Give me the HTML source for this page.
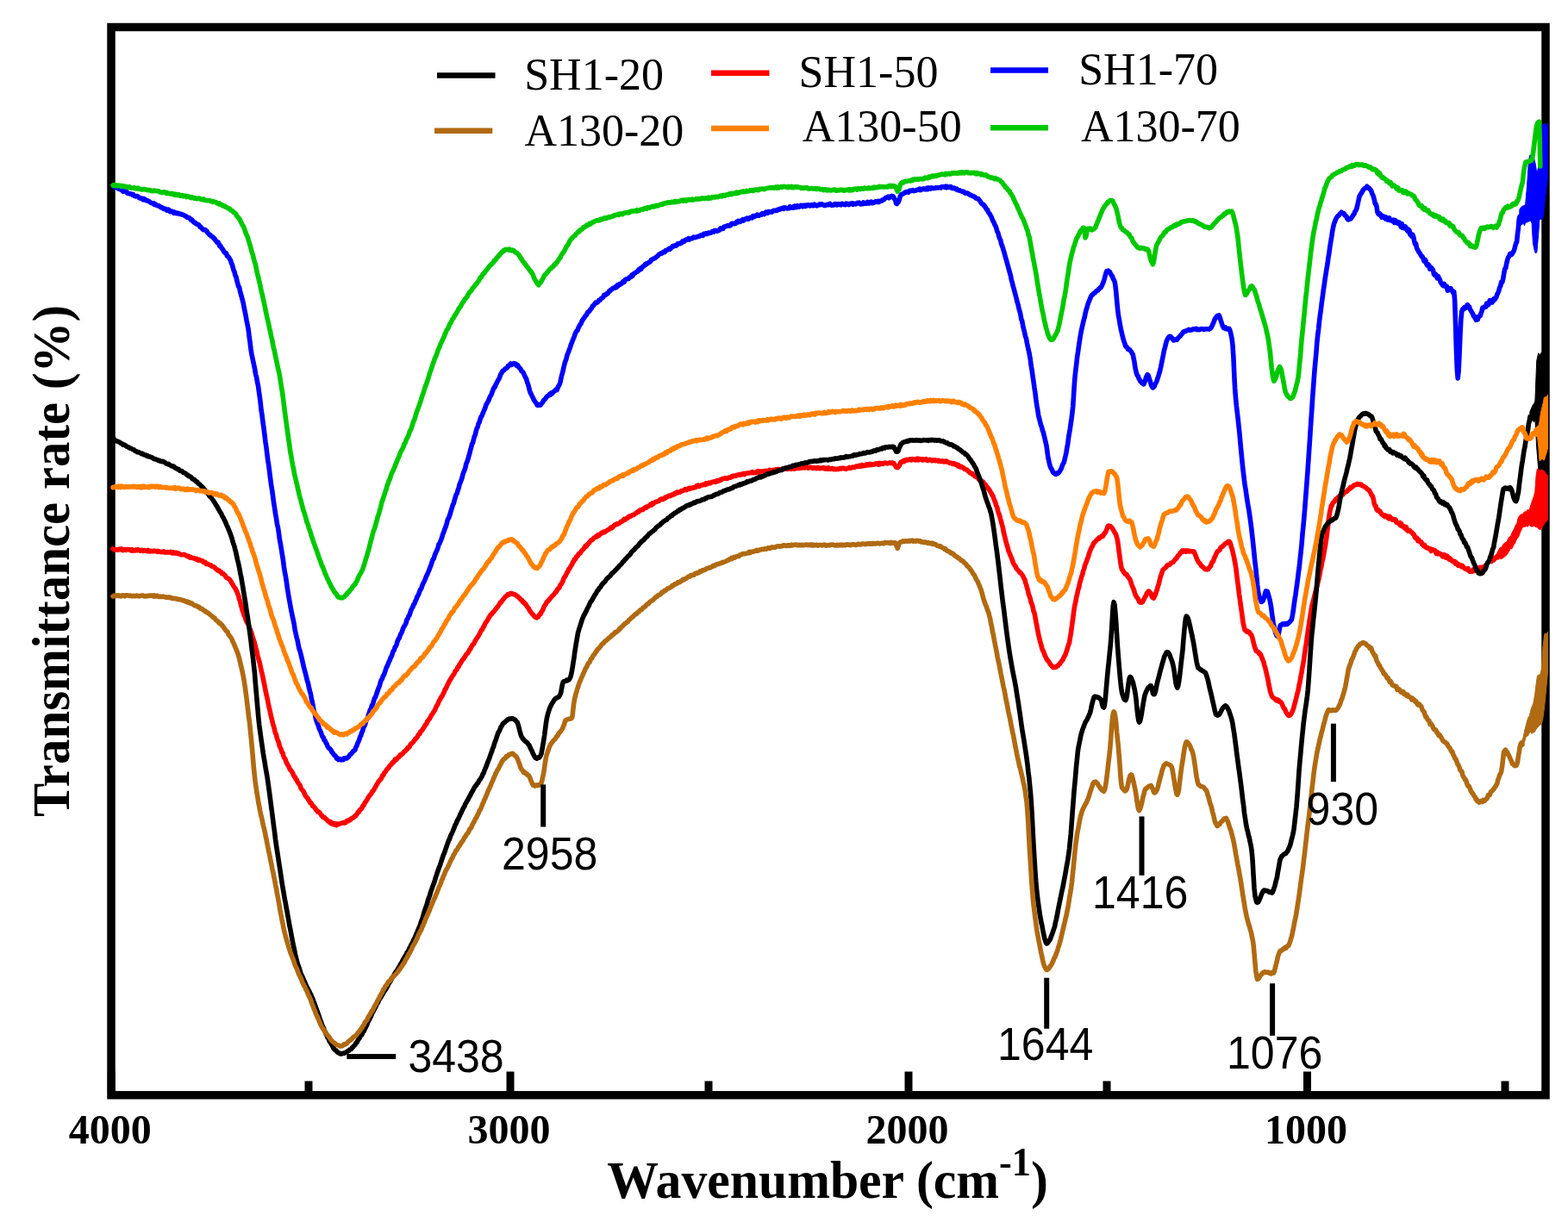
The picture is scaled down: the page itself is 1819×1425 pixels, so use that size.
<!DOCTYPE html>
<html><head><meta charset="utf-8"><title>FTIR spectra</title>
<style>
html,body{margin:0;padding:0;background:#fff;}
body{width:1819px;height:1425px;overflow:hidden;}
svg{display:block;}
.ser{font-family:'Liberation Serif','Times New Roman',serif;}
.san{font-family:'Liberation Sans',Arial,sans-serif;}
</style></head><body>
<svg width="1819" height="1425" viewBox="0 0 1819 1425">
<rect x="0" y="0" width="1819" height="1425" fill="#fff"/>
<rect x="129" y="31.5" width="1664" height="1239.3" fill="none" stroke="#000" stroke-width="9.5"/>
<rect x="124.8" y="1243.5" width="9" height="25" fill="#000"/>
<rect x="587.5" y="1243.5" width="9" height="25" fill="#000"/>
<rect x="1049.5" y="1243.5" width="9" height="25" fill="#000"/>
<rect x="1512.0" y="1243.5" width="9" height="25" fill="#000"/>
<rect x="353.5" y="1254.5" width="9" height="14" fill="#000"/>
<rect x="817.5" y="1254.5" width="9" height="14" fill="#000"/>
<rect x="1279.5" y="1254.5" width="9" height="14" fill="#000"/>
<rect x="1741.5" y="1254.5" width="9" height="14" fill="#000"/>
<g fill="none" stroke-width="5.6" stroke-linejoin="round" stroke-linecap="round">
<polyline stroke="#ff0000" points="131.0,636.8 132.0,637.4 133.0,637.9 134.0,637.8 135.0,637.9 136.0,637.5 137.0,638.1 138.0,637.7 138.9,637.0 139.9,637.7 140.9,637.0 141.9,638.5 142.9,638.6 143.9,637.6 144.9,637.6 145.9,638.4 146.9,637.5 147.9,637.5 148.9,637.6 149.9,637.8 150.9,638.3 151.9,638.9 152.9,637.7 153.9,639.0 154.8,638.4 155.8,639.0 156.8,638.9 157.8,637.9 158.8,638.7 159.8,637.9 160.8,637.8 161.8,638.4 162.8,639.1 163.8,638.8 164.8,638.3 165.8,639.3 166.8,639.5 167.8,638.5 168.8,638.9 169.8,639.2 170.8,639.7 171.8,638.5 172.8,639.2 173.8,639.9 174.8,639.4 175.8,639.7 176.8,639.8 177.8,639.4 178.8,639.1 179.8,639.7 180.7,639.6 181.7,639.4 182.7,640.3 183.7,639.6 184.7,639.8 185.7,640.4 186.7,640.5 187.7,640.7 188.7,640.4 189.7,639.8 190.7,640.9 191.7,641.1 192.7,640.8 193.7,641.0 194.7,640.7 195.7,640.8 196.7,641.0 197.7,640.4 198.7,641.4 199.7,641.8 200.7,640.8 201.7,641.9 202.6,642.0 203.6,641.2 204.6,641.3 205.6,642.4 206.6,642.0 207.6,642.3 208.5,643.1 209.5,643.4 210.5,643.8 211.5,643.7 212.5,643.6 213.5,643.4 214.4,643.8 215.4,644.3 216.4,645.1 217.4,645.7 218.4,645.2 219.4,645.8 220.3,647.0 221.3,646.4 222.3,647.2 223.3,647.4 224.3,647.8 225.3,647.8 226.2,648.3 227.2,648.9 228.2,648.4 229.2,649.8 230.2,650.3 231.1,649.3 232.1,650.0 233.1,650.5 234.1,650.6 235.1,651.1 236.0,652.4 237.0,652.0 238.0,652.4 239.0,654.3 240.0,653.9 240.9,654.6 241.9,655.0 242.9,655.3 243.9,656.0 244.9,656.1 245.8,657.3 246.8,657.3 247.8,657.7 248.8,658.4 249.7,659.3 250.7,660.7 251.6,660.8 252.6,662.1 253.5,661.8 254.5,662.2 255.4,663.6 256.4,663.5 257.4,665.6 258.3,665.4 259.3,666.0 260.2,666.8 261.2,667.7 262.1,669.6 263.1,670.6 264.0,670.9 265.0,671.4 266.0,672.1 267.0,673.3 267.9,674.9 268.9,676.7 269.9,678.1 270.9,679.9 271.9,681.5 272.8,682.4 273.8,684.8 274.8,686.4 275.7,689.1 276.6,691.0 277.6,695.5 278.5,697.3 279.4,701.8 280.4,704.8 281.3,708.7 282.2,710.5 283.2,714.4 284.2,715.5 285.1,719.1 286.1,721.3 287.1,723.2 288.1,724.9 289.1,727.6 290.0,730.1 291.0,732.3 292.0,735.1 293.0,739.2 294.0,742.0 295.0,745.0 296.0,749.2 296.9,752.9 297.9,755.9 298.9,760.6 299.9,764.6 300.9,767.8 301.9,772.2 302.9,777.2 303.9,781.1 304.8,785.1 305.8,790.0 306.8,794.9 307.8,800.2 308.8,805.3 309.7,808.9 310.7,813.7 311.7,819.0 312.7,822.9 313.7,827.6 314.6,831.7 315.6,835.7 316.6,840.2 317.5,842.7 318.5,846.8 319.4,850.6 320.4,852.4 321.3,856.4 322.3,859.1 323.2,861.2 324.2,865.2 325.1,867.6 326.1,869.5 327.0,872.8 328.0,873.9 328.9,877.3 329.9,879.5 330.8,880.5 331.8,883.8 332.7,885.6 333.7,887.7 334.6,888.5 335.6,891.1 336.5,892.9 337.5,894.0 338.5,895.2 339.4,896.8 340.4,899.2 341.3,900.9 342.3,901.8 343.2,904.2 344.2,904.9 345.1,907.2 346.1,908.8 347.1,910.0 348.1,911.4 349.0,914.4 350.0,916.0 351.0,917.2 352.0,918.0 353.0,920.4 353.9,922.7 354.9,924.0 355.9,925.5 356.9,926.0 357.9,928.3 358.8,929.2 359.8,931.8 360.8,931.7 361.8,933.3 362.8,935.6 363.7,935.6 364.7,936.9 365.7,938.0 366.7,939.9 367.7,940.6 368.7,942.0 369.6,941.9 370.6,942.7 371.6,944.2 372.6,945.9 373.6,946.6 374.6,948.1 375.5,948.7 376.5,948.6 377.5,949.9 378.5,950.6 379.5,951.5 380.5,952.9 381.4,953.2 382.4,954.4 383.4,953.8 384.4,955.8 385.4,955.0 386.4,956.4 387.3,956.8 388.3,955.8 389.3,956.7 390.3,957.5 391.3,955.9 392.2,956.6 393.2,956.3 394.1,956.1 395.1,955.6 396.0,955.3 397.0,955.1 397.9,954.7 398.9,954.4 399.9,955.0 400.8,954.7 401.8,953.1 402.7,952.3 403.7,952.2 404.6,952.6 405.6,951.0 406.5,951.3 407.5,949.8 408.5,949.7 409.5,948.7 410.4,948.6 411.4,947.3 412.4,947.0 413.4,945.5 414.4,944.2 415.3,942.4 416.3,942.5 417.3,939.9 418.3,939.3 419.3,938.6 420.2,936.9 421.2,934.7 422.2,934.2 423.2,931.6 424.2,930.6 425.1,929.0 426.1,927.7 427.1,925.5 428.1,924.2 429.1,922.6 430.0,922.1 431.0,920.4 432.0,918.3 433.0,917.6 434.0,915.9 435.0,913.9 435.9,912.8 436.9,910.6 437.9,909.2 438.9,907.4 439.9,905.9 440.9,905.1 441.9,903.9 442.8,902.3 443.8,899.8 444.8,899.4 445.8,896.9 446.8,896.0 447.8,894.5 448.7,892.9 449.7,891.9 450.7,890.9 451.7,889.4 452.7,888.0 453.6,887.4 454.6,886.2 455.6,884.6 456.6,884.6 457.5,882.7 458.5,881.1 459.5,881.7 460.4,880.8 461.4,879.2 462.4,878.7 463.4,877.7 464.3,875.9 465.3,876.1 466.3,875.0 467.2,874.7 468.2,873.0 469.2,871.7 470.1,871.6 471.1,870.3 472.1,869.8 473.1,867.4 474.0,867.4 475.0,866.7 476.0,864.3 477.0,863.0 478.0,862.5 478.9,861.5 479.9,860.3 480.9,858.9 481.9,857.3 482.9,856.6 483.9,855.7 484.8,853.6 485.8,852.1 486.8,851.7 487.8,849.0 488.8,848.3 489.8,847.3 490.7,845.8 491.7,844.3 492.7,842.7 493.7,840.9 494.7,840.2 495.7,837.2 496.6,836.3 497.6,834.8 498.6,833.7 499.6,831.5 500.6,829.7 501.6,828.5 502.5,827.1 503.5,825.2 504.5,824.0 505.5,821.5 506.5,819.2 507.4,818.1 508.4,815.8 509.4,813.3 510.4,812.0 511.4,809.6 512.3,808.5 513.3,806.9 514.3,804.7 515.3,803.1 516.3,799.9 517.2,799.1 518.2,797.1 519.2,794.4 520.2,792.9 521.2,790.7 522.1,789.1 523.1,787.7 524.1,785.8 525.1,784.2 526.1,783.1 527.1,781.4 528.0,778.9 529.0,778.1 530.0,776.8 531.0,774.1 532.0,773.7 533.0,771.0 533.9,770.2 534.9,768.6 535.9,766.6 536.9,765.2 537.9,764.6 538.9,762.5 539.8,761.4 540.8,759.4 541.8,758.6 542.8,757.7 543.8,755.9 544.8,753.8 545.7,753.2 546.7,750.7 547.7,749.1 548.7,747.8 549.7,747.1 550.7,744.6 551.7,742.8 552.6,741.5 553.6,740.0 554.6,738.6 555.6,736.8 556.6,735.0 557.6,732.9 558.5,731.3 559.5,730.5 560.5,728.0 561.5,726.7 562.5,724.4 563.5,722.3 564.4,721.3 565.4,719.9 566.4,718.1 567.4,716.3 568.4,714.7 569.4,713.1 570.3,712.8 571.3,711.2 572.3,710.3 573.3,709.2 574.3,707.8 575.3,706.6 576.2,705.5 577.2,704.2 578.2,702.7 579.2,701.5 580.2,699.3 581.1,699.1 582.1,697.6 583.1,696.3 584.1,695.2 585.1,694.0 586.0,692.7 587.0,691.8 588.0,691.6 589.0,689.9 590.0,690.0 590.9,690.0 591.9,688.7 592.9,688.5 593.9,688.8 594.9,689.2 595.8,689.6 596.8,689.6 597.8,690.2 598.8,690.7 599.8,691.9 600.7,692.2 601.7,693.3 602.7,693.9 603.7,695.5 604.7,696.4 605.6,696.6 606.6,698.8 607.6,698.5 608.6,700.4 609.6,700.6 610.6,702.3 611.5,703.8 612.5,705.2 613.5,706.4 614.5,708.7 615.5,709.9 616.5,711.2 617.5,712.4 618.5,713.3 619.4,714.5 620.4,715.7 621.4,716.2 622.4,716.8 623.3,716.2 624.3,716.0 625.2,714.1 626.2,712.8 627.1,712.6 628.1,710.1 629.0,708.7 630.0,707.4 630.9,704.4 631.9,702.7 632.8,701.6 633.8,699.7 634.7,698.1 635.6,697.9 636.6,696.5 637.5,695.3 638.5,694.5 639.4,692.9 640.4,691.9 641.3,690.8 642.3,690.2 643.2,688.8 644.2,687.8 645.1,686.6 646.1,685.4 647.0,683.3 648.0,683.0 649.0,681.7 649.9,678.8 650.9,678.2 651.9,676.1 652.9,674.6 653.9,671.6 654.8,669.8 655.8,668.7 656.8,666.8 657.8,664.2 658.8,663.4 659.7,660.5 660.7,659.9 661.7,658.0 662.7,656.2 663.7,654.7 664.6,652.2 665.6,651.3 666.6,648.9 667.6,648.8 668.5,646.6 669.5,645.1 670.4,645.0 671.4,642.6 672.4,642.4 673.3,641.7 674.3,639.8 675.2,638.7 676.2,637.9 677.2,636.8 678.1,635.3 679.1,633.5 680.1,634.0 681.0,632.5 682.0,631.2 682.9,630.5 683.9,628.9 684.9,628.0 685.8,626.8 686.8,626.5 687.7,626.0 688.7,624.5 689.7,623.8 690.7,623.4 691.7,622.1 692.6,622.7 693.6,621.0 694.6,621.5 695.6,620.4 696.6,619.4 697.6,618.4 698.5,618.7 699.5,617.2 700.5,617.1 701.5,617.6 702.5,616.8 703.5,616.0 704.5,615.3 705.4,614.7 706.4,614.4 707.4,614.0 708.4,612.2 709.4,612.8 710.4,612.4 711.3,611.1 712.3,610.1 713.3,609.1 714.3,608.9 715.3,607.9 716.2,608.3 717.2,607.5 718.2,607.2 719.2,606.8 720.2,605.3 721.1,605.4 722.1,604.8 723.1,603.9 724.1,602.5 725.1,603.2 726.0,602.2 727.0,601.4 728.0,601.5 729.0,599.7 730.0,599.0 730.9,599.5 731.9,599.0 732.9,598.1 733.9,597.6 734.9,597.4 735.9,596.9 736.9,596.1 737.9,595.6 738.9,594.7 739.9,593.6 740.9,594.0 741.9,592.3 742.9,591.9 743.9,592.0 744.9,591.1 745.9,591.4 746.9,589.9 747.9,589.6 748.9,588.6 749.9,589.1 750.9,587.8 751.8,587.8 752.8,587.3 753.8,586.3 754.8,585.2 755.8,586.1 756.8,584.0 757.8,584.8 758.8,583.2 759.8,583.1 760.8,582.6 761.8,582.1 762.8,581.9 763.8,581.5 764.8,581.0 765.8,579.6 766.8,579.6 767.8,578.8 768.8,579.6 769.8,578.5 770.8,578.7 771.8,577.1 772.7,577.4 773.7,576.7 774.7,575.9 775.7,575.3 776.7,575.5 777.6,575.6 778.6,574.5 779.6,574.2 780.6,574.4 781.6,572.9 782.5,572.7 783.5,573.2 784.5,571.5 785.5,571.0 786.5,571.7 787.4,571.0 788.4,571.3 789.4,570.4 790.4,569.6 791.4,569.9 792.3,569.2 793.3,569.1 794.3,568.1 795.3,567.6 796.3,568.6 797.3,568.2 798.3,566.8 799.3,566.4 800.2,567.3 801.2,566.8 802.2,566.1 803.2,566.4 804.2,566.1 805.2,565.8 806.2,565.7 807.2,565.2 808.2,563.7 809.2,564.4 810.1,563.3 811.1,564.3 812.1,563.9 813.1,563.3 814.1,562.8 815.1,562.9 816.1,562.0 817.1,562.4 818.1,562.6 819.1,560.9 820.0,561.2 821.0,561.6 822.0,560.3 823.0,560.3 824.0,560.8 825.0,560.1 826.0,559.3 827.0,559.3 828.0,559.0 829.0,558.9 830.0,559.4 831.0,557.9 832.0,557.7 833.0,558.4 834.0,557.4 834.9,557.4 835.9,557.4 836.9,555.9 837.9,555.7 838.9,555.4 839.9,555.2 840.9,554.7 841.9,554.7 842.9,555.5 843.9,555.2 844.9,554.5 845.9,554.0 846.9,554.1 847.9,554.1 848.9,552.8 849.9,553.2 850.9,552.0 851.9,552.2 852.8,552.2 853.8,552.1 854.8,551.2 855.8,551.3 856.8,550.7 857.8,550.8 858.8,551.3 859.8,550.2 860.8,550.1 861.8,550.4 862.8,549.5 863.8,550.5 864.8,549.4 865.8,549.2 866.8,549.1 867.8,549.1 868.8,548.9 869.8,548.7 870.8,548.6 871.8,548.1 872.8,547.7 873.8,548.8 874.8,548.6 875.8,548.4 876.8,547.8 877.8,548.4 878.8,547.0 879.8,546.7 880.7,548.0 881.7,547.2 882.7,547.1 883.7,546.9 884.7,547.1 885.7,546.9 886.7,546.9 887.7,546.4 888.7,546.8 889.7,546.5 890.7,546.6 891.7,546.4 892.7,545.3 893.7,545.7 894.7,546.0 895.7,545.9 896.7,545.4 897.7,545.5 898.7,545.9 899.7,544.8 900.7,544.7 901.7,544.7 902.7,544.4 903.7,545.0 904.7,544.9 905.7,545.4 906.7,544.6 907.7,544.0 908.6,543.7 909.6,544.4 910.6,543.6 911.6,543.5 912.6,544.0 913.6,544.4 914.6,543.5 915.6,543.4 916.6,543.0 917.6,544.3 918.6,544.0 919.6,543.5 920.6,542.7 921.6,544.0 922.6,543.4 923.6,543.5 924.6,543.4 925.6,543.2 926.5,542.9 927.5,543.4 928.5,542.3 929.5,542.5 930.5,543.0 931.5,542.8 932.5,542.8 933.5,542.9 934.5,542.2 935.5,542.3 936.5,542.0 937.5,543.1 938.5,543.0 939.5,542.1 940.5,542.4 941.5,542.6 942.5,543.4 943.5,543.3 944.5,542.5 945.5,542.9 946.5,543.2 947.5,543.6 948.5,542.6 949.5,542.7 950.5,543.7 951.5,543.6 952.5,543.0 953.5,543.0 954.4,543.3 955.4,542.7 956.4,543.7 957.4,544.0 958.4,543.2 959.4,544.3 960.4,544.3 961.4,543.0 962.4,544.2 963.4,544.3 964.4,544.0 965.4,543.4 966.4,543.9 967.4,544.7 968.4,544.1 969.4,544.7 970.4,544.5 971.4,544.2 972.4,544.5 973.4,543.9 974.4,543.4 975.4,544.0 976.4,543.4 977.4,543.5 978.4,543.1 979.4,543.7 980.4,544.0 981.4,544.2 982.3,543.7 983.3,543.5 984.3,543.4 985.3,542.4 986.3,542.9 987.3,543.2 988.3,542.6 989.3,542.0 990.3,542.4 991.3,542.4 992.3,541.5 993.3,541.0 994.3,541.0 995.3,541.5 996.3,540.5 997.3,540.3 998.3,541.3 999.3,539.7 1000.2,539.6 1001.2,540.6 1002.2,540.2 1003.2,540.4 1004.2,540.3 1005.2,539.0 1006.2,539.8 1007.2,538.9 1008.2,539.5 1009.2,538.4 1010.2,539.4 1011.2,538.5 1012.2,539.1 1013.2,538.7 1014.2,538.9 1015.2,538.5 1016.1,537.8 1017.1,538.1 1018.1,538.0 1019.1,539.1 1020.1,537.5 1021.1,538.6 1022.1,537.5 1023.1,537.7 1024.1,538.3 1025.1,538.0 1026.1,537.1 1027.1,537.4 1028.1,537.4 1029.1,537.9 1030.0,537.6 1031.0,537.5 1032.0,536.8 1033.0,537.4 1034.0,537.5 1035.0,536.9 1036.0,537.6 1036.9,537.5 1037.8,539.2 1038.7,540.5 1039.6,542.2 1040.5,542.3 1041.4,542.6 1042.3,541.5 1043.2,540.5 1044.2,537.9 1045.1,536.2 1046.0,535.8 1047.0,536.0 1047.9,534.8 1048.9,535.6 1049.8,534.1 1050.8,534.4 1051.7,533.3 1052.7,533.8 1053.6,533.9 1054.6,533.3 1055.5,532.8 1056.5,533.2 1057.4,533.8 1058.4,532.6 1059.4,533.4 1060.4,533.1 1061.4,533.8 1062.4,532.7 1063.4,533.6 1064.4,532.3 1065.4,533.8 1066.4,532.4 1067.4,532.9 1068.3,532.8 1069.3,532.9 1070.3,533.9 1071.3,532.9 1072.3,533.5 1073.3,533.6 1074.3,532.8 1075.3,534.0 1076.3,534.4 1077.3,533.7 1078.3,533.3 1079.3,533.5 1080.3,534.0 1081.3,534.7 1082.3,534.5 1083.3,533.8 1084.3,533.7 1085.3,534.7 1086.2,534.4 1087.2,534.3 1088.2,535.1 1089.2,534.4 1090.2,535.3 1091.2,535.4 1092.2,535.5 1093.2,534.8 1094.2,535.3 1095.2,536.0 1096.2,535.2 1097.2,535.0 1098.2,535.1 1099.1,536.3 1100.1,536.3 1101.1,536.9 1102.1,537.5 1103.1,537.2 1104.1,537.3 1105.1,538.3 1106.0,538.4 1107.0,537.7 1108.0,538.4 1109.0,539.3 1110.0,539.1 1111.0,540.7 1111.9,539.6 1112.9,541.4 1113.9,541.9 1114.9,541.4 1115.9,541.8 1116.9,542.7 1117.8,542.7 1118.8,544.5 1119.8,544.5 1120.8,544.9 1121.8,545.2 1122.7,546.4 1123.7,547.2 1124.7,548.1 1125.7,548.8 1126.7,549.6 1127.6,549.3 1128.6,550.6 1129.6,551.2 1130.6,552.6 1131.6,552.4 1132.5,553.3 1133.5,553.9 1134.5,554.7 1135.5,556.4 1136.5,557.1 1137.4,558.0 1138.4,557.8 1139.4,558.8 1140.4,559.0 1141.4,560.9 1142.3,561.6 1143.3,562.4 1144.3,564.3 1145.2,565.6 1146.2,566.3 1147.2,567.8 1148.1,569.1 1149.0,570.9 1150.0,572.2 1151.0,574.7 1151.9,575.6 1152.9,578.7 1153.8,580.9 1154.8,583.3 1155.7,586.7 1156.7,588.5 1157.6,592.9 1158.6,595.8 1159.5,597.9 1160.5,602.2 1161.4,604.7 1162.4,609.0 1163.3,611.8 1164.2,617.2 1165.2,621.2 1166.1,624.7 1167.0,628.5 1168.0,632.2 1168.9,634.7 1169.8,638.9 1170.8,640.9 1171.7,643.6 1172.7,646.0 1173.6,647.8 1174.6,650.8 1175.5,653.3 1176.5,655.3 1177.4,656.2 1178.4,657.8 1179.3,660.1 1180.3,661.0 1181.2,662.0 1182.2,663.1 1183.1,664.5 1184.1,664.8 1185.0,666.1 1186.0,667.4 1186.9,668.8 1187.9,671.3 1188.8,672.5 1189.7,676.1 1190.6,678.6 1191.5,682.1 1192.4,685.0 1193.3,689.5 1194.2,691.6 1195.2,694.6 1196.1,698.9 1197.1,700.9 1198.1,704.5 1199.0,709.1 1200.0,711.5 1201.0,716.4 1201.9,721.6 1202.9,726.6 1203.9,731.9 1204.9,737.4 1205.8,740.8 1206.8,745.0 1207.7,747.8 1208.7,752.0 1209.6,754.6 1210.6,756.0 1211.5,758.9 1212.5,761.4 1213.4,763.0 1214.4,765.1 1215.3,766.7 1216.2,767.0 1217.1,768.6 1218.0,770.2 1218.9,771.5 1219.9,772.4 1220.8,773.6 1221.7,774.4 1222.6,774.6 1223.5,774.0 1224.5,774.3 1225.4,773.9 1226.4,772.6 1227.3,772.8 1228.3,771.3 1229.2,770.7 1230.2,768.8 1231.1,768.0 1232.1,766.5 1233.0,765.6 1234.0,763.1 1234.9,761.4 1235.8,760.1 1236.8,756.7 1237.7,754.4 1238.6,751.4 1239.6,747.9 1240.5,746.0 1241.4,740.2 1242.3,735.3 1243.2,728.6 1244.1,722.0 1245.0,715.1 1245.9,708.2 1246.8,702.6 1247.8,698.4 1248.8,692.7 1249.7,689.1 1250.7,684.4 1251.7,681.4 1252.7,676.2 1253.6,673.4 1254.6,669.4 1255.6,667.1 1256.6,662.7 1257.5,660.5 1258.5,656.3 1259.5,653.8 1260.5,651.2 1261.4,648.8 1262.4,646.3 1263.3,643.0 1264.3,639.9 1265.2,637.8 1266.2,635.2 1267.1,634.2 1268.1,631.7 1269.0,630.1 1270.0,629.2 1271.0,628.1 1271.9,627.0 1272.9,626.0 1273.8,625.7 1274.8,624.1 1275.7,624.6 1276.7,623.3 1277.6,622.7 1278.6,621.6 1279.5,622.2 1280.5,620.4 1281.4,618.4 1282.3,618.2 1283.2,615.9 1284.1,613.9 1285.0,611.1 1285.9,610.0 1286.8,610.4 1287.7,610.3 1288.7,611.2 1289.6,612.0 1290.6,613.2 1291.5,615.1 1292.5,616.8 1293.4,618.4 1294.4,619.8 1295.3,622.6 1296.2,626.1 1297.1,631.5 1298.0,639.0 1298.9,645.4 1299.8,652.5 1300.7,657.9 1301.6,661.0 1302.5,661.6 1303.5,663.9 1304.4,664.7 1305.3,666.2 1306.3,666.1 1307.2,666.8 1308.1,668.9 1309.1,669.9 1310.0,671.3 1310.9,672.3 1311.9,675.3 1312.8,678.2 1313.7,680.7 1314.7,682.9 1315.6,685.3 1316.5,688.6 1317.5,690.9 1318.4,692.6 1319.3,693.7 1320.2,694.8 1321.1,696.8 1321.9,698.7 1322.8,698.7 1323.7,699.3 1324.7,698.9 1325.6,698.5 1326.5,696.2 1327.5,694.8 1328.5,692.3 1329.4,691.3 1330.4,688.3 1331.3,687.8 1332.2,686.0 1333.2,686.2 1334.0,687.4 1334.9,688.1 1335.7,690.8 1336.6,692.8 1337.4,693.7 1338.4,694.1 1339.3,692.0 1340.3,690.3 1341.3,687.0 1342.2,684.5 1343.2,680.7 1344.2,677.8 1345.2,673.6 1346.1,669.7 1347.1,667.1 1348.1,663.9 1349.0,661.3 1350.0,660.4 1351.0,659.6 1351.9,658.9 1352.9,658.0 1353.8,656.1 1354.8,656.0 1355.7,655.3 1356.7,655.5 1357.6,654.5 1358.6,653.2 1359.5,653.0 1360.5,652.6 1361.5,651.4 1362.5,650.3 1363.4,649.0 1364.4,648.4 1365.4,646.9 1366.4,644.9 1367.3,644.5 1368.3,643.2 1369.3,641.4 1370.3,640.6 1371.2,639.3 1372.2,640.2 1373.2,638.9 1374.2,639.2 1375.1,640.1 1376.1,640.2 1377.0,639.0 1378.0,639.6 1378.9,639.2 1379.9,639.9 1380.8,639.5 1381.8,639.7 1382.7,639.8 1383.7,640.3 1384.6,639.8 1385.5,640.8 1386.4,643.3 1387.3,645.3 1388.2,647.8 1389.1,649.9 1390.0,651.7 1391.0,653.4 1391.9,653.7 1392.9,655.3 1393.8,656.9 1394.8,657.5 1395.7,658.1 1396.7,659.4 1397.6,660.3 1398.6,660.8 1399.5,660.3 1400.5,660.9 1401.5,660.6 1402.5,659.2 1403.4,657.8 1404.4,657.0 1405.4,654.1 1406.4,652.1 1407.3,651.5 1408.3,648.6 1409.3,646.1 1410.3,644.3 1411.2,641.9 1412.2,640.2 1413.2,639.3 1414.2,638.8 1415.1,637.9 1416.1,635.4 1417.1,634.8 1418.0,634.4 1419.0,633.0 1420.0,632.6 1421.0,631.0 1421.9,630.6 1422.9,630.3 1423.9,629.3 1424.8,628.4 1425.8,628.2 1426.7,629.0 1427.6,631.6 1428.5,634.9 1429.4,637.2 1430.3,641.5 1431.2,645.1 1432.1,649.6 1433.0,654.4 1433.9,659.9 1434.8,667.6 1435.7,674.9 1436.6,681.4 1437.5,689.3 1438.4,695.7 1439.3,702.3 1440.3,709.2 1441.2,715.8 1442.1,722.9 1443.1,727.0 1444.0,730.8 1445.0,731.9 1445.9,731.7 1446.8,733.4 1447.8,732.6 1448.8,733.4 1449.7,734.2 1450.6,735.8 1451.6,736.7 1452.6,739.1 1453.6,743.2 1454.6,747.3 1455.6,751.1 1456.6,753.4 1457.4,755.5 1458.3,755.7 1459.2,756.5 1460.0,756.8 1460.8,758.8 1461.7,758.5 1462.5,759.6 1463.4,762.0 1464.2,763.9 1465.1,766.3 1466.0,768.4 1466.8,772.1 1467.8,774.9 1468.8,779.5 1469.8,783.9 1470.8,787.8 1471.8,793.9 1472.7,797.8 1473.7,802.8 1474.7,805.7 1475.7,808.2 1476.7,809.3 1477.7,810.1 1478.7,810.7 1479.6,811.7 1480.6,812.6 1481.6,811.7 1482.5,813.3 1483.5,812.9 1484.5,814.4 1485.5,814.4 1486.5,815.5 1487.4,817.1 1488.4,820.0 1489.4,821.8 1490.3,822.5 1491.3,825.1 1492.3,827.1 1493.3,828.4 1494.2,829.7 1495.2,830.5 1496.2,830.0 1497.1,829.5 1498.0,828.1 1498.9,826.2 1499.8,824.2 1500.8,821.3 1501.7,817.5 1502.6,814.7 1503.5,810.8 1504.4,807.1 1505.3,803.8 1506.2,800.4 1507.1,794.8 1508.0,791.6 1508.9,785.6 1509.9,781.0 1510.8,775.3 1511.7,770.7 1512.6,765.2 1513.5,758.5 1514.4,752.3 1515.4,746.7 1516.3,739.7 1517.2,733.4 1518.2,726.6 1519.1,720.3 1520.1,714.1 1521.0,708.8 1522.0,702.8 1523.0,699.0 1524.0,695.1 1525.0,691.0 1526.0,687.3 1527.0,683.1 1528.0,679.8 1529.0,675.2 1530.0,671.2 1530.9,666.7 1531.9,661.1 1532.8,657.9 1533.8,652.0 1534.7,648.1 1535.6,643.6 1536.6,637.5 1537.5,632.8 1538.5,626.3 1539.4,619.3 1540.4,611.3 1541.4,602.6 1542.4,595.6 1543.3,591.3 1544.3,587.0 1545.3,586.4 1546.2,583.4 1547.2,582.8 1548.2,582.0 1549.1,579.8 1550.1,579.3 1551.1,578.5 1552.0,577.3 1553.0,577.0 1554.0,575.6 1555.0,574.7 1555.9,574.3 1556.9,574.5 1557.9,574.0 1558.8,572.4 1559.8,571.3 1560.8,571.0 1561.8,570.6 1562.7,570.3 1563.7,568.4 1564.7,567.7 1565.7,567.4 1566.6,565.5 1567.6,566.0 1568.6,565.2 1569.5,564.4 1570.5,563.1 1571.5,563.1 1572.5,562.6 1573.5,562.4 1574.4,561.4 1575.4,562.3 1576.4,562.1 1577.4,561.9 1578.4,562.7 1579.4,562.4 1580.4,563.7 1581.4,564.2 1582.4,564.6 1583.4,565.2 1584.4,565.8 1585.4,567.0 1586.4,567.6 1587.4,568.4 1588.4,569.1 1589.3,570.8 1590.3,572.6 1591.2,574.5 1592.2,575.5 1593.1,578.3 1594.1,583.8 1595.0,586.6 1596.0,587.1 1596.9,590.9 1597.9,592.2 1598.8,591.6 1599.8,593.4 1600.7,593.1 1601.7,594.7 1602.6,596.2 1603.6,597.2 1604.5,598.2 1605.5,597.9 1606.5,599.5 1607.4,598.2 1608.4,599.2 1609.3,600.5 1610.3,599.1 1611.3,601.8 1612.2,599.4 1613.2,601.6 1614.1,601.6 1615.1,603.0 1616.0,602.4 1617.0,602.6 1618.0,603.8 1618.9,602.9 1619.9,606.3 1620.8,606.7 1621.8,607.1 1622.7,606.9 1623.7,606.5 1624.6,609.7 1625.6,607.5 1626.5,610.6 1627.5,610.7 1628.4,610.5 1629.4,613.0 1630.3,612.8 1631.3,611.6 1632.2,615.2 1633.2,616.1 1634.1,615.9 1635.1,615.4 1636.1,616.3 1637.0,617.4 1638.0,618.0 1639.0,619.6 1640.0,619.7 1641.0,622.4 1641.9,624.2 1642.9,623.6 1643.9,624.4 1644.8,627.7 1645.8,626.2 1646.8,628.1 1647.8,629.2 1648.8,628.8 1649.7,631.7 1650.7,632.2 1651.7,633.4 1652.6,632.5 1653.6,635.0 1654.5,634.9 1655.5,635.8 1656.4,635.6 1657.4,636.7 1658.4,636.7 1659.3,636.8 1660.3,639.4 1661.2,637.5 1662.2,638.1 1663.2,638.2 1664.1,638.4 1665.1,639.6 1666.0,642.2 1667.0,640.4 1667.9,642.8 1668.9,642.6 1669.8,642.2 1670.8,642.6 1671.7,643.8 1672.6,643.5 1673.5,645.8 1674.5,645.1 1675.4,643.6 1676.3,644.3 1677.2,647.0 1678.2,644.8 1679.1,645.5 1680.0,646.9 1681.0,649.1 1681.9,647.8 1682.9,648.6 1683.9,650.5 1684.8,650.8 1685.8,651.9 1686.8,651.2 1687.7,651.5 1688.7,654.2 1689.6,653.0 1690.6,655.2 1691.6,656.1 1692.5,655.1 1693.5,656.3 1694.5,655.9 1695.4,657.6 1696.4,656.4 1697.4,657.8 1698.3,659.1 1699.3,659.9 1700.2,660.1 1701.2,660.6 1702.2,661.0 1703.1,659.6 1704.1,662.4 1705.1,663.2 1706.0,662.5 1707.0,663.1 1708.0,663.2 1709.0,660.7 1710.0,660.7 1711.0,662.4 1712.0,659.2 1713.0,660.1 1714.0,659.3 1715.0,659.4 1716.0,658.6 1717.0,658.4 1718.0,659.3 1719.0,658.4 1720.0,658.1 1721.0,658.2"/>
<polygon fill="#ff0000" stroke="#ff0000" stroke-width="1" points="1721.0,655.2 1722.0,653.9 1723.4,653.2 1724.9,651.6 1726.1,649.9 1727.6,649.8 1729.3,647.8 1730.8,648.4 1732.2,644.6 1733.8,645.4 1735.7,643.2 1736.8,641.9 1738.5,638.3 1739.8,635.8 1741.4,635.5 1742.8,633.6 1744.4,630.9 1746.1,629.7 1747.9,628.8 1749.9,624.6 1751.1,622.7 1752.2,623.2 1754.0,618.3 1755.9,615.0 1757.2,612.0 1758.3,609.3 1759.7,607.6 1760.9,601.9 1762.0,599.6 1763.8,597.4 1765.2,596.9 1766.7,596.3 1768.2,594.0 1769.6,593.7 1771.1,593.8 1772.2,591.0 1773.4,592.6 1774.6,590.2 1776.2,585.2 1777.8,580.2 1779.5,575.8 1780.8,570.4 1782.1,551.5 1783.3,544.3 1785.2,543.2 1786.3,542.8 1788.0,543.8 1789.3,545.1 1791.1,546.2 1792.5,547.9 1793.7,551.1 1794.9,550.8 1795.5,551.0 1795.5,603.0 1794.9,603.6 1793.7,605.4 1792.5,606.3 1791.1,608.7 1789.3,611.5 1788.0,613.8 1786.3,614.5 1785.2,614.0 1783.3,611.7 1782.1,611.8 1780.8,611.2 1779.5,609.9 1777.8,611.2 1776.2,611.0 1774.6,609.4 1773.4,609.5 1772.2,611.4 1771.1,610.3 1769.6,611.1 1768.2,611.4 1766.7,611.1 1765.2,614.2 1763.8,617.1 1762.0,621.9 1760.9,624.2 1759.7,624.9 1758.3,628.5 1757.2,631.2 1755.9,632.2 1754.0,636.7 1752.2,636.6 1751.1,639.0 1749.9,640.8 1747.9,644.1 1746.1,645.2 1744.4,647.0 1742.8,648.1 1741.4,648.7 1739.8,647.6 1738.5,649.2 1736.8,649.1 1735.7,650.1 1733.8,652.5 1732.2,652.0 1730.8,654.3 1729.3,653.2 1727.6,654.5 1726.1,655.2 1724.9,657.7 1723.4,658.4 1722.0,657.8 1721.0,659.3"/>
<polyline stroke="#000000" points="131.5,509.6 132.5,509.7 133.5,511.1 134.5,511.6 135.5,511.7 136.5,512.4 137.5,512.5 138.5,513.1 139.5,513.7 140.5,514.7 141.5,514.7 142.5,516.1 143.5,515.7 144.5,516.4 145.5,516.8 146.5,518.0 147.5,518.2 148.5,518.8 149.5,519.2 150.5,520.0 151.5,520.3 152.5,520.6 153.5,521.3 154.5,521.7 155.5,522.0 156.5,523.2 157.4,523.5 158.4,523.9 159.4,524.6 160.4,524.5 161.4,525.0 162.3,525.5 163.3,525.9 164.3,526.6 165.3,526.3 166.3,527.2 167.2,527.7 168.2,527.9 169.2,528.0 170.2,529.1 171.2,528.8 172.1,529.8 173.1,529.8 174.1,530.0 175.1,530.6 176.1,530.8 177.1,531.3 178.0,532.2 179.0,532.6 180.0,532.6 181.0,533.2 182.0,533.4 183.0,533.8 183.9,534.5 184.9,534.3 185.9,535.2 186.9,535.3 187.9,535.7 188.9,535.4 189.9,535.8 190.8,536.2 191.8,536.9 192.8,537.9 193.8,538.3 194.8,538.7 195.7,538.4 196.7,539.4 197.6,540.0 198.6,540.5 199.6,541.0 200.5,540.8 201.5,541.3 202.4,542.5 203.4,542.9 204.4,543.6 205.3,543.7 206.3,544.7 207.3,544.5 208.2,545.9 209.2,546.4 210.1,546.4 211.1,546.7 212.1,547.8 213.0,548.6 214.0,548.8 214.9,549.1 215.9,550.0 216.9,551.2 217.9,551.1 218.8,552.6 219.8,552.5 220.8,553.2 221.8,553.8 222.8,555.3 223.7,556.0 224.7,556.1 225.7,556.7 226.7,558.0 227.7,559.0 228.6,559.0 229.6,560.5 230.6,561.6 231.6,562.1 232.6,563.1 233.6,564.4 234.5,564.8 235.5,565.9 236.5,567.4 237.5,568.4 238.5,569.6 239.5,570.5 240.5,572.4 241.5,573.0 242.4,574.6 243.4,576.1 244.4,577.0 245.4,578.0 246.4,579.5 247.4,580.7 248.3,582.2 249.3,583.7 250.3,585.4 251.3,587.0 252.3,588.6 253.2,590.5 254.2,592.1 255.2,593.9 256.2,595.3 257.2,597.4 258.1,599.2 259.1,600.7 260.1,603.0 261.1,604.8 262.1,607.3 263.0,609.6 264.0,611.3 265.0,613.9 266.0,616.4 267.0,618.9 267.9,621.3 268.9,624.2 269.9,628.1 270.8,630.8 271.8,633.7 272.7,637.4 273.6,640.6 274.5,644.8 275.4,649.1 276.4,653.0 277.3,657.0 278.2,661.7 279.0,666.3 279.9,670.2 280.8,675.6 281.7,680.8 282.5,685.9 283.4,691.5 284.4,697.1 285.4,703.8 286.3,710.3 287.3,716.1 288.3,723.6 289.2,729.5 290.1,736.4 291.0,743.1 291.8,750.3 292.7,757.3 293.6,764.4 294.5,772.7 295.4,780.9 296.2,791.3 297.1,801.4 298.0,811.9 298.9,822.1 299.7,831.5 300.6,840.3 301.5,847.2 302.5,854.3 303.4,860.8 304.3,866.9 305.2,873.4 306.1,878.9 307.1,884.6 308.0,890.4 308.9,895.5 309.9,900.9 310.8,907.1 311.7,913.7 312.7,921.0 313.7,928.5 314.6,935.6 315.6,943.0 316.6,951.0 317.6,959.0 318.6,965.9 319.5,973.9 320.5,981.0 321.5,987.5 322.5,993.8 323.4,999.8 324.4,1006.1 325.3,1012.2 326.3,1018.8 327.2,1024.9 328.2,1031.0 329.2,1036.4 330.1,1042.4 331.1,1047.3 332.0,1052.4 333.0,1057.6 333.9,1062.9 334.9,1068.3 335.8,1073.9 336.8,1078.3 337.7,1083.3 338.7,1088.7 339.6,1093.2 340.5,1098.0 341.5,1102.1 342.4,1107.1 343.4,1111.2 344.3,1114.8 345.3,1118.5 346.2,1121.0 347.2,1123.7 348.1,1126.7 349.1,1129.9 350.1,1131.9 351.1,1134.0 352.0,1136.1 353.0,1138.3 354.0,1140.6 354.9,1143.1 355.9,1145.0 356.9,1146.8 357.8,1148.8 358.8,1150.2 359.8,1152.9 360.8,1154.4 361.7,1156.9 362.7,1158.7 363.7,1162.0 364.6,1163.8 365.6,1166.8 366.6,1169.5 367.6,1172.2 368.5,1174.9 369.5,1177.3 370.5,1180.5 371.4,1183.3 372.4,1185.7 373.4,1188.6 374.3,1191.1 375.3,1192.7 376.3,1195.7 377.3,1197.4 378.2,1200.2 379.2,1201.9 380.2,1204.3 381.2,1205.5 382.2,1208.4 383.2,1209.3 384.1,1211.2 385.1,1212.8 386.1,1214.5 387.1,1216.8 388.1,1217.8 389.1,1218.9 390.0,1219.0 391.0,1220.4 391.9,1221.3 392.9,1221.9 393.8,1222.0 394.8,1223.0 395.7,1222.9 396.7,1222.8 397.7,1222.2 398.7,1222.1 399.7,1222.1 400.6,1221.4 401.6,1220.8 402.6,1220.7 403.6,1219.6 404.6,1219.5 405.6,1218.0 406.5,1217.9 407.5,1217.3 408.4,1215.7 409.4,1215.4 410.3,1213.9 411.3,1213.1 412.2,1211.9 413.1,1210.1 414.1,1209.6 415.0,1207.5 416.0,1206.0 416.9,1204.8 417.9,1203.0 418.8,1201.6 419.8,1200.7 420.7,1198.4 421.7,1197.1 422.7,1195.6 423.6,1193.3 424.6,1191.6 425.6,1189.6 426.5,1186.9 427.5,1184.7 428.4,1183.3 429.4,1181.3 430.4,1179.2 431.3,1177.0 432.3,1174.7 433.3,1173.2 434.2,1171.1 435.2,1169.3 436.2,1167.6 437.1,1165.0 438.1,1164.0 439.0,1162.1 440.0,1159.9 440.9,1158.5 441.9,1157.3 442.9,1155.4 443.8,1153.9 444.8,1152.0 445.7,1150.6 446.7,1149.3 447.7,1147.8 448.6,1145.8 449.6,1144.4 450.5,1142.1 451.5,1140.6 452.4,1139.4 453.4,1138.0 454.4,1135.7 455.4,1134.1 456.4,1132.8 457.3,1131.0 458.3,1129.2 459.3,1127.6 460.3,1126.3 461.3,1125.1 462.3,1122.8 463.3,1121.8 464.3,1119.5 465.2,1118.0 466.2,1116.7 467.2,1114.3 468.2,1112.8 469.2,1110.9 470.1,1109.2 471.1,1108.1 472.1,1105.6 473.1,1104.4 474.0,1102.7 475.0,1100.2 476.0,1099.0 476.9,1096.6 477.9,1095.1 478.9,1093.0 479.8,1090.7 480.8,1089.2 481.8,1086.9 482.8,1084.3 483.7,1082.4 484.7,1079.8 485.7,1077.3 486.7,1075.4 487.7,1072.7 488.7,1069.0 489.7,1066.8 490.7,1063.6 491.7,1059.8 492.6,1056.8 493.6,1053.9 494.6,1051.2 495.6,1048.1 496.6,1044.3 497.6,1041.5 498.6,1038.9 499.6,1035.3 500.6,1032.4 501.6,1029.8 502.5,1027.2 503.5,1024.5 504.5,1021.6 505.5,1017.8 506.5,1015.1 507.4,1012.1 508.4,1009.7 509.4,1006.6 510.4,1004.3 511.4,1001.1 512.3,998.3 513.3,995.5 514.3,992.3 515.3,990.2 516.3,987.5 517.2,984.7 518.2,982.0 519.2,978.8 520.2,976.2 521.2,974.0 522.1,971.9 523.1,968.9 524.1,967.3 525.1,965.0 526.1,962.5 527.1,960.1 528.0,957.5 529.0,956.0 530.0,953.2 531.0,951.4 532.0,949.6 533.0,947.4 533.9,944.9 534.9,943.5 535.9,941.0 536.9,939.1 537.9,937.1 538.9,935.5 539.8,932.9 540.8,931.6 541.8,929.6 542.8,928.0 543.8,925.8 544.8,924.1 545.7,922.8 546.7,920.1 547.7,919.0 548.7,917.0 549.6,915.2 550.6,913.6 551.5,912.1 552.5,911.4 553.4,909.3 554.4,908.7 555.3,906.9 556.2,905.2 557.2,904.2 558.1,902.5 559.1,901.1 560.0,898.5 561.0,897.1 561.9,894.3 562.9,892.1 563.8,889.9 564.8,887.3 565.7,884.8 566.6,882.5 567.6,880.1 568.6,877.1 569.6,874.4 570.6,871.9 571.6,868.5 572.6,866.5 573.5,862.9 574.4,860.5 575.3,858.2 576.3,855.0 577.2,852.5 578.1,850.0 579.0,848.8 579.9,846.9 580.8,844.3 581.7,843.1 582.6,841.2 583.5,839.7 584.4,838.8 585.3,838.4 586.2,837.5 587.1,836.5 588.0,836.1 588.9,835.0 589.9,834.7 590.8,834.0 591.7,834.4 592.6,833.8 593.5,834.0 594.5,833.7 595.4,834.2 596.4,834.8 597.3,835.1 598.2,836.2 599.2,837.3 600.1,838.1 601.0,840.7 601.9,843.8 602.8,847.7 603.7,850.7 604.6,854.0 605.5,855.6 606.5,857.2 607.4,858.0 608.4,859.3 609.3,860.2 610.2,861.0 611.2,861.4 612.1,862.7 613.1,863.9 614.1,865.0 615.1,867.7 616.1,869.9 617.1,871.3 618.1,873.9 619.0,875.7 620.0,877.7 621.0,879.4 621.9,879.7 622.8,880.2 623.6,879.8 624.5,878.9 625.3,879.2 626.1,878.4 627.0,877.0 628.0,874.5 628.9,869.9 629.8,864.5 630.8,858.7 631.7,852.8 632.6,845.6 633.6,838.2 634.5,832.9 635.5,828.8 636.4,825.7 637.3,822.8 638.3,820.4 639.1,818.9 640.0,817.0 640.8,815.6 641.7,814.3 642.5,813.0 643.4,811.7 644.3,810.7 645.2,810.2 646.1,809.6 647.0,809.3 647.9,808.9 648.8,807.9 649.7,806.4 650.7,803.7 651.6,798.8 652.5,793.7 653.5,791.1 654.5,790.7 655.4,790.7 656.4,790.1 657.3,789.2 658.2,789.8 659.2,789.2 660.1,788.6 661.1,787.2 662.0,785.2 663.0,780.9 664.0,775.6 664.9,769.6 665.8,764.5 666.6,758.0 667.5,752.1 668.5,745.9 669.5,740.2 670.5,734.5 671.5,731.0 672.5,727.7 673.5,724.6 674.4,721.8 675.4,718.7 676.4,716.3 677.4,713.9 678.4,712.5 679.3,710.5 680.3,708.6 681.3,706.3 682.3,704.5 683.3,702.7 684.3,700.1 685.2,698.2 686.2,697.2 687.2,695.6 688.2,693.7 689.2,692.0 690.2,690.2 691.2,689.1 692.2,687.0 693.1,685.3 694.1,684.6 695.1,682.5 696.1,681.8 697.1,680.4 698.1,678.6 699.0,677.7 700.0,676.4 701.0,675.7 702.0,674.6 703.0,673.0 703.9,671.7 704.9,670.8 705.9,669.9 706.9,669.0 707.9,668.3 708.8,666.7 709.8,665.5 710.8,664.9 711.8,663.7 712.8,663.1 713.7,662.0 714.7,660.9 715.7,660.1 716.7,658.5 717.7,658.0 718.6,656.4 719.6,655.6 720.6,654.7 721.6,653.6 722.6,652.0 723.6,651.3 724.5,650.0 725.5,648.9 726.5,647.9 727.5,646.8 728.5,645.5 729.5,644.8 730.4,644.0 731.4,642.9 732.4,641.0 733.4,639.9 734.4,639.0 735.4,638.1 736.3,637.1 737.3,635.9 738.3,634.8 739.3,634.2 740.3,633.1 741.3,631.9 742.2,630.3 743.2,629.8 744.2,628.1 745.2,628.0 746.2,626.8 747.2,626.1 748.2,624.6 749.1,624.0 750.1,622.6 751.1,622.3 752.1,620.6 753.1,619.5 754.1,618.9 755.0,618.3 756.0,617.3 757.0,616.7 758.0,615.7 759.0,614.9 760.0,614.2 760.9,612.4 761.9,611.6 762.9,611.0 763.9,610.0 764.9,609.6 765.9,608.9 766.8,607.6 767.8,607.1 768.8,606.0 769.8,605.0 770.8,604.5 771.8,603.7 772.7,603.4 773.7,602.9 774.7,601.2 775.7,600.9 776.7,600.1 777.6,599.5 778.6,598.3 779.6,598.3 780.6,596.9 781.6,596.5 782.5,595.6 783.5,595.1 784.5,594.7 785.5,593.8 786.5,592.8 787.4,592.8 788.4,591.4 789.4,591.5 790.4,590.7 791.4,589.7 792.3,589.8 793.3,589.2 794.3,588.3 795.3,588.1 796.3,586.9 797.3,586.6 798.3,586.3 799.3,586.4 800.2,585.3 801.2,585.5 802.2,584.7 803.2,584.4 804.2,584.1 805.2,583.0 806.2,583.4 807.2,582.7 808.2,581.9 809.2,581.5 810.1,581.8 811.1,581.2 812.1,581.2 813.1,580.8 814.1,580.1 815.1,579.6 816.1,579.6 817.1,579.5 818.1,578.4 819.1,578.3 820.0,577.5 821.0,577.1 822.0,576.7 823.0,576.7 824.0,576.5 825.0,576.4 826.0,575.9 827.0,575.7 828.0,574.6 829.0,574.7 830.0,573.8 831.0,573.5 832.0,573.2 833.0,573.3 834.0,572.3 834.9,571.5 835.9,571.4 836.9,571.2 837.9,570.9 838.9,570.0 839.9,569.7 840.9,569.2 841.9,569.1 842.9,568.6 843.9,568.1 844.9,567.9 845.9,567.8 846.9,567.2 847.9,566.9 848.9,566.2 849.9,566.3 850.9,565.1 851.9,564.7 852.8,564.3 853.8,564.3 854.8,563.7 855.8,563.2 856.8,562.6 857.8,563.0 858.8,561.9 859.8,562.1 860.8,562.0 861.8,561.0 862.8,560.9 863.8,560.8 864.8,560.0 865.8,560.1 866.8,558.8 867.8,559.0 868.8,558.8 869.8,558.1 870.8,558.1 871.8,557.9 872.8,557.3 873.8,556.6 874.8,556.4 875.8,556.2 876.8,555.6 877.8,554.7 878.8,554.5 879.8,554.5 880.7,553.6 881.7,553.3 882.7,553.8 883.7,552.9 884.7,553.0 885.7,552.5 886.7,552.1 887.7,551.4 888.7,550.9 889.7,550.3 890.7,550.1 891.7,550.1 892.7,549.8 893.7,549.0 894.7,549.0 895.7,548.6 896.7,548.7 897.7,547.8 898.7,548.0 899.7,547.5 900.7,547.5 901.7,546.5 902.7,546.1 903.7,546.0 904.7,545.5 905.7,545.5 906.7,545.5 907.7,544.7 908.6,544.0 909.6,543.6 910.6,543.8 911.6,543.3 912.6,542.5 913.6,542.5 914.6,542.6 915.6,542.1 916.6,541.5 917.6,541.8 918.6,541.5 919.6,540.3 920.6,540.2 921.6,540.3 922.6,539.7 923.6,539.3 924.6,539.6 925.6,539.4 926.5,538.7 927.5,538.9 928.5,538.3 929.5,538.1 930.5,537.8 931.5,537.8 932.5,537.7 933.5,537.1 934.5,536.9 935.5,537.0 936.5,536.9 937.5,536.5 938.5,535.8 939.5,535.6 940.5,535.7 941.5,535.3 942.5,535.4 943.5,535.3 944.5,534.9 945.5,534.8 946.5,535.2 947.5,535.3 948.5,534.5 949.5,534.9 950.5,534.5 951.5,533.9 952.5,534.7 953.5,533.8 954.4,534.1 955.4,533.5 956.4,533.6 957.4,533.6 958.4,533.5 959.4,533.5 960.4,533.9 961.4,533.4 962.4,533.1 963.4,533.4 964.4,532.9 965.4,533.0 966.4,532.6 967.4,532.8 968.4,532.0 969.4,531.9 970.4,532.3 971.4,532.2 972.4,531.7 973.4,531.2 974.4,531.6 975.4,530.9 976.4,531.0 977.4,531.3 978.4,531.1 979.4,530.9 980.4,530.0 981.4,530.5 982.3,529.6 983.3,530.3 984.3,529.9 985.3,529.7 986.3,529.6 987.3,529.4 988.3,529.1 989.3,529.1 990.3,528.0 991.3,527.8 992.3,528.2 993.3,527.5 994.3,527.9 995.3,527.3 996.3,527.5 997.3,526.6 998.3,526.8 999.3,526.8 1000.2,526.6 1001.2,525.8 1002.2,525.6 1003.2,526.0 1004.2,525.8 1005.2,525.3 1006.2,524.6 1007.2,525.0 1008.2,524.9 1009.2,524.5 1010.2,524.6 1011.2,524.1 1012.2,524.0 1013.2,523.2 1014.2,522.9 1015.2,523.3 1016.2,523.0 1017.2,521.8 1018.2,522.1 1019.2,521.8 1020.2,521.4 1021.2,520.9 1022.2,520.6 1023.2,520.9 1024.2,519.8 1025.2,519.5 1026.2,519.9 1027.2,518.9 1028.2,519.0 1029.2,519.0 1030.2,518.9 1031.2,518.4 1032.2,518.6 1033.2,518.5 1034.2,518.6 1035.2,518.2 1036.2,518.6 1037.1,518.8 1037.9,520.8 1038.8,522.2 1039.6,524.1 1040.5,524.3 1041.4,524.0 1042.4,522.4 1043.3,519.5 1044.2,517.9 1045.2,515.3 1046.1,514.9 1047.0,513.7 1048.0,513.3 1048.9,513.0 1049.9,512.5 1050.8,512.5 1051.8,511.9 1052.7,512.1 1053.7,511.4 1054.6,511.6 1055.6,510.9 1056.5,511.0 1057.5,511.0 1058.4,510.8 1059.4,511.2 1060.4,511.0 1061.3,511.0 1062.3,511.1 1063.3,510.6 1064.3,510.7 1065.3,511.3 1066.2,511.1 1067.2,510.9 1068.2,511.4 1069.2,511.3 1070.2,511.1 1071.1,510.5 1072.1,510.8 1073.1,510.8 1074.1,511.0 1075.1,510.7 1076.0,510.9 1077.0,511.3 1078.0,510.5 1079.0,510.5 1080.0,510.9 1080.9,510.4 1081.9,510.8 1082.9,510.6 1083.9,511.2 1084.9,510.6 1085.8,510.9 1086.8,511.3 1087.8,511.1 1088.8,510.8 1089.8,510.7 1090.8,511.7 1091.7,511.7 1092.7,511.9 1093.7,511.8 1094.7,512.1 1095.7,513.1 1096.7,513.5 1097.7,513.9 1098.7,513.8 1099.6,514.7 1100.6,515.2 1101.6,515.8 1102.6,516.0 1103.6,515.8 1104.5,516.2 1105.5,516.9 1106.4,517.9 1107.4,518.0 1108.3,518.2 1109.3,519.2 1110.2,519.4 1111.2,520.3 1112.2,521.2 1113.1,521.6 1114.1,522.3 1115.0,523.0 1116.0,524.1 1116.9,524.8 1117.9,525.2 1118.8,525.6 1119.8,527.0 1120.8,527.3 1121.8,528.2 1122.7,529.3 1123.7,530.7 1124.7,532.4 1125.7,533.3 1126.7,534.9 1127.6,536.1 1128.6,537.7 1129.6,539.1 1130.5,541.0 1131.4,542.4 1132.4,544.3 1133.3,547.0 1134.2,549.3 1135.2,551.7 1136.1,554.0 1137.0,556.6 1137.9,559.0 1138.8,561.9 1139.7,564.9 1140.7,567.7 1141.6,570.4 1142.5,574.4 1143.4,577.4 1144.3,579.8 1145.2,582.7 1146.2,585.0 1147.2,588.4 1148.1,590.3 1149.0,593.7 1150.0,596.9 1150.9,602.0 1151.8,607.0 1152.7,613.0 1153.6,619.2 1154.5,626.1 1155.4,633.1 1156.3,639.1 1157.2,646.2 1158.1,653.4 1159.0,661.4 1159.9,668.8 1160.8,677.2 1161.7,684.8 1162.6,692.3 1163.5,700.0 1164.5,706.9 1165.4,714.5 1166.4,722.4 1167.3,729.9 1168.3,737.3 1169.2,743.9 1170.2,751.1 1171.1,757.0 1172.0,762.8 1173.0,768.5 1173.9,773.9 1174.8,778.7 1175.8,783.8 1176.7,788.0 1177.6,793.0 1178.6,798.2 1179.5,804.3 1180.4,810.1 1181.3,815.4 1182.2,821.9 1183.1,827.6 1184.0,834.2 1184.9,840.7 1185.8,846.7 1186.7,851.9 1187.6,857.4 1188.5,863.1 1189.4,869.1 1190.3,874.9 1191.2,881.4 1192.1,888.4 1192.9,895.8 1193.8,902.6 1194.6,910.9 1195.5,919.9 1196.3,930.6 1197.2,945.0 1198.1,963.3 1199.0,980.0 1199.9,995.2 1200.8,1009.4 1201.7,1022.8 1202.6,1032.4 1203.5,1040.7 1204.4,1047.8 1205.3,1053.9 1206.2,1060.4 1207.1,1065.6 1208.0,1070.7 1208.9,1074.3 1209.8,1079.5 1210.7,1083.9 1211.6,1088.3 1212.4,1091.0 1213.3,1093.6 1214.2,1094.9 1215.1,1094.6 1216.0,1093.1 1217.0,1091.6 1217.9,1090.8 1218.8,1088.4 1219.8,1085.8 1220.7,1083.5 1221.6,1080.8 1222.5,1078.1 1223.5,1075.4 1224.4,1070.6 1225.3,1067.1 1226.3,1062.4 1227.2,1057.2 1228.1,1052.8 1229.1,1047.8 1230.0,1043.3 1230.9,1039.0 1231.8,1034.5 1232.7,1030.7 1233.6,1026.1 1234.5,1021.2 1235.4,1016.6 1236.3,1011.4 1237.1,1006.6 1238.0,1002.0 1238.8,997.5 1239.7,991.3 1240.5,985.1 1241.4,976.5 1242.3,967.3 1243.2,955.2 1244.1,943.1 1245.0,931.6 1245.9,919.5 1246.8,909.8 1247.7,900.2 1248.5,890.0 1249.4,881.7 1250.2,873.2 1251.1,867.0 1252.0,862.7 1252.9,858.4 1253.8,853.9 1254.7,850.3 1255.6,847.4 1256.5,844.9 1257.4,842.6 1258.3,840.1 1259.2,838.0 1260.1,836.4 1261.0,835.3 1261.9,833.1 1262.8,831.4 1263.7,829.2 1264.6,827.2 1265.5,823.3 1266.4,818.7 1267.3,815.3 1268.2,812.1 1269.1,809.1 1270.0,808.2 1270.9,808.2 1271.8,808.9 1272.7,808.8 1273.6,809.5 1274.5,809.4 1275.4,810.2 1276.3,811.0 1277.1,811.9 1278.0,814.3 1278.8,818.0 1279.7,820.5 1280.5,821.0 1281.3,818.8 1282.2,812.1 1283.0,802.8 1283.9,792.6 1284.7,783.2 1285.5,775.1 1286.4,767.0 1287.2,758.8 1288.1,750.2 1288.9,740.8 1289.7,728.7 1290.5,715.0 1291.3,703.0 1292.1,698.7 1293.0,701.7 1293.9,711.1 1294.8,723.2 1295.6,736.8 1296.5,750.9 1297.4,762.2 1298.2,772.4 1299.1,782.4 1299.9,791.5 1300.8,799.2 1301.6,804.1 1302.4,806.7 1303.3,808.9 1304.1,811.3 1305.0,812.0 1305.8,812.6 1306.7,810.4 1307.6,805.7 1308.4,798.6 1309.3,792.2 1310.2,787.1 1311.1,785.4 1312.0,786.0 1312.8,787.9 1313.7,790.2 1314.6,792.6 1315.4,796.7 1316.3,800.3 1317.2,805.7 1318.1,812.7 1318.9,821.7 1319.8,829.3 1320.7,835.7 1321.6,838.1 1322.5,837.0 1323.4,833.3 1324.3,828.6 1325.2,822.7 1326.2,816.6 1327.1,811.5 1328.0,806.7 1328.9,804.4 1329.8,802.1 1330.7,800.5 1331.6,798.6 1332.6,797.6 1333.5,797.1 1334.4,795.7 1335.3,795.8 1336.1,797.7 1336.8,801.5 1337.6,804.8 1338.4,805.8 1339.3,805.6 1340.2,803.0 1341.1,799.3 1341.9,795.1 1342.8,791.0 1343.7,787.7 1344.7,784.1 1345.6,780.1 1346.6,776.6 1347.5,773.2 1348.5,769.6 1349.4,766.7 1350.4,763.0 1351.3,760.5 1352.3,758.8 1353.2,757.0 1354.2,756.7 1355.1,756.9 1356.0,758.4 1356.9,759.8 1357.8,762.5 1358.7,764.9 1359.6,767.4 1360.5,770.3 1361.4,774.5 1362.3,779.9 1363.2,786.7 1364.0,792.5 1364.9,796.1 1365.8,798.1 1366.7,795.9 1367.6,791.3 1368.4,785.4 1369.3,777.9 1370.2,769.2 1371.1,761.9 1372.0,754.1 1372.8,743.7 1373.7,733.4 1374.6,724.5 1375.4,717.8 1376.3,715.1 1377.2,716.0 1378.2,717.6 1379.1,720.6 1380.0,724.6 1380.9,728.4 1381.8,732.6 1382.8,736.9 1383.7,741.6 1384.6,746.1 1385.5,751.5 1386.4,757.4 1387.3,763.0 1388.2,768.3 1389.1,772.0 1390.0,775.2 1390.9,775.5 1391.9,776.2 1392.8,777.4 1393.7,777.4 1394.7,778.4 1395.6,778.5 1396.5,779.5 1397.5,780.1 1398.4,780.7 1399.3,782.9 1400.2,785.7 1401.1,788.5 1402.0,792.4 1402.9,796.7 1403.8,800.8 1404.7,804.1 1405.6,807.8 1406.5,812.2 1407.5,816.2 1408.4,820.5 1409.3,824.5 1410.2,828.1 1411.2,829.6 1412.1,830.1 1413.0,829.9 1414.0,829.3 1414.9,828.5 1415.9,826.6 1416.8,824.7 1417.8,822.7 1418.8,821.2 1419.7,820.5 1420.6,819.7 1421.6,818.8 1422.5,819.4 1423.4,820.5 1424.3,822.2 1425.2,823.8 1426.1,826.1 1427.0,828.8 1427.9,831.6 1428.9,834.9 1429.9,839.4 1430.9,846.0 1431.9,851.9 1432.8,859.1 1433.8,866.4 1434.8,874.8 1435.8,882.2 1436.8,890.0 1437.8,896.6 1438.8,904.4 1439.8,911.8 1440.7,919.6 1441.7,928.1 1442.7,935.5 1443.6,943.9 1444.6,950.1 1445.6,956.9 1446.5,961.4 1447.5,965.2 1448.4,969.4 1449.3,972.4 1450.2,977.1 1451.2,981.4 1452.1,987.5 1453.1,998.5 1454.0,1014.6 1455.0,1030.7 1456.0,1040.0 1456.9,1043.5 1457.7,1046.7 1458.6,1047.3 1459.6,1046.8 1460.5,1045.2 1461.5,1042.8 1462.5,1040.4 1463.5,1037.7 1464.5,1035.7 1465.4,1034.1 1466.4,1033.1 1467.4,1033.2 1468.4,1033.6 1469.4,1033.5 1470.4,1033.9 1471.4,1034.3 1472.4,1035.4 1473.4,1035.1 1474.4,1035.3 1475.4,1036.1 1476.3,1035.3 1477.1,1033.4 1478.0,1030.6 1478.9,1028.3 1479.7,1024.4 1480.6,1021.1 1481.5,1017.9 1482.3,1012.4 1483.2,1007.8 1484.1,1002.6 1484.9,998.0 1485.8,995.8 1486.8,993.7 1487.8,993.1 1488.7,991.9 1489.7,991.1 1490.7,991.0 1491.6,990.4 1492.6,989.0 1493.6,988.0 1494.5,985.9 1495.5,983.8 1496.4,981.6 1497.3,978.6 1498.2,974.5 1499.2,970.9 1500.1,967.2 1501.1,961.4 1502.0,953.6 1503.0,945.1 1504.0,936.2 1505.0,923.9 1506.0,910.1 1506.9,896.0 1507.9,884.0 1508.8,874.6 1509.6,865.3 1510.5,856.1 1511.4,847.2 1512.2,839.2 1513.1,832.3 1513.9,825.6 1514.8,819.6 1515.6,814.3 1516.5,807.6 1517.3,800.2 1518.2,788.4 1519.2,773.6 1520.1,759.6 1521.0,746.4 1521.8,736.4 1522.7,728.6 1523.5,719.9 1524.4,712.2 1525.2,704.7 1526.1,696.0 1527.1,685.3 1528.0,673.6 1529.0,661.7 1530.0,651.5 1530.9,641.8 1531.8,633.1 1532.8,625.3 1533.7,619.9 1534.7,617.4 1535.7,615.0 1536.7,612.6 1537.7,610.7 1538.7,609.4 1539.7,608.0 1540.7,606.7 1541.7,605.8 1542.7,605.3 1543.7,604.1 1544.6,603.4 1545.6,603.8 1546.6,602.6 1547.5,602.0 1548.5,601.4 1549.5,601.1 1550.5,598.8 1551.4,595.9 1552.4,591.7 1553.3,587.0 1554.3,581.0 1555.3,575.9 1556.2,571.4 1557.2,567.2 1558.2,563.2 1559.2,558.9 1560.1,555.1 1561.1,551.8 1562.1,547.9 1563.0,543.6 1564.0,540.0 1565.0,535.3 1565.9,531.6 1566.9,526.1 1567.8,520.6 1568.8,515.6 1569.7,510.0 1570.7,504.6 1571.6,499.3 1572.6,495.4 1573.5,491.4 1574.5,487.8 1575.4,486.9 1576.4,484.8 1577.4,483.5 1578.3,482.9 1579.3,481.9 1580.3,480.6 1581.2,480.1 1582.2,479.9 1583.2,480.3 1584.2,479.6 1585.2,479.9 1586.1,480.0 1587.1,480.8 1588.1,481.1 1589.0,482.2 1590.0,482.8 1591.0,483.1 1591.9,484.9 1592.7,487.8 1593.6,491.2 1594.5,495.0 1595.3,496.1 1596.2,500.2 1597.2,501.2 1598.2,502.5 1599.1,504.8 1600.1,506.4 1601.1,509.7 1602.0,509.3 1603.0,511.4 1604.0,513.7 1605.0,514.4 1606.0,517.3 1606.9,516.8 1607.9,520.0 1608.9,520.4 1609.8,521.9 1610.8,521.9 1611.8,521.6 1612.8,524.1 1613.7,523.7 1614.7,524.7 1615.7,525.7 1616.6,524.7 1617.6,525.4 1618.6,526.0 1619.5,526.0 1620.5,528.1 1621.5,528.0 1622.5,527.6 1623.4,529.0 1624.4,529.5 1625.4,528.9 1626.3,530.5 1627.3,531.1 1628.3,531.8 1629.2,532.5 1630.2,531.3 1631.2,533.0 1632.2,533.8 1633.2,534.6 1634.1,536.7 1635.1,536.6 1636.1,538.1 1637.0,537.8 1638.0,538.7 1639.0,539.3 1640.0,541.0 1641.0,542.4 1641.9,543.1 1642.9,542.3 1643.9,544.1 1644.9,544.3 1645.8,545.9 1646.8,546.8 1647.8,547.9 1648.8,548.8 1649.7,550.0 1650.7,552.9 1651.7,551.9 1652.7,554.9 1653.6,556.2 1654.6,557.3 1655.6,557.0 1656.5,560.0 1657.5,561.5 1658.5,562.4 1659.5,564.2 1660.5,564.3 1661.5,567.2 1662.5,568.2 1663.5,569.1 1664.5,572.3 1665.5,573.1 1666.5,576.7 1667.5,578.1 1668.5,579.1 1669.5,581.3 1670.5,582.6 1671.5,581.9 1672.4,583.2 1673.4,584.1 1674.3,582.8 1675.3,583.6 1676.2,585.7 1677.2,584.8 1678.1,586.3 1679.1,585.9 1680.0,587.5 1680.9,588.5 1681.9,589.5 1682.8,591.6 1683.7,593.9 1684.7,595.5 1685.6,597.6 1686.5,601.4 1687.5,604.5 1688.4,607.1 1689.3,609.1 1690.3,610.8 1691.2,614.1 1692.1,614.7 1693.1,616.6 1694.0,619.9 1695.0,620.8 1695.9,623.8 1696.8,625.6 1697.8,626.4 1698.7,629.8 1699.7,629.8 1700.6,632.1 1701.6,634.6 1702.5,634.9 1703.5,638.0 1704.4,640.5 1705.4,643.7 1706.4,646.3 1707.4,647.1 1708.3,649.9 1709.3,652.6 1710.3,654.8 1711.3,656.7 1712.2,660.0 1713.2,662.1 1714.2,662.0 1715.2,665.2 1716.1,665.3 1717.1,665.7 1718.1,664.8 1719.0,665.4 1720.0,664.5 1721.0,662.5 1722.0,661.5 1722.9,660.7 1723.9,658.3 1724.9,655.0 1725.9,652.7 1726.8,652.4 1727.8,649.6 1728.8,646.4 1729.8,644.0 1730.7,640.9 1731.7,637.1 1732.7,635.2 1733.6,629.2 1734.6,624.4 1735.5,619.2 1736.5,613.2 1737.4,607.9 1738.4,602.9 1739.4,596.3 1740.3,589.8 1741.3,583.2 1742.3,577.1 1743.3,570.7 1744.2,567.3 1745.2,567.1 1746.2,566.0 1747.1,566.4 1748.1,567.2 1749.0,566.5 1750.0,567.3 1750.9,566.2 1751.9,565.8 1752.9,567.1 1753.8,569.3 1754.8,572.7 1755.8,576.8 1756.8,579.7 1757.7,581.0 1758.7,581.6 1759.7,579.4 1760.6,574.9 1761.6,570.3 1762.5,561.8 1763.5,554.2 1764.4,547.2 1765.4,539.5 1766.3,534.7 1767.2,528.3 1768.1,522.3 1769.0,518.3 1769.9,512.2 1770.8,506.6 1771.6,503.3 1772.5,498.6 1773.3,492.1 1774.2,488.4 1775.0,483.5"/>
<polygon fill="#000000" stroke="#000000" stroke-width="1" points="1775.0,477.2 1776.5,474.1 1778.2,469.9 1779.4,469.3 1780.9,465.0 1782.7,419.0 1784.6,409.9 1786.4,411.5 1788.1,409.3 1789.9,407.3 1791.7,407.4 1792.9,408.9 1793.9,408.1 1795.0,405.7 1795.5,405.0 1795.5,550.0 1795.0,549.5 1793.9,548.3 1792.9,547.1 1791.7,545.5 1789.9,544.7 1788.1,543.9 1786.4,545.4 1784.6,542.8 1782.7,519.2 1780.9,487.1 1779.4,489.7 1778.2,487.1 1776.5,489.3 1775.0,487.6"/>
<polyline stroke="#0000ff" points="131.1,215.1 132.1,216.5 133.0,216.1 134.0,217.6 135.0,217.8 136.0,217.9 136.9,218.8 137.9,219.2 138.9,218.6 139.9,220.0 140.8,220.6 141.8,220.9 142.8,222.1 143.8,222.2 144.7,222.0 145.7,222.1 146.7,222.4 147.7,224.2 148.6,224.4 149.6,224.6 150.6,224.7 151.6,225.2 152.5,225.1 153.5,226.1 154.5,225.7 155.5,227.1 156.5,227.5 157.4,227.9 158.4,227.5 159.4,227.6 160.4,228.4 161.4,229.5 162.3,229.5 163.3,230.4 164.3,230.1 165.3,230.4 166.3,231.8 167.2,230.7 168.2,231.2 169.2,232.4 170.2,232.8 171.2,232.8 172.1,233.5 173.1,233.7 174.1,234.5 175.1,235.4 176.1,235.7 177.1,235.8 178.0,235.9 179.0,237.3 180.0,236.7 181.0,237.5 182.0,238.5 183.0,238.6 183.9,238.5 184.9,239.6 185.9,239.8 186.9,240.9 187.9,240.8 188.9,241.1 189.8,242.4 190.8,242.0 191.8,242.2 192.8,243.7 193.8,244.1 194.8,243.0 195.7,243.2 196.7,245.2 197.7,245.7 198.7,245.1 199.7,245.2 200.6,246.4 201.6,247.2 202.5,246.1 203.5,246.9 204.4,247.6 205.4,247.0 206.3,247.7 207.3,247.5 208.3,248.4 209.2,248.3 210.2,248.3 211.1,249.2 212.1,249.1 213.0,249.4 214.0,249.9 214.9,250.8 215.9,251.0 216.9,252.3 217.8,252.2 218.8,252.4 219.7,252.9 220.7,253.8 221.6,255.3 222.6,254.9 223.5,256.1 224.5,257.5 225.5,258.3 226.4,258.3 227.4,259.8 228.3,260.2 229.3,260.1 230.2,260.6 231.2,261.5 232.1,263.5 233.1,263.5 234.1,265.1 235.1,266.1 236.0,266.8 237.0,266.6 238.0,266.5 239.0,267.8 240.0,268.4 240.9,270.1 241.9,271.0 242.9,272.3 243.9,272.7 244.9,274.1 245.8,274.4 246.8,275.0 247.8,276.7 248.8,276.6 249.8,278.7 250.7,279.7 251.7,281.2 252.7,280.9 253.7,282.4 254.7,285.2 255.6,284.9 256.6,286.9 257.6,288.5 258.6,289.6 259.6,291.7 260.6,293.1 261.6,293.2 262.6,294.1 263.5,297.1 264.5,297.6 265.5,298.8 266.5,300.4 267.5,302.0 268.4,305.2 269.3,307.0 270.2,310.2 271.1,313.7 272.1,315.8 273.0,319.9 273.9,321.2 274.8,325.6 275.7,328.7 276.6,332.2 277.6,333.5 278.5,337.7 279.4,341.2 280.4,344.8 281.3,348.2 282.2,351.6 283.2,357.2 284.2,361.8 285.1,366.3 286.1,372.1 287.1,376.8 288.1,382.2 289.1,390.5 290.0,396.7 291.0,405.2 292.0,411.3 292.9,415.6 293.9,420.1 294.8,424.3 295.7,428.7 296.6,434.5 297.5,437.3 298.5,443.4 299.4,447.2 300.3,453.7 301.3,460.7 302.2,467.7 303.1,476.3 304.1,482.3 305.0,490.0 306.0,496.7 306.9,503.8 307.9,512.3 308.9,519.0 309.8,526.7 310.8,534.4 311.8,540.5 312.7,547.6 313.7,555.9 314.7,563.5 315.6,568.4 316.6,575.9 317.6,583.5 318.6,589.6 319.5,596.1 320.5,601.3 321.5,608.3 322.5,612.4 323.5,619.2 324.4,626.0 325.4,631.1 326.4,637.3 327.4,643.5 328.4,649.7 329.3,656.9 330.3,663.6 331.3,668.5 332.3,674.9 333.3,682.0 334.2,687.9 335.2,693.9 336.2,699.2 337.2,705.0 338.2,710.2 339.2,715.0 340.2,719.3 341.1,723.9 342.1,730.3 343.1,735.0 344.1,739.7 345.1,743.0 346.1,748.4 347.0,752.9 348.0,755.4 348.9,758.9 349.9,763.0 350.8,766.8 351.8,771.4 352.7,775.3 353.7,778.9 354.6,782.3 355.6,786.5 356.5,790.2 357.5,793.0 358.4,797.8 359.4,801.7 360.4,805.3 361.3,810.8 362.3,814.7 363.3,820.0 364.3,825.5 365.3,828.3 366.2,833.4 367.2,836.8 368.2,839.6 369.2,841.8 370.2,845.3 371.2,847.4 372.1,849.3 373.1,852.2 374.1,854.9 375.1,855.7 376.1,859.0 377.1,859.5 378.1,862.0 379.1,863.4 380.0,866.0 381.0,867.5 382.0,868.6 383.0,869.1 383.9,870.4 384.9,872.7 385.8,873.4 386.8,874.9 387.7,876.4 388.6,876.5 389.6,878.0 390.5,880.1 391.4,879.7 392.4,881.5 393.3,880.6 394.3,880.7 395.2,881.8 396.2,881.3 397.2,881.8 398.2,881.8 399.1,880.0 400.1,880.4 401.1,879.6 402.1,880.0 403.1,879.2 404.1,878.4 405.1,877.3 406.1,875.6 407.0,875.2 408.0,874.1 409.0,872.8 410.0,871.6 411.0,871.1 411.9,870.1 412.9,867.1 413.9,865.3 414.8,862.7 415.8,860.7 416.8,858.2 417.7,855.0 418.7,853.4 419.6,850.1 420.6,848.3 421.6,844.5 422.5,842.9 423.5,841.0 424.5,836.8 425.5,834.7 426.5,833.3 427.5,829.6 428.5,826.8 429.4,823.8 430.4,822.5 431.4,818.8 432.4,817.2 433.4,813.9 434.4,810.4 435.4,809.3 436.4,806.5 437.4,803.5 438.4,800.5 439.3,798.1 440.3,795.9 441.3,791.8 442.3,789.3 443.3,787.8 444.3,784.6 445.3,783.3 446.3,780.6 447.3,777.5 448.3,774.4 449.3,772.9 450.2,770.4 451.2,768.0 452.2,766.1 453.2,763.1 454.2,761.6 455.2,758.7 456.2,755.5 457.2,754.5 458.2,750.9 459.2,750.0 460.1,747.8 461.1,744.1 462.1,741.8 463.1,740.5 464.1,737.8 465.1,735.3 466.1,733.8 467.1,730.7 468.1,728.1 469.1,726.6 470.0,725.0 471.0,723.0 472.0,719.0 473.0,718.0 474.0,714.9 475.0,713.9 476.0,710.6 477.0,707.8 477.9,706.0 478.9,704.2 479.9,701.4 480.9,700.4 481.9,697.4 482.8,696.0 483.8,692.8 484.8,691.2 485.8,689.3 486.8,686.2 487.7,684.1 488.7,683.0 489.7,679.8 490.7,677.4 491.6,675.7 492.6,673.6 493.5,671.6 494.5,668.7 495.5,667.0 496.4,664.8 497.4,662.5 498.3,660.2 499.3,657.4 500.3,655.0 501.2,652.0 502.2,649.1 503.2,648.3 504.1,644.9 505.1,642.3 506.0,640.2 507.0,638.2 508.0,635.8 508.9,631.9 509.9,630.7 510.8,628.5 511.8,626.0 512.8,623.3 513.7,619.9 514.7,617.8 515.7,614.6 516.6,612.4 517.6,609.9 518.6,605.9 519.5,602.6 520.5,601.1 521.5,598.6 522.4,595.7 523.4,592.0 524.4,589.1 525.4,585.6 526.3,584.1 527.3,580.1 528.3,576.9 529.2,573.9 530.2,572.6 531.2,568.6 532.1,566.4 533.1,562.0 534.1,559.9 535.0,557.4 536.0,554.5 537.0,550.4 537.9,547.9 538.9,545.6 539.9,542.8 540.8,538.1 541.8,536.0 542.7,533.4 543.7,529.7 544.6,526.8 545.6,522.5 546.5,519.7 547.5,515.5 548.5,513.8 549.4,510.2 550.4,506.3 551.3,504.7 552.3,500.2 553.2,497.0 554.2,495.5 555.1,491.5 556.1,490.0 557.1,486.4 558.0,483.7 559.0,482.7 559.9,480.1 560.9,477.9 561.8,475.7 562.8,473.4 563.7,470.2 564.7,468.5 565.7,466.7 566.6,465.1 567.6,462.6 568.5,460.2 569.5,458.9 570.4,456.9 571.4,453.8 572.3,451.7 573.3,449.4 574.2,449.2 575.2,445.9 576.1,444.7 577.1,442.6 578.0,440.9 578.9,439.5 579.9,437.1 580.8,434.3 581.7,433.2 582.7,431.2 583.6,430.2 584.6,429.8 585.5,428.6 586.5,427.6 587.5,427.2 588.5,426.6 589.5,424.3 590.5,424.5 591.4,423.7 592.4,421.9 593.4,423.4 594.4,422.0 595.4,422.4 596.3,421.7 597.3,422.3 598.2,422.1 599.2,424.4 600.1,423.3 601.0,424.2 602.0,426.5 602.9,427.2 603.8,427.8 604.8,430.3 605.7,431.0 606.7,431.8 607.6,433.6 608.6,435.8 609.6,438.0 610.6,439.7 611.6,443.6 612.5,445.7 613.5,449.3 614.5,453.6 615.5,456.1 616.5,458.0 617.5,460.3 618.4,461.7 619.3,464.0 620.2,465.2 621.1,466.6 622.1,467.9 623.0,469.8 623.9,470.4 624.8,469.5 625.8,469.6 626.8,470.1 627.8,468.9 628.8,467.6 629.8,466.5 630.7,464.3 631.7,463.7 632.7,462.8 633.7,461.1 634.7,460.0 635.6,459.3 636.6,458.9 637.5,457.5 638.5,458.1 639.4,456.0 640.4,456.8 641.3,455.7 642.3,454.5 643.2,453.8 644.2,453.1 645.1,451.9 646.1,452.6 647.0,450.0 648.0,447.8 649.0,446.4 649.9,443.9 650.9,438.8 651.9,434.7 652.9,431.3 653.9,426.6 654.8,422.8 655.8,419.4 656.8,417.0 657.7,412.9 658.7,410.1 659.6,408.1 660.6,405.1 661.5,403.1 662.5,399.6 663.4,397.5 664.4,394.8 665.3,392.7 666.3,390.2 667.2,387.4 668.2,385.3 669.1,383.9 670.1,383.2 671.0,380.4 672.0,378.6 672.9,376.7 673.9,375.7 674.8,373.2 675.8,371.6 676.7,369.9 677.7,368.9 678.7,367.2 679.6,366.0 680.6,365.3 681.5,362.8 682.5,362.0 683.4,361.5 684.4,359.8 685.3,358.8 686.3,357.6 687.3,355.3 688.2,355.1 689.2,353.5 690.1,352.6 691.1,351.1 692.1,351.5 693.0,350.9 694.0,349.9 694.9,348.2 695.9,348.3 696.9,347.2 697.8,346.0 698.8,345.6 699.8,344.8 700.7,342.5 701.7,342.9 702.6,342.2 703.6,340.9 704.6,341.0 705.5,340.1 706.5,338.1 707.4,337.9 708.4,336.4 709.4,336.4 710.4,335.1 711.3,334.2 712.3,334.0 713.3,334.2 714.3,332.4 715.3,333.3 716.2,331.0 717.2,331.7 718.2,329.9 719.2,330.4 720.2,329.0 721.1,329.0 722.1,327.6 723.1,326.6 724.1,327.2 725.1,324.8 726.0,324.3 727.0,323.7 728.0,323.8 729.0,323.6 730.0,321.8 730.9,321.8 731.9,321.6 732.9,319.2 733.9,320.0 734.9,318.0 735.9,317.0 736.8,317.1 737.8,316.1 738.8,315.3 739.8,315.0 740.8,312.9 741.8,313.3 742.7,311.5 743.7,312.3 744.7,310.5 745.7,309.2 746.7,309.0 747.7,307.9 748.6,306.4 749.6,307.0 750.6,305.5 751.6,305.6 752.6,304.6 753.6,304.0 754.5,303.5 755.5,301.5 756.5,301.3 757.5,300.6 758.5,300.1 759.5,299.7 760.4,299.0 761.4,298.2 762.4,297.4 763.4,296.7 764.4,295.2 765.3,294.9 766.3,294.0 767.3,294.3 768.3,293.7 769.3,292.4 770.2,292.1 771.2,292.5 772.2,290.5 773.2,290.7 774.2,290.1 775.1,289.4 776.1,288.5 777.1,289.3 778.1,288.0 779.1,287.3 780.0,286.0 781.0,285.4 782.0,285.7 783.0,284.8 784.0,285.2 785.0,284.7 785.9,282.9 786.9,283.0 787.9,282.4 788.9,282.6 789.9,281.9 790.9,282.0 791.8,279.9 792.8,280.3 793.8,280.3 794.8,278.8 795.8,278.1 796.8,278.4 797.7,277.6 798.7,276.8 799.7,278.0 800.7,277.3 801.7,276.8 802.7,276.8 803.6,276.2 804.6,275.2 805.6,275.6 806.6,275.6 807.6,275.3 808.5,274.9 809.5,274.4 810.5,274.5 811.4,274.2 812.4,273.4 813.4,272.7 814.3,273.0 815.3,273.4 816.3,271.4 817.3,271.9 818.2,271.1 819.2,270.8 820.2,271.5 821.1,270.5 822.1,270.0 823.1,270.7 824.0,270.4 825.0,270.0 826.0,268.7 827.0,268.6 828.0,269.1 828.9,267.8 829.9,267.5 830.9,267.6 831.9,268.4 832.9,267.6 833.9,267.4 834.8,266.8 835.8,265.0 836.8,265.8 837.8,265.3 838.8,265.4 839.8,263.2 840.7,263.0 841.7,262.5 842.7,262.6 843.7,262.1 844.7,261.5 845.7,262.1 846.6,262.0 847.6,261.6 848.6,259.5 849.6,259.3 850.6,259.5 851.6,259.8 852.6,259.4 853.6,259.2 854.6,257.4 855.6,257.9 856.6,256.5 857.6,257.5 858.6,257.4 859.5,256.0 860.5,255.8 861.5,254.8 862.5,256.1 863.5,254.6 864.5,254.2 865.5,254.0 866.5,253.2 867.5,254.5 868.5,254.1 869.5,253.0 870.5,252.4 871.5,252.2 872.5,252.8 873.5,250.6 874.5,250.7 875.5,251.3 876.5,250.2 877.4,250.3 878.4,249.2 879.4,249.6 880.4,250.3 881.4,249.5 882.4,249.0 883.4,249.2 884.4,247.6 885.4,248.4 886.4,248.6 887.4,247.2 888.4,246.2 889.4,247.1 890.4,247.4 891.4,245.6 892.4,245.6 893.4,246.2 894.4,245.6 895.4,246.2 896.4,245.1 897.4,244.5 898.4,244.2 899.4,244.2 900.4,244.5 901.4,244.2 902.3,243.3 903.3,243.0 904.3,243.2 905.3,242.1 906.3,242.5 907.3,242.0 908.3,241.1 909.3,242.2 910.3,240.9 911.3,241.1 912.3,241.5 913.3,241.9 914.3,241.3 915.3,241.7 916.3,239.7 917.3,241.1 918.3,240.9 919.3,240.7 920.3,241.1 921.2,239.2 922.2,239.1 923.2,240.7 924.2,240.5 925.2,238.8 926.2,239.4 927.1,240.2 928.1,239.5 929.1,238.3 930.1,238.6 931.1,239.7 932.1,238.3 933.0,238.4 934.0,239.4 935.0,238.1 936.0,238.8 937.0,237.9 938.0,237.8 938.9,238.5 939.9,238.9 940.9,238.1 941.9,237.7 942.9,238.6 943.9,238.6 944.8,237.1 945.8,238.3 946.8,238.0 947.8,238.9 948.8,238.1 949.8,238.0 950.8,236.9 951.8,237.7 952.8,236.8 953.8,237.0 954.8,237.6 955.8,238.3 956.8,238.5 957.8,238.2 958.8,237.5 959.8,237.4 960.8,237.8 961.8,237.1 962.8,236.4 963.8,237.9 964.8,238.2 965.8,238.1 966.7,237.6 967.7,237.9 968.7,236.6 969.7,236.7 970.7,237.9 971.7,237.2 972.7,236.6 973.7,237.4 974.7,237.5 975.7,237.8 976.7,236.3 977.7,236.6 978.7,237.0 979.7,237.6 980.7,237.8 981.7,236.0 982.7,236.4 983.7,236.6 984.7,237.6 985.7,237.0 986.7,236.2 987.7,236.7 988.7,235.9 989.7,237.2 990.7,236.2 991.7,236.5 992.7,236.9 993.7,236.3 994.7,235.3 995.7,235.8 996.7,235.1 997.7,235.9 998.7,236.9 999.7,236.4 1000.7,236.7 1001.6,235.0 1002.6,236.0 1003.6,236.1 1004.6,235.4 1005.6,236.0 1006.6,234.5 1007.6,236.0 1008.6,236.0 1009.6,234.4 1010.6,234.1 1011.6,235.5 1012.6,234.9 1013.6,235.5 1014.6,234.6 1015.6,233.8 1016.6,233.7 1017.6,234.4 1018.6,233.5 1019.5,234.5 1020.5,233.8 1021.5,233.0 1022.5,233.2 1023.5,232.7 1024.4,231.5 1025.4,231.5 1026.4,230.7 1027.4,229.5 1028.4,229.2 1029.3,229.1 1030.3,228.3 1031.3,229.7 1032.3,228.7 1033.3,227.9 1034.2,227.4 1035.2,228.5 1036.2,227.9 1037.1,229.6 1037.9,231.1 1038.8,232.4 1039.6,236.1 1040.5,236.6 1041.4,235.1 1042.4,234.0 1043.3,231.4 1044.2,228.1 1045.2,226.3 1046.1,225.3 1047.1,225.2 1048.1,224.6 1049.0,224.3 1050.0,223.1 1051.0,223.2 1052.0,222.5 1053.0,222.6 1053.9,223.2 1054.9,221.5 1055.9,221.1 1056.9,221.5 1057.9,221.3 1058.8,220.6 1059.8,221.6 1060.8,221.4 1061.8,221.2 1062.8,220.8 1063.7,220.4 1064.7,220.4 1065.7,219.6 1066.7,219.2 1067.7,220.6 1068.6,220.4 1069.6,219.3 1070.6,219.5 1071.6,218.8 1072.6,219.8 1073.5,219.8 1074.5,219.8 1075.5,218.2 1076.5,219.5 1077.5,218.0 1078.5,218.9 1079.4,219.2 1080.4,217.8 1081.4,218.3 1082.4,218.6 1083.4,218.4 1084.4,218.4 1085.3,218.0 1086.3,217.7 1087.3,217.7 1088.3,217.9 1089.3,217.8 1090.3,217.6 1091.2,217.9 1092.2,216.9 1093.2,216.9 1094.2,217.0 1095.2,216.7 1096.2,217.4 1097.1,216.3 1098.1,217.7 1099.1,216.5 1100.1,217.2 1101.1,217.4 1102.1,216.8 1103.1,216.6 1104.0,218.3 1105.0,218.5 1106.0,218.2 1107.0,218.1 1108.0,218.9 1109.0,219.6 1110.0,219.2 1111.0,220.4 1111.9,221.0 1112.9,220.7 1113.9,221.3 1114.9,221.7 1115.9,221.9 1116.8,222.5 1117.8,222.3 1118.7,223.0 1119.7,224.2 1120.6,224.2 1121.5,224.3 1122.5,224.1 1123.5,224.8 1124.4,225.8 1125.4,225.8 1126.3,226.7 1127.2,227.0 1128.2,227.2 1129.2,228.0 1130.1,228.2 1131.0,228.5 1132.0,230.1 1133.0,230.3 1134.0,230.5 1135.0,230.8 1136.0,232.4 1137.0,233.2 1137.9,235.1 1138.9,236.3 1139.9,237.1 1140.9,237.2 1141.9,239.4 1142.8,239.7 1143.7,241.5 1144.6,243.2 1145.5,243.3 1146.4,246.1 1147.3,247.3 1148.2,248.2 1149.1,250.0 1150.0,251.4 1151.0,254.1 1151.9,256.4 1152.9,257.8 1153.9,260.7 1154.8,262.1 1155.8,264.7 1156.8,268.6 1157.8,270.2 1158.7,273.9 1159.7,276.8 1160.7,278.7 1161.6,282.9 1162.6,285.4 1163.6,288.4 1164.6,291.9 1165.5,294.8 1166.5,298.9 1167.5,302.0 1168.5,305.9 1169.4,309.0 1170.4,312.7 1171.4,316.3 1172.4,319.8 1173.3,324.7 1174.3,328.0 1175.3,332.3 1176.3,335.5 1177.2,339.4 1178.2,342.8 1179.1,346.4 1180.1,350.7 1181.0,353.4 1182.0,358.0 1182.9,361.0 1183.9,365.1 1184.8,370.4 1185.8,372.9 1186.7,378.1 1187.7,382.3 1188.6,385.8 1189.5,390.2 1190.5,392.9 1191.4,398.0 1192.3,402.2 1193.3,406.7 1194.2,410.9 1195.2,416.5 1196.1,423.8 1197.1,429.4 1198.1,436.9 1199.0,442.8 1200.0,450.2 1200.9,455.9 1201.9,464.2 1202.8,470.4 1203.8,475.9 1204.7,482.4 1205.6,485.4 1206.6,489.6 1207.5,493.2 1208.5,495.6 1209.4,499.4 1210.4,501.8 1211.3,505.9 1212.3,509.8 1213.2,513.9 1214.0,517.4 1214.9,523.8 1215.7,530.1 1216.6,534.2 1217.4,537.6 1218.3,541.2 1219.2,543.3 1220.1,544.4 1221.1,547.0 1222.0,548.5 1222.9,548.8 1223.8,549.9 1224.7,550.4 1225.7,549.1 1226.6,549.6 1227.5,549.2 1228.5,548.1 1229.5,546.7 1230.4,544.9 1231.4,543.3 1232.3,540.4 1233.2,538.2 1234.2,536.7 1235.1,533.1 1236.0,529.4 1236.9,525.3 1237.8,519.7 1238.7,514.9 1239.6,507.8 1240.5,502.4 1241.3,497.9 1242.2,491.5 1243.0,486.2 1243.9,479.1 1244.7,471.8 1245.4,460.9 1246.1,449.7 1246.8,439.7 1247.7,431.0 1248.7,422.9 1249.6,414.7 1250.6,408.1 1251.5,401.4 1252.5,394.9 1253.4,389.1 1254.4,383.9 1255.3,379.8 1256.3,375.4 1257.2,371.5 1258.2,368.1 1259.1,363.5 1260.1,359.3 1261.0,356.9 1262.0,353.1 1262.9,350.8 1263.9,348.3 1264.8,346.1 1265.8,343.6 1266.8,342.2 1267.7,342.0 1268.7,340.5 1269.7,339.9 1270.6,339.6 1271.6,337.9 1272.6,337.3 1273.6,337.1 1274.5,335.5 1275.5,335.2 1276.5,333.5 1277.4,333.4 1278.4,331.2 1279.3,329.2 1280.2,326.8 1281.1,324.0 1282.0,320.6 1282.9,317.3 1283.8,314.8 1284.7,314.6 1285.6,314.1 1286.6,315.3 1287.5,315.6 1288.5,317.7 1289.4,319.4 1290.4,320.4 1291.3,323.4 1292.3,325.0 1293.2,327.3 1294.0,332.1 1294.9,340.5 1295.7,349.8 1296.6,359.1 1297.4,366.0 1298.3,370.3 1299.3,376.6 1300.2,381.5 1301.1,385.2 1302.1,389.8 1303.0,393.1 1303.9,396.1 1304.9,398.9 1305.8,401.9 1306.7,402.5 1307.7,403.2 1308.6,405.4 1309.5,405.3 1310.5,405.8 1311.4,407.0 1312.3,408.0 1313.3,410.0 1314.2,411.0 1315.0,415.2 1315.9,419.6 1316.7,425.3 1317.6,430.0 1318.4,433.2 1319.3,435.6 1320.3,436.7 1321.2,439.5 1322.1,440.6 1323.1,443.0 1324.0,442.8 1324.9,444.7 1325.9,445.1 1326.8,445.9 1327.7,443.7 1328.5,441.9 1329.4,438.2 1330.2,436.6 1331.1,434.7 1332.0,435.4 1332.9,438.2 1333.8,440.8 1334.7,443.9 1335.6,446.8 1336.5,448.8 1337.4,449.9 1338.3,449.5 1339.2,448.2 1340.1,445.4 1341.0,444.3 1341.9,442.4 1342.8,439.5 1343.7,436.9 1344.7,433.3 1345.6,430.4 1346.6,426.1 1347.6,421.1 1348.5,416.6 1349.5,411.7 1350.5,406.6 1351.5,402.9 1352.4,399.3 1353.4,395.6 1354.4,393.5 1355.3,391.8 1356.3,390.7 1357.2,390.2 1358.1,390.6 1359.0,392.3 1359.9,392.4 1360.8,394.1 1361.7,395.0 1362.6,394.5 1363.6,394.2 1364.6,393.6 1365.5,394.2 1366.5,392.5 1367.5,391.4 1368.5,390.6 1369.4,389.7 1370.4,388.1 1371.4,387.3 1372.4,385.6 1373.3,384.8 1374.3,384.4 1375.3,384.4 1376.3,383.9 1377.2,383.3 1378.2,383.1 1379.1,382.3 1380.1,383.2 1381.0,383.2 1382.0,382.8 1382.9,382.7 1383.9,381.8 1384.8,381.8 1385.8,382.0 1386.8,381.5 1387.8,381.4 1388.8,382.6 1389.8,382.1 1390.7,382.7 1391.7,382.5 1392.7,381.9 1393.7,381.6 1394.7,381.7 1395.7,382.1 1396.7,382.4 1397.7,381.8 1398.6,381.9 1399.6,381.7 1400.6,381.8 1401.6,381.9 1402.6,382.1 1403.6,381.0 1404.5,381.1 1405.5,379.5 1406.5,377.2 1407.4,375.3 1408.4,372.7 1409.3,370.3 1410.3,369.0 1411.3,367.5 1412.2,366.4 1413.2,366.1 1414.1,365.8 1415.0,367.8 1415.9,371.1 1416.8,373.5 1417.7,376.5 1418.6,378.6 1419.5,380.5 1420.4,380.0 1421.3,379.9 1422.2,381.6 1423.1,381.2 1424.0,382.0 1424.9,381.2 1425.8,381.3 1426.6,382.6 1427.5,385.8 1428.3,389.2 1429.2,393.7 1430.0,400.7 1430.9,413.9 1431.7,432.8 1432.6,450.5 1433.5,461.6 1434.3,470.3 1435.2,477.9 1436.1,485.3 1436.9,493.4 1437.8,501.2 1438.7,511.4 1439.5,520.2 1440.4,529.3 1441.3,538.7 1442.1,546.1 1443.0,553.4 1444.0,561.7 1445.0,567.6 1445.9,574.2 1446.9,580.9 1447.9,586.9 1448.8,592.0 1449.8,598.5 1450.8,605.8 1451.7,612.6 1452.5,619.7 1453.4,627.8 1454.3,636.5 1455.1,644.6 1456.0,653.2 1456.9,660.4 1457.8,669.7 1458.6,678.3 1459.5,685.9 1460.4,690.2 1461.4,693.8 1462.3,695.8 1463.2,698.4 1464.2,697.9 1465.0,697.3 1465.9,694.9 1466.8,692.4 1467.6,688.5 1468.5,685.9 1469.3,686.1 1470.2,686.2 1471.2,689.3 1472.1,692.6 1473.0,695.9 1473.8,700.1 1474.7,705.0 1475.5,712.0 1476.4,717.2 1477.2,723.8 1478.1,727.1 1479.0,731.5 1480.0,735.0 1481.0,737.4 1481.9,738.3 1482.9,736.7 1483.8,732.8 1484.8,727.2 1485.7,725.3 1486.7,725.2 1487.6,724.1 1488.5,724.4 1489.5,723.6 1490.5,724.8 1491.4,724.4 1492.3,723.4 1493.3,724.3 1494.3,723.5 1495.3,722.6 1496.3,721.6 1497.3,720.3 1498.3,719.1 1499.2,715.1 1500.2,709.3 1501.1,702.3 1502.1,695.2 1502.9,690.7 1503.8,683.8 1504.7,677.5 1505.5,671.5 1506.3,664.6 1507.2,658.5 1508.2,648.8 1509.1,640.8 1510.1,630.9 1511.0,619.8 1512.0,609.7 1512.9,600.1 1513.8,588.7 1514.7,577.0 1515.6,565.4 1516.5,553.6 1517.4,541.2 1518.3,527.7 1519.2,514.8 1520.0,502.3 1520.9,488.4 1521.8,475.5 1522.6,462.6 1523.5,450.6 1524.4,438.0 1525.2,427.6 1526.1,418.0 1527.0,408.2 1527.8,397.6 1528.7,388.9 1529.6,381.8 1530.6,372.2 1531.5,365.4 1532.5,358.1 1533.4,350.7 1534.4,343.3 1535.3,336.7 1536.3,329.8 1537.2,323.3 1538.2,317.1 1539.1,311.2 1540.0,306.3 1541.0,298.6 1541.9,293.4 1542.9,286.0 1543.8,280.4 1544.8,274.5 1545.7,268.3 1546.7,263.2 1547.6,259.4 1548.6,257.1 1549.5,254.5 1550.5,252.6 1551.4,251.4 1552.4,250.3 1553.3,249.9 1554.3,248.2 1555.3,247.9 1556.2,246.3 1557.2,247.5 1558.2,247.3 1559.2,247.8 1560.1,249.9 1561.1,250.2 1562.1,251.5 1563.0,254.0 1564.0,254.9 1565.0,254.2 1566.0,254.1 1567.0,254.0 1567.9,252.3 1568.9,251.4 1569.9,249.3 1570.8,248.7 1571.8,245.8 1572.8,244.3 1573.7,242.5 1574.5,239.3 1575.4,235.3 1576.3,231.0 1577.1,227.6 1578.0,226.2 1579.0,224.5 1580.0,223.1 1580.9,221.1 1581.9,219.9 1582.9,218.8 1583.8,218.4 1584.8,217.8 1585.8,216.3 1586.8,217.9 1587.8,217.8 1588.7,218.7 1589.7,220.0 1590.7,221.4 1591.6,224.2 1592.6,226.2 1593.6,229.1 1594.5,232.7 1595.3,236.3 1596.2,236.9 1597.1,240.2 1597.9,246.0 1598.8,247.9 1599.8,248.9 1600.8,247.9 1601.8,249.2 1602.8,252.1 1603.8,250.6 1604.8,250.9 1605.8,252.3 1606.8,253.7 1607.8,251.9 1608.8,253.0 1609.8,255.1 1610.8,254.8 1611.8,252.9 1612.8,255.6 1613.7,255.5 1614.7,255.8 1615.7,256.8 1616.6,255.2 1617.6,258.3 1618.6,255.7 1619.5,257.1 1620.5,258.7 1621.5,257.6 1622.5,259.5 1623.4,258.1 1624.4,260.9 1625.4,263.3 1626.3,259.8 1627.3,264.5 1628.2,263.8 1629.2,264.9 1630.1,262.9 1631.1,264.0 1632.0,266.4 1633.0,268.2 1633.9,266.2 1634.9,267.2 1635.8,272.2 1636.8,272.6 1637.7,274.2 1638.7,272.3 1639.7,274.8 1640.6,279.4 1641.6,283.2 1642.6,282.9 1643.5,287.7 1644.5,289.9 1645.5,291.4 1646.4,293.1 1647.4,294.2 1648.3,296.1 1649.3,297.8 1650.2,297.9 1651.2,300.6 1652.1,303.1 1653.1,301.3 1654.0,302.6 1655.0,307.0 1655.9,307.9 1656.8,306.7 1657.8,307.9 1658.7,312.1 1659.7,310.3 1660.6,310.7 1661.6,312.2 1662.5,313.6 1663.5,318.3 1664.4,319.3 1665.4,318.2 1666.3,319.9 1667.3,323.0 1668.3,320.5 1669.3,322.7 1670.3,324.2 1671.3,327.8 1672.3,328.9 1673.3,330.5 1674.3,331.6 1675.3,329.4 1676.3,332.1 1677.3,332.8 1678.3,332.2 1679.3,337.2 1680.2,334.7 1681.2,334.6 1682.1,336.4 1683.0,334.6 1683.9,337.2 1684.8,337.5 1685.8,339.9 1686.7,338.4 1687.6,347.8 1688.5,374.5 1689.4,405.2 1690.3,428.5 1691.2,438.9 1692.1,430.1 1693.0,411.1 1693.9,389.4 1694.8,371.0 1695.7,361.9 1696.7,358.8 1697.6,359.1 1698.6,356.8 1699.6,357.6 1700.6,357.2 1701.5,354.7 1702.5,353.7 1703.5,355.5 1704.5,356.0 1705.5,359.3 1706.5,360.5 1707.5,362.4 1708.5,364.1 1709.5,366.8 1710.5,367.6 1711.5,369.7 1712.4,371.3 1713.4,367.8 1714.3,370.9 1715.2,367.2 1716.2,367.1 1717.1,366.5 1718.0,363.8 1719.0,361.2 1719.9,357.0 1720.8,357.3 1721.8,356.2 1722.7,355.9 1723.6,356.1 1724.6,352.0 1725.5,352.0 1726.4,353.9 1727.4,352.3 1728.3,348.5 1729.2,348.5 1730.2,349.7 1731.1,350.9 1732.0,348.3 1733.0,346.8 1733.9,347.8 1734.9,346.2 1735.8,345.1 1736.8,341.5 1737.8,339.8 1738.8,337.2 1739.7,333.8 1740.7,331.9 1741.7,327.3 1742.7,327.5 1743.7,323.7 1744.7,317.4 1745.7,312.0 1746.7,311.3 1747.7,305.7 1748.7,301.8 1749.7,298.5 1750.7,297.6 1751.7,294.4 1752.7,294.2 1753.7,295.3 1754.7,293.6 1755.7,292.1 1756.7,289.9 1757.7,285.5 1758.7,282.3 1759.6,280.8 1760.4,272.2 1761.3,265.9 1762.1,255.5 1763.0,251.4"/>
<polygon fill="#0000ff" stroke="#0000ff" stroke-width="1" points="1763.0,242.9 1764.6,240.5 1765.6,239.7 1767.4,238.5 1768.5,238.8 1769.7,236.6 1771.4,217.7 1773.3,188.8 1774.6,180.1 1776.0,180.0 1777.1,180.3 1778.4,178.7 1780.3,186.4 1781.5,192.0 1782.9,202.1 1784.6,194.0 1785.9,174.7 1787.8,145.3 1789.0,144.8 1790.5,144.6 1792.4,143.2 1793.5,145.9 1794.6,144.9 1795.5,143.0 1795.5,205.0 1794.6,210.7 1793.5,222.1 1792.4,230.0 1790.5,249.9 1789.0,254.6 1787.8,254.2 1785.9,254.6 1784.6,272.4 1782.9,292.4 1781.5,294.0 1780.3,291.4 1778.4,281.9 1777.1,259.0 1776.0,256.3 1774.6,256.6 1773.3,257.0 1771.4,257.9 1769.7,258.3 1768.5,261.7 1767.4,259.1 1765.6,260.5 1764.6,261.4 1763.0,260.4"/>
<polyline stroke="#b06a12" points="131.0,692.0 132.0,691.3 133.0,691.7 133.9,691.7 134.9,691.1 135.9,690.9 136.9,691.5 137.9,690.9 138.8,691.3 139.8,691.9 140.8,691.8 141.8,690.9 142.8,690.9 143.7,691.1 144.7,691.8 145.7,690.8 146.7,691.1 147.7,690.9 148.6,691.0 149.6,691.4 150.6,691.0 151.6,691.3 152.6,691.7 153.5,691.7 154.5,691.3 155.5,691.7 156.5,691.5 157.4,691.8 158.4,691.1 159.4,691.2 160.4,691.5 161.4,691.9 162.3,691.5 163.3,691.4 164.3,691.1 165.3,691.1 166.3,691.1 167.2,692.0 168.2,691.9 169.2,691.9 170.2,691.4 171.2,691.7 172.1,691.2 173.1,691.4 174.1,691.0 175.1,691.3 176.1,691.1 177.1,691.0 178.1,692.0 179.1,691.0 180.1,691.9 181.1,691.9 182.1,691.2 183.1,691.8 184.1,692.5 185.1,692.5 186.1,692.1 187.1,692.5 188.1,692.5 189.1,692.1 190.1,692.6 191.1,692.8 192.1,692.7 193.0,693.3 194.0,693.0 195.0,693.5 196.0,692.9 197.0,693.5 198.0,693.2 199.0,694.1 200.0,694.5 201.0,694.3 202.0,694.5 203.0,694.8 204.0,694.5 205.0,694.9 206.0,695.3 207.0,695.6 208.0,695.5 209.0,695.8 210.0,695.9 211.0,696.4 212.0,696.7 212.9,696.6 213.9,697.3 214.8,697.8 215.8,697.7 216.8,698.6 217.7,698.2 218.7,699.3 219.6,698.8 220.6,699.5 221.6,700.4 222.5,700.0 223.5,701.1 224.5,701.9 225.4,702.5 226.4,702.7 227.3,702.8 228.3,703.3 229.3,704.2 230.2,704.1 231.2,704.6 232.1,706.1 233.1,706.4 234.1,706.4 235.1,707.3 236.0,707.7 237.0,709.0 238.0,708.9 239.0,710.1 240.0,710.8 240.9,711.0 241.9,711.6 242.9,712.7 243.9,713.3 244.9,714.3 245.8,714.7 246.8,716.1 247.8,716.4 248.8,716.9 249.8,718.6 250.7,719.6 251.7,720.2 252.7,721.0 253.6,722.2 254.6,723.3 255.5,723.1 256.5,724.7 257.4,725.2 258.4,726.6 259.3,727.6 260.3,729.0 261.2,730.5 262.2,732.0 263.1,732.6 264.1,733.6 265.0,736.2 266.0,737.5 267.0,738.8 267.9,739.9 268.9,741.6 269.9,744.5 270.9,746.0 271.9,748.5 272.8,750.7 273.8,753.0 274.8,755.7 275.7,757.7 276.6,760.6 277.6,764.1 278.5,768.1 279.4,772.0 280.4,776.0 281.3,780.2 282.2,784.8 283.1,789.6 284.1,796.1 285.0,802.5 285.9,809.3 286.8,816.9 287.8,824.9 288.7,832.6 289.6,839.5 290.5,848.3 291.5,858.1 292.4,868.3 293.3,878.1 294.2,889.0 295.1,897.9 296.1,906.8 297.0,913.2 297.9,919.6 298.9,925.0 299.8,931.3 300.8,935.9 301.7,941.1 302.6,945.2 303.6,949.2 304.5,953.4 305.4,957.6 306.4,961.5 307.3,965.7 308.3,970.7 309.2,974.9 310.1,979.8 311.1,984.8 312.0,989.0 313.0,993.8 313.9,998.4 314.9,1003.0 315.8,1008.1 316.8,1012.1 317.7,1017.2 318.7,1021.6 319.6,1027.0 320.6,1031.4 321.5,1037.1 322.4,1041.3 323.3,1046.6 324.2,1051.6 325.1,1057.2 326.1,1062.2 327.0,1067.1 327.9,1071.2 328.8,1075.7 329.7,1080.3 330.6,1083.6 331.6,1087.8 332.5,1090.8 333.5,1094.3 334.4,1097.3 335.4,1100.6 336.3,1103.1 337.2,1106.2 338.2,1108.4 339.1,1110.8 340.1,1113.2 341.0,1115.9 342.0,1119.2 342.9,1121.4 343.9,1123.2 344.9,1125.6 345.9,1128.5 346.8,1130.8 347.8,1132.8 348.8,1134.6 349.8,1137.0 350.8,1139.9 351.8,1141.8 352.8,1144.0 353.8,1145.4 354.7,1147.9 355.7,1149.5 356.7,1151.8 357.7,1154.7 358.7,1156.1 359.6,1158.4 360.6,1160.7 361.5,1163.8 362.5,1166.1 363.4,1168.4 364.4,1171.2 365.4,1173.1 366.3,1176.1 367.3,1178.3 368.2,1180.1 369.2,1182.3 370.2,1184.8 371.1,1186.8 372.1,1189.2 373.0,1191.0 374.0,1192.8 374.9,1194.2 375.9,1195.2 376.9,1197.1 377.8,1198.8 378.8,1199.7 379.7,1201.1 380.7,1201.9 381.6,1203.0 382.6,1204.7 383.5,1206.1 384.5,1207.4 385.4,1208.2 386.4,1209.3 387.3,1209.7 388.3,1210.5 389.2,1211.3 390.2,1212.2 391.1,1212.6 392.1,1212.9 393.0,1213.3 394.0,1213.4 395.0,1213.9 395.9,1213.9 396.9,1213.8 397.8,1213.1 398.8,1211.9 399.7,1211.6 400.7,1212.0 401.7,1211.1 402.6,1210.6 403.6,1209.1 404.5,1208.4 405.5,1207.5 406.5,1207.2 407.4,1206.1 408.4,1205.4 409.3,1204.2 410.3,1203.2 411.2,1202.7 412.2,1202.5 413.2,1201.3 414.2,1200.1 415.2,1198.4 416.2,1197.6 417.1,1196.3 418.1,1195.2 419.1,1193.5 420.1,1192.5 421.1,1190.4 422.1,1189.3 423.1,1186.9 424.1,1185.4 425.1,1184.5 426.1,1182.9 427.1,1180.5 428.0,1178.7 429.0,1177.9 430.0,1175.8 431.0,1173.5 432.0,1173.0 433.0,1170.9 433.9,1168.8 434.9,1167.3 435.9,1165.4 436.8,1163.8 437.8,1161.7 438.8,1159.8 439.7,1158.4 440.7,1156.0 441.6,1154.7 442.6,1152.8 443.6,1151.3 444.5,1148.6 445.5,1147.7 446.5,1145.9 447.4,1143.8 448.4,1143.2 449.4,1141.3 450.3,1139.7 451.3,1138.5 452.3,1138.3 453.3,1136.9 454.2,1135.1 455.2,1134.8 456.2,1132.8 457.1,1132.5 458.1,1131.4 459.1,1130.6 460.0,1129.5 461.0,1128.2 462.0,1127.2 463.0,1125.5 463.9,1124.8 464.9,1122.8 465.9,1121.8 466.8,1120.3 467.8,1118.4 468.8,1117.4 469.7,1115.7 470.7,1113.4 471.6,1112.2 472.6,1110.4 473.6,1108.8 474.5,1106.4 475.5,1105.4 476.4,1103.2 477.4,1101.8 478.4,1099.3 479.3,1097.2 480.3,1095.8 481.3,1094.1 482.2,1092.3 483.2,1090.0 484.1,1088.5 485.1,1085.6 486.1,1083.6 487.0,1081.9 488.0,1080.2 489.0,1078.2 489.9,1075.3 490.9,1073.7 491.9,1071.2 492.8,1069.1 493.8,1066.2 494.8,1064.0 495.7,1062.2 496.7,1059.5 497.7,1057.9 498.6,1055.1 499.6,1052.6 500.6,1050.1 501.6,1048.2 502.5,1045.9 503.5,1043.2 504.5,1041.7 505.5,1038.8 506.5,1036.7 507.4,1034.2 508.4,1032.0 509.4,1028.7 510.4,1027.4 511.4,1024.6 512.3,1021.7 513.3,1019.9 514.3,1016.9 515.3,1015.1 516.3,1012.4 517.2,1010.2 518.2,1008.5 519.2,1006.8 520.2,1004.6 521.2,1002.7 522.1,1000.5 523.1,998.3 524.1,996.4 525.1,995.0 526.1,992.2 527.1,990.9 528.0,989.2 529.0,986.9 530.0,986.3 531.0,984.5 532.0,982.5 533.0,981.6 533.9,979.6 534.9,978.4 535.9,976.7 536.9,975.6 537.9,973.7 538.9,971.7 539.8,971.0 540.8,968.8 541.8,967.7 542.8,966.6 543.8,964.7 544.8,962.3 545.7,961.6 546.7,960.1 547.7,957.7 548.7,955.7 549.6,954.2 550.6,952.5 551.5,950.1 552.5,949.2 553.4,947.1 554.4,944.9 555.3,943.4 556.2,940.7 557.2,939.6 558.1,937.5 559.1,935.0 560.0,932.5 560.9,930.9 561.8,928.3 562.8,926.7 563.7,924.0 564.6,922.2 565.5,919.8 566.4,917.5 567.3,915.6 568.3,913.3 569.2,911.6 570.1,908.9 571.1,906.9 572.1,904.8 573.1,901.9 574.1,900.1 575.0,897.5 576.0,895.8 577.0,893.8 578.0,892.3 579.0,890.6 579.9,888.1 580.8,887.1 581.7,884.9 582.6,883.2 583.5,882.2 584.4,880.7 585.3,880.5 586.3,879.6 587.3,877.8 588.2,878.1 589.2,877.3 590.2,875.8 591.2,875.8 592.1,875.3 593.1,874.6 594.1,875.1 595.0,874.5 595.8,875.3 596.7,876.1 597.5,877.2 598.4,877.6 599.2,878.4 600.1,880.1 601.0,882.3 601.9,884.7 602.8,887.0 603.7,890.5 604.6,891.9 605.5,893.4 606.5,894.5 607.4,896.3 608.4,895.9 609.3,897.2 610.2,897.7 611.2,898.0 612.1,899.5 613.1,899.7 614.0,901.0 614.9,902.8 615.8,905.8 616.7,907.2 617.6,909.8 618.5,911.2 619.4,911.0 620.4,912.0 621.3,911.0 622.2,911.1 623.2,911.6 624.1,910.8 625.1,911.2 626.0,910.8 627.0,910.6 628.0,908.7 628.9,905.2 629.8,901.0 630.8,896.5 631.6,890.6 632.5,884.5 633.3,879.7 634.3,875.4 635.3,872.7 636.3,870.0 637.3,866.9 638.3,864.6 639.2,863.0 640.2,862.1 641.1,860.7 642.1,859.4 643.0,858.4 644.0,857.6 644.9,856.1 645.9,854.4 646.9,853.9 647.8,851.6 648.8,850.5 649.7,849.3 650.6,848.2 651.6,846.9 652.5,845.6 653.5,843.0 654.3,841.1 655.2,838.1 656.0,836.1 657.0,835.6 657.9,834.9 658.9,834.6 659.8,834.2 660.8,834.3 661.7,833.9 662.6,833.7 663.6,832.7 664.2,829.8 664.9,823.0 665.5,817.8 666.1,813.8 667.0,809.4 668.0,805.1 669.0,802.4 669.9,798.9 670.8,796.5 671.7,793.5 672.6,791.1 673.5,789.4 674.4,786.7 675.3,785.1 676.2,782.8 677.1,780.9 678.0,778.9 678.9,776.8 679.9,774.7 680.8,773.5 681.7,771.0 682.6,769.7 683.6,768.7 684.5,767.2 685.5,764.6 686.5,764.0 687.4,762.1 688.4,760.3 689.4,759.8 690.3,757.9 691.3,756.2 692.2,755.7 693.2,753.4 694.2,752.9 695.1,751.8 696.1,750.7 697.1,749.3 698.1,748.0 699.0,746.9 700.0,746.5 701.0,745.2 702.0,743.7 703.0,743.6 703.9,742.7 704.9,741.9 705.9,740.7 706.9,740.1 707.9,739.2 708.8,738.6 709.8,737.1 710.8,736.2 711.8,736.2 712.8,734.7 713.7,733.6 714.7,733.6 715.7,732.9 716.7,732.1 717.7,731.5 718.6,729.5 719.6,729.7 720.6,728.0 721.6,727.0 722.6,726.3 723.6,725.1 724.5,724.1 725.5,723.4 726.5,723.0 727.5,721.5 728.5,721.4 729.5,719.6 730.4,719.0 731.4,718.0 732.4,717.1 733.4,716.0 734.4,715.8 735.4,714.3 736.3,713.5 737.3,712.5 738.3,712.6 739.3,710.9 740.3,710.3 741.3,709.9 742.2,708.3 743.2,707.7 744.2,707.4 745.2,706.4 746.2,704.9 747.2,704.6 748.2,704.1 749.1,702.9 750.1,701.8 751.1,700.8 752.1,700.8 753.1,699.4 754.1,698.3 755.0,697.6 756.0,697.2 757.0,696.7 758.0,695.6 759.0,694.8 760.0,693.7 760.9,692.8 761.9,692.5 762.9,691.4 763.9,690.5 764.9,690.3 765.9,689.8 766.8,689.0 767.8,687.4 768.8,687.5 769.8,686.5 770.8,685.3 771.8,685.5 772.7,684.6 773.7,683.8 774.7,682.7 775.7,682.7 776.7,681.9 777.6,681.7 778.6,681.2 779.6,679.7 780.6,680.0 781.6,678.8 782.5,677.8 783.5,678.1 784.5,677.6 785.5,677.0 786.5,675.6 787.4,675.8 788.4,675.5 789.4,675.0 790.4,673.7 791.4,673.8 792.3,672.4 793.3,672.8 794.3,671.9 795.3,671.5 796.3,671.1 797.3,670.0 798.3,669.5 799.3,668.8 800.2,669.1 801.2,667.8 802.2,667.3 803.2,667.6 804.2,667.0 805.2,667.1 806.2,665.6 807.2,665.6 808.2,664.8 809.2,665.1 810.1,664.8 811.1,664.4 812.1,662.9 813.1,663.3 814.1,662.6 815.1,661.6 816.1,661.6 817.1,661.6 818.1,661.1 819.1,660.4 820.0,659.5 821.0,659.5 822.0,659.0 823.0,658.6 824.0,658.9 825.0,658.1 826.0,657.8 827.0,656.6 827.9,656.6 828.9,656.7 829.9,655.5 830.9,655.0 831.9,654.9 832.9,654.3 833.8,654.4 834.8,653.7 835.8,653.8 836.8,653.4 837.8,652.5 838.7,652.7 839.7,652.2 840.7,651.9 841.7,651.5 842.7,651.0 843.7,650.6 844.6,649.7 845.6,649.9 846.6,648.6 847.6,648.7 848.6,647.5 849.5,648.3 850.5,647.5 851.5,646.4 852.5,647.1 853.5,646.3 854.5,645.7 855.4,645.4 856.4,645.6 857.4,645.2 858.4,643.9 859.4,643.7 860.4,643.3 861.3,642.8 862.3,642.6 863.3,642.8 864.3,642.6 865.3,642.4 866.2,642.2 867.2,641.8 868.2,641.8 869.2,640.4 870.2,641.3 871.2,640.4 872.1,640.5 873.1,640.1 874.1,640.1 875.1,639.8 876.1,639.0 877.1,639.2 878.0,638.4 879.0,639.2 880.0,638.8 881.0,638.1 882.0,637.9 883.0,637.7 883.9,637.2 884.9,637.5 885.9,637.5 886.9,636.9 887.9,636.8 888.9,637.1 889.8,636.7 890.8,635.9 891.8,635.8 892.8,636.4 893.8,635.9 894.8,635.1 895.7,635.3 896.7,635.0 897.7,635.1 898.7,635.3 899.7,635.0 900.7,634.3 901.7,634.1 902.6,633.7 903.6,633.8 904.6,634.1 905.6,634.0 906.6,633.7 907.6,633.8 908.5,632.9 909.5,632.9 910.5,632.8 911.5,633.4 912.5,633.2 913.5,632.8 914.4,633.3 915.4,632.5 916.4,633.2 917.4,633.1 918.4,632.2 919.4,632.8 920.3,632.7 921.3,632.2 922.3,632.2 923.3,632.0 924.3,632.4 925.3,632.8 926.2,632.3 927.2,632.8 928.2,632.3 929.2,632.7 930.2,632.3 931.2,632.6 932.1,632.7 933.1,632.5 934.1,632.2 935.1,632.0 936.1,632.1 937.0,632.6 938.0,632.5 939.0,632.0 940.0,632.7 941.0,632.0 942.0,632.1 942.9,633.0 943.9,632.4 944.9,632.4 945.9,632.7 946.9,632.5 947.8,632.3 948.8,633.1 949.8,632.7 950.8,632.5 951.8,632.4 952.8,632.6 953.7,632.9 954.7,632.4 955.7,632.2 956.7,632.0 957.7,633.0 958.7,633.1 959.6,632.9 960.6,632.6 961.6,632.7 962.6,632.7 963.6,632.0 964.5,632.3 965.5,632.3 966.5,632.1 967.5,632.5 968.5,633.0 969.5,632.8 970.4,632.3 971.4,632.4 972.4,633.0 973.4,632.6 974.4,632.2 975.4,632.6 976.4,632.1 977.3,632.8 978.3,632.3 979.3,632.3 980.3,632.8 981.3,632.0 982.3,632.3 983.3,631.9 984.3,632.1 985.3,632.1 986.3,632.8 987.2,632.5 988.2,631.8 989.2,631.7 990.2,631.7 991.2,631.9 992.2,632.2 993.2,632.4 994.2,631.9 995.2,631.4 996.1,631.3 997.1,631.8 998.1,631.9 999.1,632.0 1000.1,631.1 1001.1,631.0 1002.1,631.0 1003.1,631.4 1004.1,631.7 1005.1,631.1 1006.0,630.9 1007.0,630.7 1008.0,631.1 1009.0,630.8 1010.0,631.2 1011.0,630.9 1012.0,631.1 1013.0,630.4 1014.0,630.9 1015.0,630.8 1015.9,630.9 1016.9,630.4 1017.9,630.2 1018.9,630.2 1019.9,630.7 1020.9,630.9 1021.9,630.5 1022.9,630.4 1023.9,630.3 1024.8,630.8 1025.8,630.0 1026.8,629.6 1027.8,630.0 1028.8,629.9 1029.8,629.8 1030.8,629.9 1031.8,630.3 1032.8,630.6 1033.8,629.4 1034.7,629.6 1035.7,629.7 1036.7,630.3 1037.7,629.8 1038.7,629.8 1039.5,631.7 1040.4,634.2 1041.2,636.2 1042.1,633.8 1043.1,630.7 1044.0,629.4 1045.0,628.8 1045.9,628.8 1046.9,628.2 1047.8,627.8 1048.8,628.5 1049.8,628.0 1050.7,627.7 1051.7,627.9 1052.6,628.1 1053.6,628.0 1054.6,627.4 1055.5,628.1 1056.5,627.5 1057.4,627.4 1058.4,627.1 1059.4,628.1 1060.4,627.7 1061.3,627.7 1062.3,628.2 1063.3,627.3 1064.3,627.6 1065.3,627.5 1066.2,628.1 1067.2,627.6 1068.2,628.8 1069.2,628.5 1070.2,629.0 1071.1,629.2 1072.1,629.4 1073.1,628.9 1074.1,629.5 1075.1,629.7 1076.0,630.2 1077.0,629.6 1078.0,630.3 1079.0,630.7 1080.0,630.6 1080.9,630.2 1081.9,631.3 1082.9,630.6 1083.9,631.4 1084.9,631.5 1085.9,632.0 1086.8,632.9 1087.8,633.4 1088.8,633.7 1089.8,634.1 1090.8,633.6 1091.8,634.8 1092.8,635.2 1093.7,635.9 1094.7,636.2 1095.7,637.2 1096.7,636.9 1097.7,638.4 1098.7,639.1 1099.6,639.2 1100.6,639.9 1101.6,640.0 1102.6,641.5 1103.6,642.1 1104.5,641.8 1105.5,642.9 1106.4,643.1 1107.4,644.8 1108.4,645.1 1109.3,646.0 1110.3,646.3 1111.2,647.3 1112.2,647.3 1113.2,648.4 1114.1,649.3 1115.1,650.4 1116.1,650.6 1117.0,651.0 1118.0,652.4 1118.9,653.0 1119.9,653.9 1120.9,654.9 1121.8,656.7 1122.8,657.2 1123.7,658.2 1124.7,659.3 1125.6,660.8 1126.6,661.9 1127.5,663.4 1128.5,665.0 1129.4,666.6 1130.4,667.6 1131.3,669.5 1132.3,671.7 1133.2,673.5 1134.2,674.7 1135.1,677.2 1136.1,679.2 1137.0,681.7 1137.9,683.9 1138.9,687.3 1139.8,690.5 1140.7,694.0 1141.7,697.3 1142.6,699.8 1143.4,702.0 1144.3,703.8 1145.1,706.5 1146.0,709.0 1146.8,710.8 1147.7,714.4 1148.7,718.1 1149.6,723.4 1150.6,727.9 1151.5,733.2 1152.5,737.7 1153.4,742.5 1154.4,747.8 1155.3,752.4 1156.3,757.2 1157.2,762.5 1158.2,767.1 1159.2,771.5 1160.1,776.6 1161.1,782.0 1162.1,786.7 1163.1,791.8 1164.0,796.6 1165.0,800.6 1166.0,805.8 1166.9,811.2 1167.9,815.6 1168.9,820.6 1169.8,825.8 1170.8,830.1 1171.8,834.7 1172.7,839.7 1173.7,844.8 1174.7,849.9 1175.7,854.1 1176.6,859.1 1177.6,864.6 1178.6,869.5 1179.5,874.2 1180.5,879.1 1181.5,883.3 1182.4,888.0 1183.4,891.0 1184.4,895.5 1185.3,899.2 1186.3,903.3 1187.2,907.9 1188.2,912.0 1189.2,917.6 1190.1,924.2 1191.1,931.2 1191.9,941.1 1192.8,954.6 1193.6,970.0 1194.5,986.3 1195.3,999.7 1196.1,1012.1 1196.8,1023.8 1197.6,1034.1 1198.4,1043.7 1199.3,1052.2 1200.2,1059.2 1201.1,1066.6 1202.0,1073.5 1202.9,1079.7 1203.8,1085.0 1204.7,1089.7 1205.7,1094.7 1206.6,1099.4 1207.5,1104.8 1208.5,1108.6 1209.5,1113.6 1210.4,1117.4 1211.4,1120.6 1212.3,1122.6 1213.2,1124.2 1214.2,1125.5 1215.2,1125.2 1216.1,1124.4 1217.0,1123.4 1218.0,1121.4 1219.0,1120.5 1219.9,1119.2 1220.9,1116.8 1221.8,1115.1 1222.8,1112.0 1223.7,1111.0 1224.7,1108.3 1225.6,1105.9 1226.6,1103.5 1227.5,1099.9 1228.5,1097.2 1229.4,1093.9 1230.4,1090.6 1231.3,1086.4 1232.3,1082.3 1233.2,1078.3 1234.2,1074.1 1235.1,1070.4 1236.1,1065.9 1237.0,1062.6 1237.9,1057.8 1238.9,1053.2 1239.8,1047.6 1240.7,1041.7 1241.7,1035.8 1242.6,1030.4 1243.5,1023.5 1244.4,1014.3 1245.3,1005.9 1246.2,996.1 1247.1,986.9 1248.0,978.9 1248.9,972.5 1249.8,966.4 1250.7,961.9 1251.6,956.8 1252.6,951.8 1253.5,947.2 1254.4,944.3 1255.3,941.2 1256.2,939.1 1257.1,937.3 1258.0,935.4 1258.9,933.8 1259.8,932.2 1260.7,930.6 1261.6,928.0 1262.5,926.2 1263.5,923.1 1264.4,919.8 1265.3,917.2 1266.3,914.5 1267.2,911.7 1268.1,908.9 1269.1,907.6 1270.0,907.9 1271.0,907.2 1271.9,908.2 1272.9,909.0 1273.8,910.2 1274.8,912.3 1275.7,912.9 1276.7,915.1 1277.6,915.8 1278.6,917.1 1279.5,917.4 1280.5,918.2 1281.4,916.5 1282.3,913.2 1283.2,907.4 1284.1,901.0 1285.0,892.9 1285.9,884.9 1286.8,877.4 1287.7,869.3 1288.6,858.3 1289.4,846.6 1290.3,835.3 1291.2,828.5 1292.1,825.8 1293.0,827.2 1293.9,832.4 1294.8,839.6 1295.6,849.7 1296.5,858.4 1297.4,866.8 1298.2,876.7 1299.1,888.1 1299.9,900.6 1300.8,909.5 1301.6,914.2 1302.4,914.8 1303.3,915.8 1304.1,916.9 1305.0,917.9 1305.8,917.6 1306.7,916.7 1307.6,914.3 1308.5,910.4 1309.4,905.9 1310.3,902.4 1311.2,899.6 1312.1,898.9 1312.9,899.4 1313.8,902.1 1314.6,905.6 1315.5,909.7 1316.3,913.5 1317.2,917.7 1318.1,923.4 1318.9,929.6 1319.8,934.8 1320.7,939.0 1321.6,940.5 1322.5,938.8 1323.4,936.3 1324.3,933.1 1325.2,928.6 1326.2,924.1 1327.1,921.2 1328.0,917.0 1328.9,915.4 1329.8,915.3 1330.7,914.2 1331.6,913.4 1332.6,912.5 1333.5,912.1 1334.4,912.0 1335.3,911.6 1336.1,913.0 1337.0,914.9 1337.8,916.8 1338.7,919.6 1339.5,920.0 1340.5,919.3 1341.4,918.0 1342.4,916.0 1343.4,912.7 1344.3,908.8 1345.3,905.1 1346.3,901.0 1347.3,897.8 1348.2,893.7 1349.2,891.2 1350.2,888.3 1351.1,887.4 1352.1,886.7 1353.0,885.9 1353.9,886.3 1354.8,886.6 1355.7,887.0 1356.6,887.5 1357.5,888.0 1358.4,888.7 1359.3,890.2 1360.2,893.8 1361.2,900.0 1362.1,905.2 1363.0,911.7 1364.0,916.5 1364.9,921.3 1365.8,922.2 1366.7,920.1 1367.6,915.6 1368.4,908.6 1369.3,901.1 1370.2,894.0 1371.1,887.9 1372.0,882.8 1372.8,876.8 1373.7,871.2 1374.6,865.9 1375.4,862.9 1376.3,860.8 1377.2,861.0 1378.2,862.2 1379.1,863.5 1380.0,864.7 1380.9,866.5 1381.8,869.4 1382.8,870.9 1383.7,873.5 1384.6,877.6 1385.5,883.3 1386.4,889.3 1387.3,896.1 1388.2,902.0 1389.1,906.5 1390.0,910.0 1390.9,910.9 1391.9,911.5 1392.8,912.6 1393.7,912.6 1394.7,912.9 1395.6,913.2 1396.5,913.7 1397.5,915.1 1398.4,916.3 1399.3,916.9 1400.2,919.1 1401.1,922.7 1402.0,924.9 1402.9,928.7 1403.8,932.3 1404.7,934.2 1405.6,937.4 1406.5,941.9 1407.5,945.0 1408.4,949.0 1409.3,953.0 1410.2,955.3 1411.2,956.7 1412.1,958.5 1413.0,957.8 1414.0,956.4 1414.9,956.6 1415.9,954.6 1416.8,953.6 1417.8,952.9 1418.8,951.7 1419.7,950.9 1420.6,949.9 1421.6,950.1 1422.5,949.5 1423.4,951.4 1424.3,953.3 1425.2,955.7 1426.1,958.8 1427.0,961.8 1427.9,963.7 1428.9,967.8 1429.9,971.3 1430.9,975.7 1431.9,980.8 1432.8,985.7 1433.8,991.9 1434.8,997.3 1435.8,1003.1 1436.8,1007.9 1437.8,1013.7 1438.8,1019.1 1439.8,1025.5 1440.7,1031.2 1441.7,1038.0 1442.7,1044.0 1443.6,1049.7 1444.6,1055.9 1445.6,1060.7 1446.6,1065.3 1447.5,1068.8 1448.5,1072.4 1449.5,1074.9 1450.5,1079.2 1451.5,1082.2 1452.4,1087.0 1453.4,1091.3 1454.3,1098.4 1455.1,1107.2 1456.0,1117.8 1456.9,1127.1 1457.7,1132.8 1458.6,1136.4 1459.6,1136.0 1460.5,1135.1 1461.5,1133.0 1462.5,1131.5 1463.5,1130.9 1464.5,1129.2 1465.4,1128.5 1466.4,1128.4 1467.3,1127.7 1468.3,1128.4 1469.2,1128.3 1470.1,1128.4 1471.1,1128.1 1472.0,1128.9 1473.0,1129.4 1473.9,1129.0 1474.8,1129.8 1475.8,1128.7 1476.7,1129.2 1477.7,1128.9 1478.7,1125.9 1479.6,1122.0 1480.6,1118.1 1481.6,1114.3 1482.5,1109.8 1483.5,1107.1 1484.5,1104.4 1485.4,1103.2 1486.4,1103.3 1487.3,1102.6 1488.3,1101.5 1489.2,1100.6 1490.2,1101.0 1491.1,1099.5 1492.1,1100.0 1493.0,1098.3 1494.0,1097.6 1494.9,1097.3 1495.9,1094.6 1496.9,1091.9 1497.8,1088.5 1498.8,1085.3 1499.8,1080.3 1500.8,1075.7 1501.7,1070.3 1502.7,1065.9 1503.7,1060.8 1504.7,1054.5 1505.6,1048.7 1506.6,1042.4 1507.6,1035.2 1508.5,1028.3 1509.5,1020.4 1510.5,1013.9 1511.5,1006.6 1512.5,998.2 1513.4,990.9 1514.4,981.8 1515.4,973.2 1516.3,965.0 1517.3,956.5 1518.3,949.2 1519.3,940.5 1520.2,931.8 1521.2,923.3 1522.2,913.5 1523.2,905.5 1524.1,897.3 1525.1,890.2 1526.1,883.7 1527.1,877.7 1528.0,872.6 1529.0,867.6 1530.0,863.8 1531.0,858.6 1532.0,855.0 1532.9,851.1 1533.9,847.5 1534.9,843.3 1535.9,839.6 1536.8,836.4 1537.8,832.1 1538.8,829.0 1539.8,826.5 1540.7,824.6 1541.7,823.6 1542.7,824.2 1543.7,824.6 1544.6,824.6 1545.6,823.9 1546.6,824.1 1547.5,823.8 1548.5,824.2 1549.5,824.4 1550.4,823.9 1551.4,822.6 1552.3,821.5 1553.2,819.4 1554.2,817.7 1555.1,815.2 1556.1,812.2 1557.0,810.1 1557.9,807.0 1558.9,803.7 1559.8,800.6 1560.7,796.8 1561.5,792.7 1562.4,787.6 1563.3,782.3 1564.1,777.6 1565.0,774.7 1566.0,771.7 1567.0,769.3 1567.9,765.8 1568.9,764.2 1569.9,761.7 1570.8,759.5 1571.8,756.2 1572.8,754.7 1573.8,752.6 1574.8,750.9 1575.7,749.7 1576.7,748.8 1577.7,747.4 1578.6,747.0 1579.6,746.6 1580.6,745.8 1581.5,745.5 1582.5,746.2 1583.4,746.8 1584.4,746.9 1585.3,748.3 1586.3,748.9 1587.2,749.8 1588.2,750.3 1589.1,752.3 1590.1,751.4 1591.0,752.8 1591.9,756.0 1592.9,757.7 1593.8,759.2 1594.8,761.3 1595.7,761.1 1596.7,765.9 1597.6,767.9 1598.6,769.3 1599.5,771.8 1600.5,772.2 1601.4,774.8 1602.4,776.0 1603.4,778.0 1604.3,779.0 1605.3,781.9 1606.3,781.9 1607.2,783.1 1608.2,785.1 1609.2,787.0 1610.2,786.6 1611.2,788.8 1612.1,791.4 1613.1,790.5 1614.1,792.3 1615.0,794.7 1616.0,795.3 1617.0,795.6 1618.0,796.5 1619.0,796.1 1620.0,796.7 1620.9,800.3 1621.9,799.5 1622.9,799.7 1623.9,800.7 1624.9,803.0 1625.9,802.4 1626.9,803.9 1627.8,802.6 1628.8,805.4 1629.8,804.9 1630.8,806.3 1631.8,807.2 1632.8,806.1 1633.8,808.4 1634.7,808.4 1635.7,809.1 1636.7,809.7 1637.7,811.9 1638.6,810.3 1639.6,812.2 1640.5,811.9 1641.5,813.9 1642.4,813.6 1643.4,815.4 1644.3,817.4 1645.3,818.0 1646.2,816.9 1647.2,818.7 1648.1,818.9 1649.1,820.5 1650.0,823.7 1651.0,825.0 1652.0,826.0 1653.0,829.0 1654.0,832.0 1654.9,832.0 1655.9,834.5 1656.9,836.1 1657.9,836.3 1658.9,840.4 1659.9,839.6 1660.9,841.2 1661.9,842.5 1662.9,845.4 1663.9,846.6 1664.9,846.6 1665.9,847.6 1666.9,850.2 1667.9,850.5 1668.9,853.3 1669.9,852.6 1670.9,854.2 1671.9,855.8 1672.9,857.6 1673.9,859.6 1674.9,860.7 1675.9,860.8 1676.9,861.5 1677.9,863.1 1678.9,863.1 1679.9,865.9 1680.9,866.8 1681.9,868.0 1682.9,870.2 1683.9,872.5 1684.9,872.3 1685.9,875.9 1686.9,877.6 1687.9,880.3 1688.9,880.8 1689.9,883.7 1690.9,886.8 1691.9,887.8 1692.9,890.2 1693.9,893.6 1694.9,894.9 1695.8,895.0 1696.8,899.6 1697.7,901.5 1698.6,902.3 1699.6,905.0 1700.5,905.1 1701.5,908.7 1702.4,911.0 1703.3,912.5 1704.3,912.4 1705.2,914.7 1706.2,917.9 1707.2,919.0 1708.1,920.3 1709.1,921.7 1710.1,923.7 1711.1,924.7 1712.0,927.5 1713.0,927.4 1714.0,930.0 1715.0,929.8 1715.9,931.2 1716.9,930.3 1717.9,929.8 1718.8,929.1 1719.8,930.5 1720.7,928.3 1721.7,928.7 1722.6,929.1 1723.6,927.5 1724.5,927.1 1725.5,925.6 1726.4,922.7 1727.4,922.3 1728.3,922.5 1729.3,919.0 1730.2,918.4 1731.2,917.6 1732.1,916.3 1733.1,915.5 1734.0,913.6 1735.0,912.5 1735.9,911.1 1736.9,909.0 1737.8,904.7 1738.8,902.4 1739.7,899.4 1740.7,897.9 1741.6,895.3 1742.6,889.6 1743.5,881.7 1744.5,872.9 1745.5,871.2 1746.5,870.1 1747.5,872.5 1748.5,872.5 1749.5,875.7 1750.5,876.6 1751.5,879.2 1752.5,881.4 1753.5,883.4 1754.5,886.3 1755.5,886.2 1756.5,888.2 1757.5,888.6 1758.5,888.5 1759.4,887.6 1760.4,884.6 1761.3,878.3 1762.2,873.2 1763.1,867.3 1764.1,863.5 1765.0,861.9 1766.0,864.0"/>
<polygon fill="#b06a12" stroke="#b06a12" stroke-width="1" points="1766.0,858.1 1767.2,855.6 1768.5,848.5 1769.9,843.0 1771.1,838.5 1772.7,832.8 1774.2,831.0 1775.9,824.0 1777.1,820.3 1778.7,816.5 1780.5,807.0 1781.8,795.7 1783.5,784.0 1785.4,783.3 1787.1,781.4 1788.4,776.0 1789.9,751.0 1791.8,735.5 1793.7,735.4 1794.9,735.8 1795.5,733.0 1795.5,780.0 1794.9,786.8 1793.7,799.0 1791.8,818.5 1789.9,833.6 1788.4,839.7 1787.1,840.9 1785.4,842.3 1783.5,844.4 1781.8,846.5 1780.5,849.3 1778.7,849.9 1777.1,851.5 1775.9,849.2 1774.2,850.5 1772.7,853.6 1771.1,854.6 1769.9,855.9 1768.5,861.4 1767.2,863.6 1766.0,867.1"/>
<polyline stroke="#ff8000" points="131.0,565.6 132.0,565.5 133.0,565.3 133.9,564.5 134.9,564.6 135.9,565.2 136.9,565.4 137.9,564.1 138.8,564.4 139.8,565.5 140.8,564.3 141.8,565.1 142.8,564.6 143.7,565.1 144.7,565.5 145.7,565.0 146.7,564.7 147.7,564.6 148.6,565.1 149.6,565.1 150.6,564.8 151.6,564.8 152.6,565.0 153.5,564.5 154.5,564.4 155.5,565.0 156.5,564.3 157.4,565.1 158.4,565.4 159.4,565.4 160.4,564.5 161.4,564.8 162.3,565.6 163.3,564.7 164.3,565.7 165.3,564.4 166.3,565.4 167.2,564.2 168.2,565.2 169.2,565.4 170.2,565.0 171.2,565.1 172.1,565.6 173.1,565.7 174.1,564.4 175.1,564.9 176.1,564.2 177.1,564.7 178.0,564.4 179.0,564.4 180.0,565.2 181.0,564.3 182.0,564.5 183.0,564.3 183.9,565.6 184.9,564.7 185.9,564.5 186.9,565.4 187.9,565.6 188.9,565.6 189.8,565.5 190.8,565.5 191.8,565.9 192.8,565.3 193.8,566.2 194.8,566.1 195.7,566.4 196.7,566.5 197.7,566.5 198.7,566.1 199.7,566.2 200.7,566.6 201.7,566.5 202.6,565.7 203.6,567.2 204.6,566.1 205.6,566.7 206.6,566.7 207.6,566.2 208.5,567.1 209.5,567.2 210.5,567.7 211.5,567.5 212.5,567.1 213.5,567.6 214.4,568.4 215.4,567.9 216.4,568.4 217.4,567.2 218.4,568.4 219.4,567.7 220.3,567.7 221.3,568.1 222.3,568.0 223.3,567.9 224.3,568.2 225.3,568.4 226.3,568.5 227.3,569.5 228.3,568.5 229.3,568.8 230.3,568.7 231.3,569.6 232.3,569.3 233.3,569.9 234.3,569.6 235.3,569.7 236.3,570.3 237.3,569.8 238.3,571.3 239.2,570.9 240.2,570.8 241.2,571.3 242.2,572.1 243.2,571.6 244.2,571.6 245.2,571.6 246.2,572.1 247.2,572.9 248.2,572.9 249.2,572.6 250.2,573.9 251.2,572.9 252.2,573.6 253.2,574.5 254.2,575.1 255.2,574.6 256.2,574.3 257.2,575.5 258.1,575.7 259.1,575.6 260.1,576.6 261.1,578.0 262.1,577.3 263.0,578.2 264.0,578.8 265.0,580.6 266.0,580.6 267.0,582.1 267.9,582.9 268.9,582.8 269.9,584.5 270.8,585.1 271.8,587.5 272.7,588.6 273.6,590.2 274.5,592.7 275.4,594.7 276.4,595.5 277.3,597.5 278.3,599.9 279.3,602.1 280.2,604.6 281.2,607.0 282.2,610.3 283.2,612.4 284.2,615.4 285.1,617.5 286.1,619.5 287.1,622.7 288.1,624.8 289.1,628.2 290.1,630.3 291.1,634.5 292.1,636.4 293.0,640.3 294.0,642.3 295.0,645.3 296.0,648.5 297.0,652.6 298.0,655.9 299.0,659.1 299.9,662.2 300.9,665.0 301.9,668.7 302.9,671.9 303.9,676.9 304.8,679.1 305.8,683.5 306.8,685.7 307.7,689.3 308.7,693.0 309.6,695.4 310.6,698.3 311.5,702.8 312.5,704.8 313.4,707.4 314.4,711.5 315.3,715.0 316.3,717.2 317.2,719.3 318.2,722.8 319.1,726.0 320.0,728.2 321.0,731.2 321.9,734.5 322.9,737.1 323.8,740.1 324.7,742.9 325.7,744.9 326.6,748.2 327.5,749.5 328.5,752.7 329.4,755.5 330.4,758.4 331.3,760.2 332.3,762.7 333.3,766.1 334.3,768.0 335.2,770.0 336.2,773.3 337.2,775.6 338.2,778.8 339.2,781.6 340.2,782.8 341.2,785.7 342.2,789.0 343.1,791.1 344.1,793.3 345.1,794.8 346.1,797.7 347.1,799.5 348.1,801.3 349.0,802.7 350.0,804.7 351.0,805.6 352.0,807.1 353.0,808.8 353.9,810.4 354.9,812.8 355.9,815.0 356.9,815.9 357.9,817.8 358.8,819.2 359.8,820.9 360.8,821.2 361.8,823.0 362.8,825.1 363.8,825.6 364.7,827.5 365.7,828.5 366.7,829.4 367.7,830.8 368.7,832.3 369.7,833.1 370.7,835.6 371.7,835.9 372.6,836.8 373.6,838.7 374.6,838.4 375.6,840.4 376.6,840.7 377.6,841.0 378.6,842.3 379.6,844.1 380.6,843.4 381.5,844.6 382.5,845.2 383.5,846.6 384.5,846.7 385.5,848.5 386.5,848.4 387.5,850.0 388.5,849.2 389.5,849.9 390.5,850.1 391.4,850.5 392.4,851.1 393.4,852.1 394.4,852.2 395.4,852.6 396.4,851.9 397.4,852.4 398.3,852.9 399.3,851.7 400.3,851.4 401.3,851.0 402.2,851.9 403.2,851.0 404.2,850.3 405.2,849.9 406.1,848.7 407.1,848.4 408.1,848.6 409.1,847.3 410.1,847.0 411.0,847.0 412.0,845.2 413.0,844.9 413.9,844.7 414.9,844.0 415.9,843.4 416.9,842.8 417.9,841.5 418.8,840.3 419.8,840.0 420.8,840.0 421.7,838.0 422.7,837.3 423.7,836.2 424.7,836.3 425.6,834.1 426.6,833.1 427.6,832.7 428.5,831.8 429.5,830.1 430.5,829.4 431.5,828.1 432.4,826.4 433.4,824.6 434.4,824.3 435.3,822.9 436.3,822.2 437.3,820.5 438.3,818.2 439.2,817.1 440.2,816.0 441.2,815.4 442.1,813.5 443.1,812.2 444.1,810.9 445.1,809.9 446.0,809.1 447.0,808.3 448.0,807.5 449.0,805.2 450.0,804.8 451.0,804.4 452.0,802.5 453.0,801.0 454.0,800.8 455.0,800.1 456.0,797.8 457.0,796.8 458.0,796.2 459.0,795.3 460.0,793.9 461.0,792.8 462.0,792.4 463.0,792.2 464.0,790.6 465.0,789.1 466.0,789.2 467.0,787.1 468.0,785.8 469.0,784.8 470.0,783.6 471.0,784.0 472.0,782.3 473.0,781.9 474.0,780.2 475.0,778.3 476.0,777.7 477.0,776.6 478.0,775.2 478.9,774.0 479.9,773.9 480.9,773.2 481.9,772.2 482.9,770.0 483.9,769.5 484.8,767.8 485.8,767.7 486.8,766.7 487.8,764.1 488.8,763.3 489.8,763.2 490.7,762.3 491.7,760.9 492.7,758.5 493.7,758.1 494.7,757.2 495.7,755.6 496.6,754.3 497.6,753.4 498.6,751.0 499.6,750.5 500.6,749.8 501.6,747.7 502.5,746.0 503.5,744.2 504.5,743.9 505.5,742.0 506.5,740.9 507.4,739.3 508.4,737.3 509.4,735.9 510.4,734.2 511.4,732.4 512.3,730.2 513.3,729.0 514.3,727.5 515.3,725.0 516.3,724.2 517.2,722.2 518.2,720.2 519.2,718.7 520.2,717.9 521.2,715.0 522.1,713.4 523.1,712.6 524.1,710.5 525.1,710.2 526.1,708.9 527.1,706.5 528.0,705.1 529.0,704.2 530.0,703.1 531.0,701.3 532.0,700.4 533.0,698.1 533.9,696.9 534.9,695.9 535.9,694.6 536.9,692.7 537.9,691.3 538.9,690.7 539.8,689.1 540.8,687.6 541.8,685.8 542.8,684.6 543.8,682.8 544.8,681.7 545.7,680.1 546.7,679.0 547.7,678.3 548.7,676.8 549.7,675.9 550.7,674.1 551.6,672.4 552.6,671.0 553.6,670.4 554.6,667.8 555.6,666.6 556.5,665.7 557.5,663.9 558.5,663.0 559.5,661.2 560.5,660.6 561.4,659.6 562.4,657.5 563.4,656.8 564.4,654.2 565.4,653.1 566.3,651.8 567.3,651.5 568.3,649.3 569.3,648.4 570.3,647.5 571.3,645.5 572.2,643.7 573.2,642.3 574.2,640.9 575.2,639.3 576.2,637.7 577.2,635.6 578.2,635.6 579.2,634.0 580.1,633.1 581.1,632.0 582.1,630.2 583.1,629.9 584.1,629.6 585.1,628.4 586.0,628.9 587.0,627.9 588.0,627.6 589.0,627.7 590.0,626.5 590.9,626.2 591.9,626.5 592.9,625.7 593.9,626.0 594.9,626.2 595.8,627.9 596.8,628.1 597.8,629.1 598.8,629.7 599.8,630.2 600.7,631.4 601.7,633.5 602.7,634.1 603.7,635.3 604.7,636.2 605.6,638.2 606.6,638.3 607.6,640.4 608.6,641.3 609.6,642.7 610.6,644.7 611.5,645.5 612.5,647.3 613.5,648.9 614.5,651.1 615.5,653.1 616.5,654.5 617.5,655.2 618.5,657.4 619.4,657.2 620.4,659.0 621.4,658.8 622.4,659.2 623.3,659.4 624.3,657.9 625.2,657.7 626.2,656.2 627.1,654.7 628.1,652.3 629.0,650.9 630.0,648.7 630.9,646.3 631.9,644.6 632.8,642.2 633.8,641.2 634.7,639.5 635.7,638.2 636.7,638.0 637.6,637.7 638.6,636.2 639.6,635.0 640.6,635.0 641.6,633.6 642.5,633.7 643.5,633.2 644.5,631.6 645.5,631.0 646.5,630.4 647.4,629.9 648.4,629.0 649.4,628.3 650.4,626.5 651.3,625.6 652.3,622.9 653.2,621.1 654.2,620.4 655.1,618.0 656.1,615.3 657.0,612.6 658.0,610.6 659.0,608.6 659.9,605.8 660.9,604.5 661.8,602.9 662.8,599.9 663.7,597.9 664.7,596.0 665.6,594.5 666.6,593.4 667.6,591.5 668.5,589.8 669.5,588.5 670.4,588.6 671.4,586.9 672.3,584.8 673.3,584.1 674.2,583.5 675.2,581.7 676.2,581.1 677.1,580.6 678.1,578.6 679.0,577.7 680.0,576.3 680.9,576.3 681.9,575.1 682.8,574.3 683.8,573.2 684.8,572.9 685.8,572.1 686.8,571.9 687.7,571.0 688.7,569.2 689.7,568.6 690.7,568.4 691.7,567.5 692.7,566.9 693.6,566.3 694.6,566.8 695.6,565.0 696.6,565.6 697.6,564.5 698.6,564.4 699.5,563.4 700.5,562.5 701.5,562.3 702.5,562.6 703.5,561.8 704.5,561.1 705.4,560.2 706.4,560.2 707.4,558.8 708.4,558.7 709.4,558.0 710.4,557.6 711.3,557.7 712.3,556.2 713.3,555.9 714.3,555.8 715.3,554.9 716.2,555.4 717.2,554.2 718.2,553.0 719.2,552.9 720.2,552.4 721.1,552.2 722.1,551.0 723.1,552.1 724.1,550.8 725.1,550.7 726.0,549.9 727.0,549.4 728.0,548.7 729.0,549.1 730.0,547.4 730.9,547.5 731.9,546.6 732.9,546.2 733.9,545.3 734.9,546.2 735.9,544.6 736.9,544.7 737.9,544.3 738.9,544.0 739.9,542.7 740.9,542.3 741.9,542.3 742.9,541.3 743.9,540.3 744.9,539.9 745.9,540.3 746.9,538.8 747.9,538.7 748.9,538.4 749.9,537.9 750.9,537.1 751.8,536.8 752.8,536.6 753.8,535.3 754.8,534.5 755.8,534.0 756.8,534.1 757.8,532.6 758.8,533.1 759.8,531.7 760.8,531.0 761.8,531.4 762.8,530.2 763.8,530.3 764.8,528.9 765.8,528.5 766.8,528.3 767.8,528.2 768.8,527.4 769.8,527.5 770.8,527.0 771.8,525.2 772.7,525.8 773.7,525.5 774.7,523.8 775.7,523.5 776.7,523.2 777.6,523.3 778.6,521.6 779.6,521.1 780.6,521.5 781.6,520.0 782.5,520.5 783.5,519.3 784.5,519.6 785.5,518.0 786.5,517.6 787.4,517.8 788.4,517.4 789.4,516.8 790.4,515.7 791.4,515.7 792.3,515.7 793.3,515.3 794.3,515.3 795.3,514.7 796.3,514.3 797.3,514.1 798.3,513.7 799.3,513.7 800.2,512.8 801.2,513.0 802.2,512.5 803.2,511.6 804.2,511.9 805.2,511.5 806.2,511.4 807.2,510.7 808.2,511.8 809.2,510.8 810.1,510.9 811.1,510.2 812.1,510.4 813.1,510.7 814.1,510.3 815.1,510.3 816.1,509.9 817.1,510.2 818.1,509.4 819.1,508.5 820.0,508.1 821.0,509.3 822.0,508.4 823.0,508.3 824.0,508.1 825.0,507.9 826.0,506.9 827.0,506.4 828.0,506.6 829.0,505.9 830.0,505.8 831.0,505.2 832.0,505.7 833.0,505.2 834.0,504.4 834.9,504.2 835.9,503.3 836.9,502.5 837.9,501.9 838.9,501.4 839.9,501.3 840.9,500.0 841.9,499.5 842.9,500.5 843.9,498.7 844.9,498.3 845.9,498.5 846.9,497.7 847.9,497.7 848.9,496.1 849.9,495.6 850.9,495.7 851.9,495.9 852.8,494.6 853.8,494.6 854.8,494.7 855.8,494.3 856.8,493.5 857.8,492.6 858.8,492.3 859.8,492.1 860.8,492.2 861.8,492.9 862.8,491.4 863.8,492.0 864.8,491.9 865.7,491.1 866.7,491.5 867.7,490.3 868.7,491.4 869.7,489.8 870.7,490.1 871.6,489.4 872.6,489.6 873.6,489.1 874.6,489.7 875.6,489.1 876.6,490.1 877.5,489.2 878.5,488.4 879.5,489.5 880.5,488.0 881.5,488.7 882.5,488.2 883.4,487.9 884.4,488.2 885.4,487.4 886.4,487.9 887.4,487.9 888.4,487.9 889.4,487.9 890.3,486.7 891.3,487.8 892.3,487.0 893.3,487.0 894.3,486.2 895.3,486.6 896.2,486.4 897.2,487.0 898.2,486.6 899.2,486.9 900.2,485.8 901.2,485.6 902.1,485.9 903.1,485.1 904.1,485.1 905.1,485.4 906.1,486.2 907.1,485.8 908.0,484.8 909.0,484.3 910.0,484.4 911.0,484.2 912.0,485.4 913.0,484.2 913.9,484.0 914.9,484.9 915.9,484.2 916.9,484.1 917.9,483.1 918.9,483.0 919.8,483.2 920.8,483.2 921.8,483.2 922.8,483.4 923.8,483.2 924.7,482.7 925.7,482.0 926.7,482.1 927.7,483.3 928.7,482.0 929.7,482.7 930.6,481.9 931.6,482.1 932.6,481.2 933.6,482.1 934.6,481.4 935.5,481.9 936.5,481.9 937.5,480.8 938.5,481.4 939.5,481.7 940.5,480.7 941.4,480.0 942.4,480.6 943.4,480.1 944.4,479.9 945.4,481.0 946.4,479.4 947.3,479.5 948.3,479.7 949.3,479.3 950.3,479.1 951.3,479.2 952.2,479.4 953.2,479.6 954.2,479.9 955.2,479.0 956.2,478.3 957.2,479.5 958.1,479.0 959.1,479.4 960.1,479.1 961.1,477.8 962.1,478.7 963.0,478.1 964.0,478.4 965.0,477.5 966.0,477.3 967.0,478.0 968.0,477.9 968.9,478.5 969.9,477.4 970.9,477.8 971.9,477.7 972.9,477.5 973.8,477.7 974.8,477.7 975.8,477.4 976.8,477.0 977.8,476.6 978.8,476.4 979.7,477.2 980.7,477.0 981.7,476.8 982.7,477.3 983.7,476.6 984.7,476.5 985.6,476.6 986.6,477.3 987.6,476.4 988.6,475.9 989.6,476.7 990.5,477.0 991.5,476.6 992.5,476.4 993.5,476.7 994.5,476.3 995.5,476.4 996.4,475.3 997.4,476.1 998.4,475.4 999.4,475.5 1000.4,475.5 1001.3,475.6 1002.3,474.9 1003.3,475.2 1004.3,474.7 1005.3,475.4 1006.3,474.6 1007.2,474.5 1008.2,475.6 1009.2,474.8 1010.2,474.3 1011.2,474.5 1012.2,475.3 1013.2,474.9 1014.2,474.8 1015.2,473.7 1016.2,473.8 1017.2,473.6 1018.2,473.8 1019.2,474.0 1020.2,473.7 1021.2,474.0 1022.2,473.1 1023.2,472.9 1024.2,473.7 1025.2,473.3 1026.2,473.0 1027.2,472.3 1028.1,472.4 1029.1,472.1 1030.1,472.9 1031.1,471.5 1032.1,472.1 1033.1,471.8 1034.1,471.8 1035.1,470.8 1036.1,471.7 1037.1,471.9 1038.1,471.5 1039.1,470.3 1040.1,471.1 1041.1,470.4 1042.1,470.7 1043.1,470.4 1044.1,471.0 1045.1,469.5 1046.1,470.7 1047.1,469.9 1048.1,470.5 1049.1,469.8 1050.1,470.2 1051.1,468.7 1052.1,468.7 1053.1,468.5 1054.1,468.8 1055.1,468.8 1056.0,467.8 1057.0,468.5 1058.0,468.3 1059.0,468.3 1060.0,467.1 1061.0,467.1 1062.0,467.4 1063.0,466.5 1064.0,466.5 1065.0,466.3 1066.0,467.2 1067.0,467.3 1068.0,466.7 1069.0,466.7 1070.0,466.6 1071.0,465.7 1072.0,466.3 1073.0,465.7 1073.9,466.1 1074.9,465.7 1075.9,464.7 1076.9,465.8 1077.9,465.8 1078.9,465.8 1079.9,464.5 1080.9,465.4 1081.9,465.1 1082.9,464.5 1083.9,465.6 1084.9,465.4 1085.9,464.9 1086.8,465.3 1087.8,465.2 1088.8,464.6 1089.8,465.2 1090.8,465.8 1091.8,465.4 1092.7,465.3 1093.7,464.6 1094.7,465.0 1095.7,465.0 1096.7,465.6 1097.7,465.1 1098.6,465.8 1099.6,465.1 1100.6,465.6 1101.6,465.7 1102.6,465.5 1103.6,466.7 1104.5,466.5 1105.5,465.3 1106.5,465.4 1107.5,466.3 1108.5,466.6 1109.5,466.9 1110.4,466.6 1111.4,467.6 1112.4,466.5 1113.4,466.7 1114.4,467.6 1115.3,467.6 1116.3,469.2 1117.3,469.3 1118.3,469.8 1119.3,468.9 1120.2,469.4 1121.2,470.2 1122.2,470.6 1123.2,471.5 1124.2,471.6 1125.1,473.1 1126.1,473.6 1127.1,473.6 1128.1,474.4 1129.1,474.7 1130.0,476.6 1131.0,476.3 1132.0,478.0 1133.0,478.4 1134.0,479.1 1135.0,480.5 1136.0,480.7 1137.0,482.9 1137.9,483.8 1138.9,485.2 1139.9,487.2 1140.9,488.7 1141.9,489.7 1142.8,491.1 1143.7,493.5 1144.6,494.1 1145.5,495.8 1146.4,498.2 1147.3,500.1 1148.2,502.6 1149.1,504.8 1150.0,507.4 1151.0,508.7 1151.9,511.5 1152.9,514.6 1153.8,516.3 1154.8,520.2 1155.7,522.2 1156.7,525.9 1157.6,528.2 1158.6,532.5 1159.5,534.8 1160.5,538.8 1161.4,542.7 1162.4,545.5 1163.3,550.7 1164.2,554.7 1165.2,559.8 1166.1,564.8 1167.0,568.0 1168.0,572.0 1168.9,576.4 1169.8,579.2 1170.8,583.6 1171.7,586.3 1172.7,589.7 1173.6,592.7 1174.6,596.4 1175.5,599.3 1176.5,600.9 1177.4,601.5 1178.4,602.6 1179.3,603.7 1180.3,603.6 1181.3,604.4 1182.2,604.2 1183.2,604.0 1184.2,605.4 1185.2,605.2 1186.1,606.3 1187.1,606.0 1188.1,606.3 1189.0,606.9 1190.0,607.8 1190.9,609.3 1191.9,612.2 1192.8,614.4 1193.7,617.8 1194.7,622.9 1195.6,625.8 1196.5,630.9 1197.5,635.9 1198.4,640.1 1199.3,643.3 1200.2,648.8 1201.1,654.8 1202.0,660.1 1202.9,665.1 1203.8,669.1 1204.7,670.6 1205.6,673.0 1206.6,672.3 1207.5,674.2 1208.5,673.9 1209.4,675.4 1210.4,674.8 1211.3,675.5 1212.3,676.4 1213.2,678.2 1214.1,679.6 1215.1,680.7 1216.0,683.2 1216.9,686.2 1217.9,688.6 1218.8,691.8 1219.7,692.7 1220.7,694.1 1221.6,695.4 1222.6,694.7 1223.5,695.8 1224.5,694.7 1225.5,694.7 1226.4,693.6 1227.4,693.3 1228.4,691.8 1229.4,691.6 1230.3,690.2 1231.3,689.8 1232.3,687.3 1233.2,687.5 1234.2,685.4 1235.1,684.9 1236.1,683.7 1237.0,680.8 1237.9,678.8 1238.9,676.7 1239.8,673.6 1240.7,670.5 1241.7,667.1 1242.6,665.3 1243.5,660.3 1244.5,656.6 1245.4,651.5 1246.4,646.1 1247.3,640.6 1248.3,633.8 1249.2,628.9 1250.2,623.0 1251.1,618.5 1252.0,615.0 1252.9,609.7 1253.8,606.8 1254.7,602.9 1255.6,598.9 1256.5,596.2 1257.4,593.8 1258.4,590.6 1259.3,588.3 1260.3,585.8 1261.3,583.2 1262.2,580.4 1263.2,578.0 1264.2,576.0 1265.2,574.2 1266.1,572.7 1267.1,571.8 1268.1,571.0 1269.0,570.3 1270.0,570.4 1271.0,569.7 1271.9,569.7 1272.9,571.1 1273.8,570.5 1274.8,570.2 1275.7,570.5 1276.7,572.1 1277.6,571.8 1278.6,571.6 1279.5,572.1 1280.5,572.6 1281.4,571.4 1282.3,567.3 1283.2,562.7 1284.1,556.7 1285.0,551.8 1285.9,547.6 1286.8,547.0 1287.7,547.0 1288.7,547.1 1289.6,546.7 1290.6,547.3 1291.5,548.4 1292.5,549.8 1293.4,550.0 1294.4,552.4 1295.3,553.2 1296.1,556.4 1297.0,564.3 1297.8,572.4 1298.7,580.5 1299.5,586.8 1300.4,590.2 1301.3,593.4 1302.2,597.5 1303.1,599.4 1304.0,600.6 1304.9,602.8 1305.8,604.0 1306.7,604.2 1307.6,605.2 1308.5,605.1 1309.4,605.5 1310.3,604.3 1311.2,605.6 1312.1,605.4 1313.0,606.7 1313.9,609.9 1314.8,613.6 1315.7,619.1 1316.6,622.9 1317.5,626.6 1318.4,628.8 1319.2,630.9 1320.1,632.4 1320.9,633.1 1321.8,633.5 1322.6,634.9 1323.5,634.1 1324.5,633.3 1325.4,631.9 1326.4,630.0 1327.3,629.2 1328.3,626.4 1329.2,625.6 1330.2,625.8 1331.1,625.4 1332.0,624.9 1332.9,626.0 1333.8,628.0 1334.7,631.1 1335.6,632.7 1336.5,632.9 1337.4,633.8 1338.4,634.3 1339.4,632.4 1340.3,629.8 1341.3,627.3 1342.3,625.5 1343.3,621.4 1344.3,617.9 1345.2,613.6 1346.2,610.1 1347.2,606.5 1348.2,604.0 1349.2,600.3 1350.1,597.4 1351.1,596.5 1352.1,595.7 1353.1,595.2 1354.0,595.1 1355.0,594.8 1356.0,594.0 1356.9,593.2 1357.9,593.3 1358.9,593.2 1359.9,592.9 1360.8,592.8 1361.8,592.7 1362.8,592.0 1363.7,591.6 1364.7,591.9 1365.7,590.3 1366.7,589.6 1367.6,588.1 1368.6,586.1 1369.6,585.9 1370.6,583.3 1371.5,581.5 1372.5,580.2 1373.5,579.4 1374.5,578.1 1375.4,576.7 1376.4,576.7 1377.4,576.0 1378.4,576.6 1379.3,577.9 1380.3,579.2 1381.3,580.2 1382.2,582.1 1383.2,584.7 1384.2,586.5 1385.2,587.9 1386.1,590.0 1387.1,592.9 1388.1,594.4 1389.0,596.3 1390.0,597.9 1391.0,597.9 1391.9,598.8 1392.9,599.6 1393.9,600.5 1394.8,602.5 1395.8,603.2 1396.8,604.5 1397.7,603.8 1398.7,605.7 1399.7,606.0 1400.6,605.0 1401.6,605.5 1402.6,604.9 1403.5,604.7 1404.5,603.1 1405.5,602.2 1406.4,601.5 1407.4,599.3 1408.4,596.9 1409.3,595.6 1410.3,592.1 1411.3,590.0 1412.2,588.9 1413.2,586.6 1414.2,584.9 1415.1,582.2 1416.1,580.8 1417.0,577.0 1418.0,575.6 1419.0,572.5 1419.9,570.6 1420.9,568.0 1421.8,566.4 1422.8,564.6 1423.7,563.7 1424.7,564.0 1425.6,564.3 1426.5,566.0 1427.3,568.1 1428.2,570.8 1429.1,573.6 1430.0,575.7 1431.0,580.9 1432.0,586.8 1433.0,592.4 1434.0,599.9 1435.0,606.0 1436.0,612.4 1437.0,619.2 1437.9,623.1 1438.8,627.3 1439.7,630.5 1440.6,635.5 1441.5,637.2 1442.4,641.6 1443.4,643.7 1444.3,645.4 1445.2,648.2 1446.2,650.2 1447.1,653.1 1448.1,655.8 1449.0,658.6 1450.0,661.6 1451.0,663.7 1452.0,667.8 1453.0,671.8 1454.0,677.4 1454.9,683.1 1455.7,689.4 1456.6,696.8 1457.5,700.5 1458.3,705.3 1459.2,708.5 1460.2,710.8 1461.2,711.0 1462.1,711.6 1463.1,712.5 1464.1,714.4 1465.1,714.5 1466.1,714.5 1467.0,715.9 1468.0,717.2 1469.0,717.6 1470.0,718.5 1470.9,719.0 1471.9,721.2 1472.9,721.4 1473.8,722.8 1474.8,725.3 1475.8,726.7 1476.8,727.4 1477.7,729.1 1478.7,730.1 1479.7,732.3 1480.6,733.7 1481.6,736.0 1482.6,737.1 1483.5,739.0 1484.5,741.4 1485.4,742.5 1486.4,745.0 1487.3,748.6 1488.3,751.6 1489.2,754.1 1490.2,757.7 1491.1,760.6 1492.1,763.3 1493.0,764.6 1494.0,766.5 1494.9,766.9 1495.8,766.4 1496.8,765.4 1497.7,763.7 1498.7,763.0 1499.6,759.9 1500.6,758.1 1501.5,755.2 1502.5,752.9 1503.4,750.0 1504.4,746.6 1505.3,742.9 1506.2,739.7 1507.2,734.9 1508.1,730.7 1509.1,725.2 1510.0,719.5 1511.0,713.1 1511.9,706.6 1512.9,700.5 1513.8,694.3 1514.8,689.6 1515.7,683.7 1516.7,678.9 1517.7,672.8 1518.7,668.3 1519.7,663.4 1520.7,658.7 1521.7,653.9 1522.7,650.0 1523.7,644.1 1524.7,640.2 1525.7,635.4 1526.7,630.1 1527.7,624.4 1528.7,619.3 1529.6,613.4 1530.6,608.3 1531.5,602.1 1532.5,596.2 1533.4,589.0 1534.4,583.3 1535.3,576.9 1536.3,571.1 1537.2,564.6 1538.2,559.0 1539.1,553.6 1540.1,547.9 1541.0,542.3 1542.0,537.5 1543.0,530.7 1544.0,525.9 1545.0,521.7 1545.9,517.8 1546.9,514.8 1547.9,513.3 1548.8,510.6 1549.8,509.9 1550.8,507.7 1551.7,506.5 1552.7,505.7 1553.6,504.0 1554.6,504.2 1555.6,505.3 1556.5,505.0 1557.5,507.0 1558.5,508.8 1559.5,509.4 1560.5,511.1 1561.4,511.4 1562.4,513.1 1563.3,512.0 1564.3,510.7 1565.2,508.8 1566.2,505.9 1567.1,502.4 1568.1,498.5 1569.0,495.2 1570.0,493.5 1570.9,490.3 1571.9,490.2 1572.8,488.7 1573.8,489.5 1574.8,489.3 1575.8,490.2 1576.8,489.5 1577.8,490.2 1578.8,492.0 1579.8,492.0 1580.8,492.2 1581.8,493.5 1582.8,493.3 1583.8,494.6 1584.8,493.3 1585.8,494.7 1586.8,493.5 1587.8,494.0 1588.8,493.1 1589.8,492.9 1590.8,494.5 1591.8,493.4 1592.8,492.8 1593.8,492.6 1594.8,490.9 1595.8,491.4 1596.8,492.9 1597.8,492.2 1598.8,492.2 1599.8,491.2 1600.8,493.3 1601.7,492.6 1602.7,494.9 1603.7,494.0 1604.7,495.3 1605.6,497.6 1606.6,498.9 1607.6,501.2 1608.5,499.8 1609.5,502.0 1610.5,504.8 1611.5,503.2 1612.5,506.4 1613.4,504.6 1614.4,505.7 1615.4,505.0 1616.4,504.2 1617.4,506.5 1618.4,504.5 1619.4,505.6 1620.4,504.0 1621.3,506.1 1622.3,506.2 1623.3,505.9 1624.3,505.1 1625.3,505.6 1626.3,505.4 1627.3,506.0 1628.3,503.4 1629.2,503.7 1630.2,506.5 1631.2,507.1 1632.2,508.4 1633.2,508.3 1634.1,510.5 1635.1,510.0 1636.1,511.0 1637.0,512.7 1638.0,514.1 1639.0,516.2 1640.0,518.1 1641.0,516.7 1641.9,518.9 1642.9,519.1 1643.9,520.3 1644.9,520.7 1645.8,522.9 1646.8,524.4 1647.8,524.3 1648.8,527.9 1649.7,526.9 1650.7,530.2 1651.7,531.2 1652.7,531.2 1653.6,532.8 1654.6,533.3 1655.6,532.9 1656.5,534.0 1657.5,533.7 1658.5,535.6 1659.4,536.0 1660.4,533.8 1661.3,533.8 1662.3,536.0 1663.2,533.6 1664.2,535.6 1665.1,536.3 1666.1,534.3 1667.0,536.5 1668.0,535.2 1668.9,536.3 1669.9,534.9 1670.9,536.9 1671.9,539.1 1672.9,537.6 1673.9,540.2 1674.9,542.3 1675.9,542.9 1676.9,544.7 1677.9,548.1 1678.9,550.2 1679.9,551.0 1680.9,551.9 1681.9,553.7 1682.8,554.3 1683.8,555.7 1684.7,557.7 1685.7,561.3 1686.6,563.6 1687.6,565.2 1688.5,567.1 1689.5,566.9 1690.4,568.0 1691.4,568.9 1692.3,569.2 1693.3,568.9 1694.2,569.5 1695.2,567.5 1696.2,567.7 1697.2,567.7 1698.2,568.1 1699.1,567.2 1700.1,566.0 1701.1,564.8 1702.0,564.7 1703.0,561.3 1704.0,560.7 1705.0,561.9 1706.0,559.5 1706.9,560.2 1707.9,557.8 1708.9,559.0 1709.8,557.4 1710.8,556.8 1711.7,556.8 1712.7,557.4 1713.6,556.4 1714.6,557.7 1715.5,558.2 1716.5,557.3 1717.4,556.5 1718.4,555.3 1719.3,555.4 1720.3,555.7 1721.2,556.9 1722.2,555.7 1723.1,554.5 1724.1,553.2 1725.0,554.1 1726.0,553.4 1727.0,554.1 1728.0,553.7 1728.9,551.6 1729.9,551.3 1730.9,550.4 1731.8,547.9 1732.8,548.8 1733.8,548.0 1734.8,546.1 1735.8,542.6 1736.7,541.6 1737.7,541.2 1738.7,540.2 1739.6,538.8 1740.6,536.3 1741.6,535.9 1742.6,533.4 1743.6,531.2 1744.6,530.3 1745.6,528.7 1746.6,527.3 1747.6,524.7 1748.6,522.7 1749.6,520.6 1750.6,519.7 1751.6,519.0 1752.6,516.1 1753.6,514.2 1754.6,511.9 1755.5,510.5 1756.5,510.1 1757.4,506.8 1758.4,505.2 1759.3,503.7 1760.3,500.5 1761.2,498.8 1762.2,499.1 1763.1,497.3 1764.1,498.1 1765.0,496.1 1766.0,495.8 1767.0,497.6 1767.9,501.8 1768.9,502.8 1769.9,505.3 1770.8,508.7 1771.8,508.2 1772.8,509.2 1773.7,509.3 1774.6,509.2 1775.5,507.4 1776.4,507.9 1777.3,504.6 1778.2,502.9 1779.1,502.3 1780.0,502.0"/>
<polygon fill="#ff8000" stroke="#ff8000" stroke-width="1" points="1780.0,497.4 1781.9,496.5 1783.5,494.4 1784.8,494.5 1786.0,489.1 1787.4,479.2 1789.0,472.9 1790.3,467.1 1791.4,461.2 1792.8,461.0 1793.9,459.7 1795.2,460.6 1795.5,458.0 1795.5,520.0 1795.2,521.3 1793.9,526.0 1792.8,529.2 1791.4,534.0 1790.3,533.6 1789.0,532.2 1787.4,533.9 1786.0,534.7 1784.8,518.0 1783.5,506.1 1781.9,506.8 1780.0,505.7"/>
<polyline stroke="#00c800" points="131.1,215.1 132.1,214.5 133.1,215.3 134.1,215.7 135.1,214.9 136.1,215.7 137.1,215.2 138.1,215.1 139.1,215.5 140.1,216.2 141.1,215.5 142.1,216.4 143.1,216.1 144.1,215.9 145.1,216.4 146.1,216.5 147.1,216.8 148.1,217.5 149.1,217.7 150.1,216.8 151.1,218.0 152.1,217.7 153.1,218.3 154.1,218.2 155.1,218.0 156.1,217.7 157.1,218.8 158.1,219.0 159.1,218.7 160.1,218.1 161.1,219.2 162.1,219.3 163.1,219.6 164.1,219.9 165.1,220.0 166.1,219.8 167.1,219.5 168.1,219.8 169.1,219.9 170.1,220.4 171.1,220.4 172.1,220.8 173.1,220.6 174.1,220.8 175.1,221.5 176.1,221.4 177.1,221.8 178.0,221.6 179.0,221.0 180.0,221.5 181.0,221.5 182.0,221.6 183.0,221.6 183.9,221.7 184.9,222.4 185.9,223.0 186.9,223.3 187.9,223.6 188.9,223.2 189.8,222.6 190.8,223.0 191.8,223.0 192.8,224.3 193.8,223.7 194.8,224.4 195.7,224.2 196.7,224.6 197.7,225.1 198.7,225.0 199.7,224.4 200.7,225.3 201.7,225.1 202.6,226.2 203.6,225.4 204.6,225.5 205.6,226.6 206.6,226.1 207.6,225.8 208.5,227.0 209.5,227.3 210.5,226.9 211.5,226.6 212.5,227.8 213.5,227.2 214.4,227.3 215.4,227.2 216.4,228.5 217.4,227.8 218.4,227.8 219.4,228.4 220.3,229.0 221.3,229.6 222.3,228.7 223.3,229.5 224.3,229.2 225.3,230.2 226.2,229.8 227.2,230.3 228.2,230.7 229.2,230.4 230.2,230.5 231.1,230.0 232.1,230.4 233.1,231.3 234.1,231.6 235.1,231.5 236.0,230.9 237.0,232.1 238.0,232.4 239.0,232.6 240.0,232.7 240.9,232.8 241.9,232.5 242.9,232.8 243.9,232.8 244.9,233.6 245.8,233.5 246.8,234.4 247.8,233.8 248.8,234.2 249.8,234.2 250.8,234.8 251.7,235.8 252.7,236.3 253.7,236.8 254.7,235.9 255.7,237.3 256.7,237.5 257.7,237.7 258.7,239.0 259.6,239.1 260.6,239.1 261.6,240.3 262.6,240.3 263.5,240.9 264.5,241.5 265.4,242.0 266.4,242.0 267.3,243.8 268.2,243.8 269.2,244.7 270.1,245.1 271.0,246.5 272.0,246.7 272.9,247.5 273.9,248.8 274.8,250.7 275.8,251.7 276.8,253.1 277.8,253.8 278.8,256.0 279.8,258.2 280.7,260.2 281.7,261.8 282.7,263.5 283.7,266.1 284.7,269.2 285.7,271.6 286.7,273.9 287.6,276.4 288.6,279.8 289.6,283.0 290.6,286.2 291.6,290.2 292.5,293.4 293.5,296.3 294.5,300.8 295.5,304.5 296.5,307.5 297.4,312.1 298.4,316.9 299.4,320.7 300.4,325.0 301.4,329.1 302.3,333.4 303.3,338.6 304.3,342.0 305.2,346.4 306.1,350.1 307.1,355.0 308.0,359.6 308.9,364.0 309.9,368.7 310.8,372.1 311.7,376.3 312.6,380.8 313.6,385.0 314.5,390.0 315.4,393.3 316.3,397.9 317.2,402.9 318.2,406.4 319.1,410.9 320.0,415.2 320.9,419.4 321.8,423.7 322.8,428.8 323.7,432.1 324.6,436.9 325.5,443.0 326.4,448.2 327.3,453.9 328.3,460.9 329.2,468.2 330.1,475.4 331.1,483.0 332.0,489.8 333.0,497.0 333.9,503.5 334.9,510.7 335.8,516.6 336.8,524.3 337.7,528.9 338.7,535.0 339.6,539.8 340.6,544.3 341.5,550.1 342.5,553.8 343.4,557.7 344.4,562.0 345.3,565.8 346.3,570.2 347.2,574.6 348.2,578.3 349.1,580.9 350.1,585.1 351.0,588.4 351.9,592.1 352.9,594.6 353.8,597.7 354.8,601.0 355.7,605.2 356.7,607.0 357.6,610.0 358.6,613.5 359.5,615.8 360.5,618.8 361.4,622.7 362.4,624.4 363.3,628.0 364.3,630.9 365.3,633.2 366.2,636.0 367.2,638.5 368.2,641.4 369.2,644.5 370.2,647.2 371.1,649.8 372.1,652.2 373.1,655.5 374.1,657.4 375.1,659.8 376.0,662.3 377.0,665.1 378.0,667.0 379.0,669.5 380.0,671.8 380.9,673.4 381.9,676.1 382.9,677.3 383.9,679.9 384.9,681.7 385.8,683.4 386.8,684.6 387.8,686.9 388.7,687.5 389.6,688.9 390.6,689.7 391.5,691.9 392.4,692.9 393.4,692.8 394.3,693.6 395.2,693.6 396.2,693.3 397.2,693.9 398.1,693.1 399.1,692.8 400.1,691.7 401.1,690.3 402.1,690.0 403.0,688.0 404.0,687.6 405.0,686.5 406.0,684.9 407.0,684.0 408.0,683.1 408.9,681.2 409.9,679.8 410.9,679.0 411.9,678.0 412.9,675.8 413.9,674.6 414.9,672.1 415.9,669.7 416.8,667.8 417.8,666.2 418.8,664.7 419.8,662.4 420.8,660.4 421.8,657.2 422.7,654.6 423.7,651.3 424.7,647.6 425.7,644.8 426.7,640.9 427.6,638.1 428.6,634.5 429.6,630.0 430.6,626.3 431.6,622.9 432.5,618.9 433.5,615.7 434.5,613.4 435.5,610.1 436.5,606.0 437.4,603.3 438.4,598.9 439.4,596.6 440.4,592.6 441.4,589.2 442.3,585.4 443.3,581.6 444.3,579.1 445.3,575.9 446.3,572.9 447.2,569.9 448.2,567.2 449.2,563.0 450.2,561.2 451.2,557.6 452.2,556.1 453.1,553.0 454.1,549.8 455.1,547.8 456.1,546.0 457.1,543.7 458.1,541.4 459.1,538.4 460.1,536.3 461.0,534.0 462.0,531.4 463.0,529.5 464.0,526.3 465.0,524.1 466.0,522.4 467.0,520.4 468.0,518.5 469.0,515.1 470.0,514.2 471.0,511.0 472.0,508.9 473.0,507.1 474.0,505.1 475.0,501.6 476.0,499.4 477.0,497.5 477.9,494.8 478.9,491.5 479.9,488.6 480.9,486.5 481.9,482.9 482.8,480.2 483.8,476.9 484.8,474.3 485.8,471.7 486.8,468.9 487.7,466.3 488.7,463.2 489.7,459.8 490.7,457.1 491.7,454.0 492.7,450.8 493.6,447.8 494.6,445.9 495.6,442.6 496.6,439.6 497.6,436.3 498.6,432.7 499.6,430.4 500.6,427.1 501.5,424.6 502.5,421.5 503.5,418.8 504.5,415.5 505.5,414.0 506.5,411.2 507.4,408.5 508.4,405.6 509.4,403.8 510.4,401.0 511.4,398.4 512.3,396.9 513.3,394.5 514.3,392.4 515.3,390.5 516.3,387.5 517.2,385.7 518.2,383.0 519.2,381.8 520.2,380.2 521.1,377.8 522.1,375.4 523.0,374.6 524.0,372.4 524.9,370.4 525.9,369.5 526.8,367.4 527.8,365.9 528.8,364.5 529.7,362.7 530.7,361.4 531.6,359.3 532.6,357.7 533.5,356.5 534.5,355.5 535.4,353.3 536.4,351.7 537.4,350.3 538.3,349.0 539.3,347.2 540.2,346.2 541.2,345.0 542.1,344.2 543.1,341.5 544.0,340.4 545.0,338.9 546.0,337.9 546.9,337.2 547.9,334.9 548.8,334.1 549.8,332.6 550.7,331.9 551.7,330.2 552.6,329.6 553.6,328.1 554.6,326.9 555.6,325.4 556.6,323.1 557.5,321.8 558.5,321.7 559.5,319.3 560.5,317.8 561.5,317.3 562.5,316.0 563.5,314.1 564.4,313.3 565.4,312.0 566.4,310.8 567.4,309.5 568.4,308.0 569.4,307.6 570.3,306.0 571.3,305.6 572.3,304.7 573.3,302.3 574.3,302.3 575.3,301.1 576.2,299.3 577.2,298.5 578.2,296.9 579.2,296.5 580.2,294.6 581.1,294.0 582.1,292.4 583.1,292.4 584.1,290.7 585.1,291.0 586.0,289.5 587.0,289.5 588.0,289.8 588.9,289.4 589.9,290.0 590.8,289.3 591.7,290.5 592.6,290.1 593.5,290.8 594.5,290.0 595.4,290.6 596.4,291.1 597.4,292.3 598.3,293.1 599.3,293.2 600.3,294.2 601.3,295.3 602.3,296.2 603.2,297.7 604.2,299.9 605.2,300.5 606.2,302.9 607.2,303.8 608.1,304.8 609.1,306.4 610.1,307.4 611.0,309.2 612.0,309.9 612.9,311.5 613.8,312.5 614.7,314.0 615.6,314.5 616.6,316.7 617.5,317.3 618.4,319.2 619.3,321.8 620.2,323.9 621.1,325.3 622.1,327.0 623.0,328.6 623.9,329.8 624.8,330.7 625.7,329.4 626.6,328.0 627.6,327.4 628.5,325.5 629.4,323.9 630.4,322.0 631.3,319.8 632.2,318.8 633.2,318.3 634.2,316.7 635.2,315.8 636.1,314.6 637.1,313.2 638.1,311.9 639.1,311.6 640.1,310.1 641.1,309.7 642.1,309.1 643.1,306.9 644.0,307.0 645.0,305.5 646.0,304.9 647.0,302.8 648.0,301.6 648.9,299.9 649.9,299.3 650.8,296.8 651.8,295.3 652.7,293.8 653.6,293.1 654.6,291.4 655.5,289.3 656.5,287.6 657.5,285.5 658.4,284.4 659.4,283.2 660.3,280.9 661.2,279.1 662.2,277.9 663.1,277.0 664.1,275.8 665.1,274.7 666.1,274.0 667.1,273.5 668.0,272.1 669.0,270.7 670.0,270.0 671.0,268.6 672.0,268.8 673.0,266.7 674.0,266.6 674.9,266.1 675.9,265.2 676.9,263.6 677.9,263.9 678.9,262.8 679.9,262.6 680.8,261.0 681.8,261.0 682.8,261.1 683.8,259.5 684.8,260.1 685.8,259.1 686.8,258.5 687.7,257.7 688.7,257.8 689.7,256.8 690.7,256.4 691.7,256.0 692.7,255.7 693.6,256.0 694.6,255.4 695.6,255.7 696.6,254.5 697.6,254.2 698.6,254.6 699.5,254.0 700.5,253.1 701.5,253.4 702.5,252.7 703.5,253.4 704.5,252.8 705.4,252.5 706.4,251.7 707.4,252.1 708.4,251.8 709.4,251.3 710.4,250.7 711.4,251.0 712.4,250.1 713.4,249.5 714.4,249.6 715.4,249.3 716.4,249.5 717.4,248.5 718.3,249.2 719.3,248.1 720.3,248.4 721.3,247.9 722.3,248.6 723.3,247.7 724.3,247.1 725.3,246.9 726.3,246.7 727.3,246.9 728.3,246.3 729.3,247.0 730.3,246.5 731.3,245.4 732.3,245.0 733.3,244.9 734.3,245.2 735.3,244.7 736.2,244.7 737.2,244.5 738.2,245.0 739.2,243.7 740.2,244.6 741.2,244.2 742.2,244.1 743.2,243.2 744.2,243.0 745.2,242.8 746.2,243.0 747.2,242.3 748.2,241.5 749.2,241.5 750.2,242.3 751.2,240.6 752.2,241.2 753.2,241.3 754.2,240.4 755.1,240.3 756.1,240.1 757.1,239.2 758.1,239.4 759.1,239.8 760.1,238.9 761.1,238.4 762.1,239.0 763.1,238.7 764.1,238.2 765.1,238.0 766.1,237.2 767.1,237.4 768.1,237.4 769.1,236.2 770.1,236.4 771.1,236.0 772.1,235.7 773.0,236.0 774.0,235.1 775.0,234.9 776.0,235.3 777.0,234.9 778.0,235.0 779.0,234.3 780.0,234.3 781.0,234.9 782.0,234.1 783.0,233.5 784.0,234.6 785.0,234.1 786.0,233.9 787.0,233.8 788.0,233.7 789.0,233.4 790.0,232.5 791.0,232.3 792.0,232.2 793.0,233.3 794.0,232.0 795.0,232.2 796.0,233.0 797.0,231.9 798.0,232.4 799.0,231.6 800.0,231.4 801.0,231.9 802.0,232.1 803.0,231.1 804.0,232.1 805.0,231.6 806.0,231.5 807.0,231.1 808.0,230.6 809.0,231.1 810.0,231.4 811.0,230.8 812.0,230.6 813.0,230.9 814.0,230.0 815.0,229.9 816.0,230.3 817.0,230.4 818.0,230.2 819.0,229.5 820.0,229.9 821.0,230.4 822.0,229.2 823.0,230.2 824.0,229.5 825.0,229.9 826.0,228.7 827.0,228.9 827.9,228.5 828.9,228.7 829.9,229.0 830.9,228.1 831.9,228.4 832.9,228.7 833.8,228.1 834.8,227.7 835.8,227.1 836.8,228.0 837.8,227.8 838.7,226.6 839.7,226.5 840.7,227.2 841.7,226.2 842.7,226.0 843.7,226.2 844.6,226.3 845.6,225.1 846.6,225.6 847.6,224.7 848.6,225.5 849.5,224.4 850.5,224.8 851.5,224.4 852.5,224.3 853.5,224.6 854.5,223.2 855.4,224.2 856.4,223.3 857.4,223.6 858.4,222.9 859.4,222.7 860.4,222.4 861.3,222.7 862.3,221.9 863.3,222.6 864.3,222.5 865.3,222.3 866.2,221.3 867.2,221.9 868.2,221.8 869.2,221.7 870.2,220.7 871.2,221.2 872.1,220.7 873.1,221.4 874.1,221.3 875.1,220.2 876.1,220.1 877.0,220.0 878.0,220.6 879.0,220.3 880.0,220.6 881.0,219.4 882.0,219.2 882.9,219.2 883.9,219.5 884.9,219.3 885.9,219.2 886.9,219.6 887.9,219.0 888.8,218.6 889.8,218.4 890.8,218.2 891.8,218.2 892.8,217.8 893.8,217.9 894.7,218.1 895.7,217.5 896.7,217.8 897.7,218.3 898.7,217.9 899.6,217.0 900.6,217.0 901.6,218.2 902.6,216.9 903.6,217.9 904.6,217.2 905.5,217.1 906.5,216.5 907.5,217.3 908.5,216.8 909.5,216.4 910.5,216.5 911.4,216.7 912.4,216.7 913.4,217.5 914.4,217.6 915.4,216.4 916.4,217.0 917.4,217.4 918.4,216.4 919.4,217.6 920.4,217.7 921.4,216.9 922.4,217.1 923.4,216.7 924.4,217.1 925.4,216.8 926.4,217.5 927.4,217.5 928.4,217.5 929.4,218.4 930.4,217.8 931.4,218.5 932.4,218.4 933.4,217.9 934.4,217.8 935.4,218.1 936.4,217.8 937.4,218.9 938.4,219.1 939.4,218.9 940.4,218.7 941.4,218.6 942.4,218.6 943.4,219.1 944.4,218.8 945.4,219.1 946.4,218.7 947.4,219.5 948.4,218.7 949.4,218.9 950.4,219.1 951.4,219.8 952.4,219.8 953.4,220.0 954.4,219.5 955.4,220.6 956.4,219.9 957.4,219.6 958.4,220.4 959.4,220.9 960.4,220.1 961.4,220.7 962.4,220.4 963.4,220.7 964.4,220.9 965.4,220.5 966.4,220.4 967.4,220.0 968.4,220.1 969.4,221.1 970.4,221.1 971.4,220.7 972.4,220.7 973.4,220.9 974.4,220.3 975.3,220.5 976.3,220.3 977.3,220.3 978.3,221.2 979.3,220.4 980.3,221.0 981.2,220.5 982.2,220.4 983.2,220.0 984.2,220.8 985.2,219.7 986.1,220.8 987.1,219.8 988.1,220.6 989.1,220.6 990.1,219.5 991.1,219.4 992.0,219.3 993.0,219.0 994.0,220.1 995.0,219.0 996.0,218.7 997.0,219.3 997.9,219.7 998.9,218.8 999.9,218.5 1000.9,219.1 1001.9,219.1 1002.8,218.2 1003.8,218.8 1004.8,218.5 1005.8,218.6 1006.8,218.6 1007.8,217.9 1008.7,218.6 1009.7,218.3 1010.7,218.4 1011.7,218.1 1012.7,217.5 1013.6,218.3 1014.6,217.1 1015.6,217.8 1016.6,217.8 1017.6,217.4 1018.6,217.5 1019.5,216.7 1020.5,216.4 1021.5,217.0 1022.5,216.7 1023.4,216.6 1024.4,216.9 1025.3,217.0 1026.3,216.8 1027.2,216.8 1028.2,216.9 1029.1,216.7 1030.1,216.9 1031.1,215.7 1032.0,216.0 1033.0,215.4 1033.9,216.6 1034.9,216.3 1035.8,215.5 1036.8,215.7 1037.7,216.3 1038.7,216.2 1039.5,217.8 1040.4,220.3 1041.2,222.3 1042.2,220.6 1043.2,219.1 1044.1,215.4 1045.1,213.1 1046.1,212.3 1047.1,211.4 1048.1,211.9 1049.0,210.8 1050.0,210.2 1051.0,210.3 1052.0,210.4 1053.0,210.0 1053.9,209.8 1054.9,209.5 1055.9,210.0 1056.9,209.7 1057.9,208.6 1058.8,209.4 1059.8,208.0 1060.8,208.0 1061.8,207.9 1062.8,208.2 1063.7,208.0 1064.7,207.5 1065.7,208.3 1066.7,207.5 1067.7,207.7 1068.6,207.5 1069.6,207.9 1070.6,207.4 1071.6,207.7 1072.6,206.5 1073.6,206.0 1074.5,206.8 1075.5,206.5 1076.5,206.6 1077.5,205.2 1078.5,206.0 1079.5,205.1 1080.4,204.4 1081.4,204.9 1082.4,204.0 1083.4,204.7 1084.4,204.0 1085.4,203.8 1086.3,204.4 1087.3,203.8 1088.3,203.0 1089.3,203.3 1090.3,202.8 1091.3,202.8 1092.2,202.1 1093.2,202.3 1094.2,202.4 1095.2,202.1 1096.2,202.8 1097.2,201.5 1098.2,202.2 1099.1,202.0 1100.1,201.3 1101.1,201.3 1102.1,202.0 1103.1,201.8 1104.1,200.9 1105.0,201.2 1106.0,200.5 1107.0,200.8 1108.0,201.1 1109.0,200.9 1110.0,201.2 1110.9,200.5 1111.9,201.1 1112.9,200.3 1113.9,200.0 1114.9,200.9 1115.9,199.9 1116.8,199.9 1117.8,200.7 1118.8,200.9 1119.8,200.1 1120.8,199.7 1121.8,199.8 1122.7,199.7 1123.7,200.8 1124.7,200.8 1125.7,201.0 1126.7,200.3 1127.6,200.8 1128.6,200.5 1129.6,200.3 1130.6,200.3 1131.6,201.6 1132.5,201.9 1133.5,200.8 1134.5,201.6 1135.5,201.7 1136.5,201.5 1137.4,201.4 1138.4,202.8 1139.4,202.1 1140.4,203.0 1141.3,203.1 1142.3,203.5 1143.3,202.9 1144.2,203.3 1145.2,203.8 1146.1,205.1 1147.1,205.3 1148.1,205.5 1149.0,206.0 1150.0,206.5 1150.9,206.0 1151.9,206.4 1152.8,207.0 1153.7,207.6 1154.7,206.7 1155.6,207.7 1156.5,207.6 1157.5,208.0 1158.4,208.5 1159.4,208.9 1160.4,209.4 1161.4,211.1 1162.4,211.4 1163.4,212.8 1164.4,214.6 1165.4,215.2 1166.4,217.6 1167.3,217.8 1168.3,218.6 1169.2,220.4 1170.2,221.2 1171.1,221.6 1172.1,224.1 1173.0,225.2 1174.0,227.0 1174.9,228.1 1175.9,231.0 1176.8,232.5 1177.8,235.1 1178.7,236.7 1179.7,238.4 1180.6,241.1 1181.6,243.0 1182.6,245.1 1183.5,247.6 1184.5,249.6 1185.4,251.7 1186.4,253.4 1187.3,255.0 1188.3,257.7 1189.2,260.5 1190.2,262.6 1191.1,265.6 1192.1,267.8 1193.0,272.2 1194.0,275.0 1194.9,279.4 1195.8,284.7 1196.8,290.4 1197.7,294.6 1198.6,300.4 1199.6,305.0 1200.5,310.3 1201.4,315.1 1202.4,320.6 1203.3,326.6 1204.2,332.3 1205.2,338.5 1206.1,343.3 1207.0,348.4 1208.0,354.3 1208.9,359.5 1209.8,363.0 1210.7,367.5 1211.6,372.4 1212.6,376.1 1213.5,380.2 1214.4,383.2 1215.3,386.9 1216.1,388.9 1217.0,390.9 1217.8,392.5 1218.7,393.9 1219.5,394.4 1220.4,394.3 1221.3,393.8 1222.2,392.8 1223.1,391.2 1224.0,389.2 1224.9,388.3 1225.8,385.9 1226.7,384.5 1227.7,380.8 1228.6,377.4 1229.5,372.9 1230.5,367.7 1231.4,363.0 1232.3,359.0 1233.3,353.3 1234.2,347.7 1235.1,343.8 1236.1,337.9 1237.0,331.7 1237.9,324.6 1238.9,319.0 1239.8,313.0 1240.7,306.5 1241.7,301.9 1242.6,298.1 1243.5,294.2 1244.5,290.7 1245.4,286.8 1246.4,284.5 1247.3,281.6 1248.3,278.6 1249.2,276.0 1250.2,274.9 1251.1,272.5 1252.0,271.5 1252.9,268.7 1253.8,267.5 1254.7,266.7 1255.6,265.7 1256.5,264.2 1257.4,264.4 1258.2,269.6 1259.0,276.0 1260.0,273.6 1261.0,267.9 1262.0,265.4 1263.0,265.4 1264.0,265.0 1265.0,266.3 1265.9,265.4 1266.9,266.9 1267.9,265.7 1268.9,265.8 1269.8,265.0 1270.8,263.7 1271.8,261.4 1272.7,258.8 1273.7,256.8 1274.7,253.9 1275.7,251.5 1276.6,249.6 1277.6,246.8 1278.6,244.5 1279.5,242.4 1280.5,241.2 1281.4,239.6 1282.4,238.0 1283.3,237.1 1284.3,236.5 1285.2,234.2 1286.2,234.1 1287.1,233.1 1288.1,232.6 1289.0,232.8 1289.9,232.6 1290.8,233.2 1291.7,234.9 1292.6,237.2 1293.5,238.4 1294.4,240.7 1295.3,243.6 1296.1,246.9 1297.0,250.8 1297.8,255.3 1298.7,258.9 1299.5,261.7 1300.5,264.2 1301.4,264.5 1302.4,266.6 1303.3,267.1 1304.3,267.4 1305.2,268.3 1306.2,269.3 1307.1,269.6 1308.1,270.7 1309.0,271.8 1310.0,271.9 1311.0,274.5 1311.9,275.6 1312.9,276.3 1313.8,279.1 1314.8,280.8 1315.7,282.1 1316.7,283.5 1317.6,284.4 1318.6,285.6 1319.5,287.1 1320.5,287.1 1321.5,288.1 1322.4,288.2 1323.4,287.4 1324.4,287.8 1325.3,287.9 1326.3,288.2 1327.2,288.1 1328.2,289.1 1329.2,289.5 1330.1,289.2 1331.1,289.1 1332.0,290.1 1332.9,292.9 1333.8,296.5 1334.7,300.3 1335.6,303.2 1336.5,305.0 1337.4,306.7 1338.2,304.7 1339.1,299.4 1339.9,294.2 1340.8,289.1 1341.6,285.0 1342.6,283.0 1343.6,281.1 1344.6,279.3 1345.6,277.3 1346.5,275.4 1347.5,274.4 1348.5,273.6 1349.5,272.3 1350.5,270.3 1351.5,269.1 1352.5,269.2 1353.5,267.0 1354.4,266.4 1355.4,265.8 1356.4,265.5 1357.4,264.4 1358.4,263.8 1359.4,264.0 1360.3,263.4 1361.3,262.1 1362.3,262.2 1363.2,261.1 1364.2,261.7 1365.2,260.2 1366.1,260.7 1367.1,259.8 1368.1,259.7 1369.0,259.2 1370.0,257.9 1371.0,257.8 1371.9,257.2 1372.9,257.0 1373.9,256.9 1374.8,256.9 1375.8,256.3 1376.8,256.5 1377.7,256.1 1378.7,255.9 1379.7,255.8 1380.6,255.6 1381.6,256.2 1382.6,256.1 1383.6,255.5 1384.6,256.1 1385.6,256.2 1386.6,257.4 1387.6,257.0 1388.6,257.9 1389.6,259.0 1390.6,259.7 1391.6,259.6 1392.6,260.3 1393.6,260.6 1394.6,261.5 1395.6,261.8 1396.6,262.4 1397.6,263.5 1398.6,263.3 1399.6,263.6 1400.6,263.4 1401.6,264.0 1402.6,264.7 1403.6,263.9 1404.6,264.1 1405.5,263.1 1406.5,262.4 1407.5,260.6 1408.5,259.7 1409.4,258.5 1410.4,257.8 1411.4,256.6 1412.4,255.3 1413.3,254.4 1414.3,253.3 1415.3,252.6 1416.3,252.0 1417.2,251.6 1418.2,250.3 1419.2,250.2 1420.1,248.2 1421.1,248.5 1422.1,247.7 1423.1,246.3 1424.0,245.8 1425.0,246.3 1426.0,245.1 1426.9,245.2 1427.9,245.8 1428.8,245.2 1429.7,246.9 1430.6,249.2 1431.5,253.2 1432.4,256.9 1433.3,259.8 1434.2,264.2 1435.1,269.8 1436.0,275.5 1436.9,284.7 1437.8,293.0 1438.7,301.7 1439.6,309.3 1440.5,316.6 1441.3,323.4 1442.2,330.0 1443.0,335.2 1443.9,339.7 1444.7,342.5 1445.6,341.3 1446.5,340.8 1447.5,338.3 1448.4,336.9 1449.3,335.8 1450.2,333.8 1451.2,332.3 1452.1,331.9 1453.0,332.7 1453.9,334.7 1454.8,335.5 1455.7,337.5 1456.7,341.2 1457.6,343.1 1458.5,347.3 1459.4,350.2 1460.3,352.5 1461.2,356.0 1462.1,359.1 1463.1,361.9 1464.0,365.2 1464.9,368.1 1465.9,371.6 1466.8,374.6 1467.8,377.9 1468.7,381.4 1469.6,386.0 1470.6,389.7 1471.5,395.3 1472.4,401.3 1473.4,408.5 1474.3,417.7 1475.2,427.1 1476.1,433.9 1477.1,439.9 1478.0,442.1 1478.9,440.4 1479.9,439.2 1480.8,435.9 1481.7,431.5 1482.6,429.6 1483.6,427.2 1484.5,425.5 1485.5,427.4 1486.5,429.7 1487.4,434.8 1488.4,440.0 1489.4,445.1 1490.3,450.8 1491.3,455.0 1492.3,457.6 1493.2,458.3 1494.0,459.9 1494.9,460.6 1495.8,461.4 1496.6,462.3 1497.5,462.4 1498.5,461.4 1499.5,461.1 1500.4,459.2 1501.4,456.0 1502.4,453.8 1503.3,449.6 1504.3,446.0 1505.3,441.6 1506.2,436.8 1507.0,428.8 1507.9,418.9 1508.8,409.8 1509.6,398.5 1510.5,389.8 1511.4,380.9 1512.2,372.6 1513.1,363.7 1514.0,353.9 1514.8,345.4 1515.7,338.1 1516.7,328.0 1517.7,319.0 1518.6,310.9 1519.6,302.4 1520.6,293.2 1521.5,286.3 1522.5,278.9 1523.5,272.3 1524.4,267.6 1525.4,262.9 1526.3,257.4 1527.3,254.3 1528.2,249.3 1529.2,245.1 1530.1,241.3 1531.1,239.0 1532.0,235.0 1533.0,232.1 1533.9,229.1 1534.9,225.9 1535.9,222.7 1536.8,218.6 1537.8,216.7 1538.8,213.9 1539.8,210.9 1540.7,209.6 1541.7,207.6 1542.7,206.6 1543.6,205.9 1544.6,205.3 1545.5,203.7 1546.5,202.8 1547.4,202.7 1548.4,201.8 1549.3,201.4 1550.3,200.9 1551.2,200.2 1552.2,199.8 1553.1,199.7 1554.1,198.5 1555.0,198.6 1556.0,198.5 1556.9,197.5 1557.9,196.7 1558.8,196.7 1559.8,196.4 1560.8,196.0 1561.8,194.8 1562.7,194.3 1563.7,194.5 1564.7,193.9 1565.7,193.1 1566.6,192.9 1567.6,193.3 1568.6,191.7 1569.5,192.7 1570.5,191.8 1571.5,192.2 1572.5,190.7 1573.5,190.5 1574.4,190.9 1575.4,190.6 1576.4,191.6 1577.4,191.1 1578.3,191.4 1579.3,191.2 1580.3,190.9 1581.2,191.4 1582.2,192.3 1583.2,191.9 1584.2,191.8 1585.2,192.6 1586.1,192.8 1587.1,193.7 1588.1,194.1 1589.0,193.5 1590.0,194.1 1591.0,195.0 1592.0,196.7 1593.0,196.4 1593.9,196.2 1594.9,196.5 1595.9,197.7 1596.8,197.6 1597.8,201.1 1598.8,199.4 1599.8,202.4 1600.8,201.3 1601.7,204.4 1602.7,204.9 1603.7,206.4 1604.6,205.9 1605.6,206.9 1606.6,207.6 1607.6,208.4 1608.5,210.5 1609.5,210.4 1610.4,210.2 1611.4,212.2 1612.3,212.7 1613.3,211.8 1614.3,213.6 1615.2,216.0 1616.2,215.5 1617.1,215.1 1618.1,216.2 1619.1,216.6 1620.0,218.7 1621.0,219.5 1621.9,218.0 1622.9,221.1 1623.8,221.0 1624.8,221.0 1625.8,220.7 1626.8,220.7 1627.8,223.5 1628.8,223.6 1629.8,222.0 1630.8,222.1 1631.7,222.6 1632.7,225.0 1633.7,224.5 1634.7,224.3 1635.7,225.2 1636.7,225.2 1637.7,226.2 1638.6,226.7 1639.6,228.0 1640.5,227.6 1641.5,230.8 1642.4,232.1 1643.4,232.6 1644.3,234.4 1645.3,235.2 1646.2,238.3 1647.2,238.9 1648.1,239.3 1649.1,238.6 1650.0,241.3 1651.0,240.8 1652.0,243.2 1653.0,241.7 1654.0,244.0 1654.9,243.8 1655.9,245.0 1656.9,244.3 1657.8,245.7 1658.8,247.8 1659.8,248.0 1660.8,248.9 1661.8,248.4 1662.7,250.1 1663.7,250.5 1664.7,251.1 1665.6,249.9 1666.6,250.6 1667.5,251.5 1668.5,251.7 1669.5,251.6 1670.4,254.5 1671.4,253.3 1672.3,255.3 1673.3,255.9 1674.2,254.1 1675.2,256.2 1676.2,257.2 1677.1,256.7 1678.1,258.7 1679.0,258.5 1680.0,259.0 1681.0,258.6 1681.9,262.0 1682.9,260.8 1683.9,262.7 1684.8,262.5 1685.8,262.8 1686.8,265.7 1687.7,266.9 1688.7,267.9 1689.6,269.1 1690.6,269.8 1691.6,270.0 1692.5,269.9 1693.5,272.9 1694.5,272.9 1695.5,273.2 1696.5,273.4 1697.5,276.1 1698.5,276.4 1699.5,279.0 1700.5,279.7 1701.5,281.1 1702.5,282.2 1703.5,281.7 1704.5,282.7 1705.5,285.6 1706.5,284.5 1707.5,285.9 1708.5,285.5 1709.5,286.8 1710.5,286.7 1711.5,287.1 1712.5,286.2 1713.4,282.4 1714.4,277.9 1715.3,272.8 1716.3,269.3 1717.2,266.9 1718.2,264.5 1719.2,264.5 1720.2,265.2 1721.2,264.1 1722.2,265.3 1723.2,264.2 1724.2,264.0 1725.2,263.0 1726.2,263.5 1727.2,263.7 1728.2,263.2 1729.2,262.8 1730.2,262.6 1731.2,263.6 1732.2,264.3 1733.2,263.1 1734.2,263.3 1735.2,262.2 1736.2,264.0 1737.2,261.7 1738.2,261.2 1739.2,257.6 1740.2,255.2 1741.2,250.8 1742.2,247.2 1743.2,246.8 1744.2,243.6 1745.2,242.8 1746.2,241.3 1747.1,240.4 1748.1,241.2 1749.1,239.3 1750.0,240.7 1751.0,240.2 1752.0,239.9 1752.9,239.5 1753.9,238.7 1754.8,236.8 1755.8,236.4 1756.8,237.4 1757.7,237.0 1758.7,236.6 1759.7,233.3 1760.6,233.3 1761.6,230.8 1762.5,227.5 1763.5,222.5 1764.4,218.5 1765.4,214.8 1766.3,211.5 1767.2,203.0 1768.1,196.1 1769.0,192.3 1769.9,188.1 1770.9,187.9 1771.8,187.6 1772.8,187.4 1773.7,187.2 1774.7,187.0 1775.6,186.7 1776.6,186.2 1777.6,183.6 1778.5,177.8 1779.5,169.9 1780.5,161.4 1781.5,153.3 1782.4,146.9 1783.4,143.5 1784.1,142.4 1784.9,141.5 1785.6,141.2 1786.2,160.6 1786.8,193.0"/>
</g>
<text class="ser" x="127.8" y="1327" font-size="48" font-weight="bold" text-anchor="middle">4000</text>
<text class="ser" x="590.5" y="1327" font-size="48" font-weight="bold" text-anchor="middle">3000</text>
<text class="ser" x="1052.5" y="1327" font-size="48" font-weight="bold" text-anchor="middle">2000</text>
<text class="ser" x="1515.0" y="1327" font-size="48" font-weight="bold" text-anchor="middle">1000</text>
<text class="ser" transform="translate(960,1390) scale(0.963,1)" x="0" y="0" font-size="62" font-weight="bold" text-anchor="middle">Wavenumber (cm<tspan font-size="46" dy="-26.3">-1</tspan><tspan dy="26.3">)</tspan></text>
<text class="ser" transform="translate(79.5,651) rotate(-90) scale(0.95,1)" x="0" y="0" font-size="62" font-weight="bold" text-anchor="middle">Transmittance rate (%)</text>
<line x1="507.0" y1="87.6" x2="574.5" y2="87.6" stroke="#000000" stroke-width="6.5"/>
<text class="ser" x="608.2" y="104.0" font-size="52">SH1-20</text>
<line x1="825.0" y1="84.7" x2="892.5" y2="84.7" stroke="#ff0000" stroke-width="6.5"/>
<text class="ser" x="926.6" y="101.0" font-size="52">SH1-50</text>
<line x1="1149.0" y1="81.5" x2="1216.0" y2="81.5" stroke="#0000ff" stroke-width="6.5"/>
<text class="ser" x="1251.2" y="98.0" font-size="52">SH1-70</text>
<line x1="504.0" y1="151.7" x2="571.3" y2="151.7" stroke="#b06a12" stroke-width="6.5"/>
<text class="ser" x="608.4" y="168.6" font-size="52">A130-20</text>
<line x1="825.0" y1="148.9" x2="892.0" y2="148.9" stroke="#ff8000" stroke-width="6.5"/>
<text class="ser" x="930.8" y="164.3" font-size="52">A130-50</text>
<line x1="1149.0" y1="148.2" x2="1216.0" y2="148.2" stroke="#00c800" stroke-width="6.5"/>
<text class="ser" x="1254.0" y="164.3" font-size="52">A130-70</text>
<text class="san" transform="translate(473.4,1244.0) scale(0.937,1)" x="0" y="0" font-size="53.4">3438</text>
<text class="san" transform="translate(582.0,1008.5) scale(0.937,1)" x="0" y="0" font-size="53.4">2958</text>
<text class="san" transform="translate(1157.0,1229.8) scale(0.937,1)" x="0" y="0" font-size="53.4">1644</text>
<text class="san" transform="translate(1267.0,1054.0) scale(0.937,1)" x="0" y="0" font-size="53.4">1416</text>
<text class="san" transform="translate(1423.0,1240.0) scale(0.937,1)" x="0" y="0" font-size="53.4">1076</text>
<text class="san" transform="translate(1515.6,956.5) scale(0.937,1)" x="0" y="0" font-size="53.4">930</text>
<g stroke="#000" stroke-width="6" fill="none">
<line x1="402.3" y1="1226" x2="459.2" y2="1226"/>
<line x1="630.2" y1="910.4" x2="630.2" y2="959.5"/>
<line x1="1214.2" y1="1134.7" x2="1214.2" y2="1193.7"/>
<line x1="1324.5" y1="947.4" x2="1324.5" y2="1015.8"/>
<line x1="1476.1" y1="1141.2" x2="1476.1" y2="1201.8"/>
<line x1="1546.9" y1="839.7" x2="1546.9" y2="907.2"/>
</g>
</svg>
</body></html>
